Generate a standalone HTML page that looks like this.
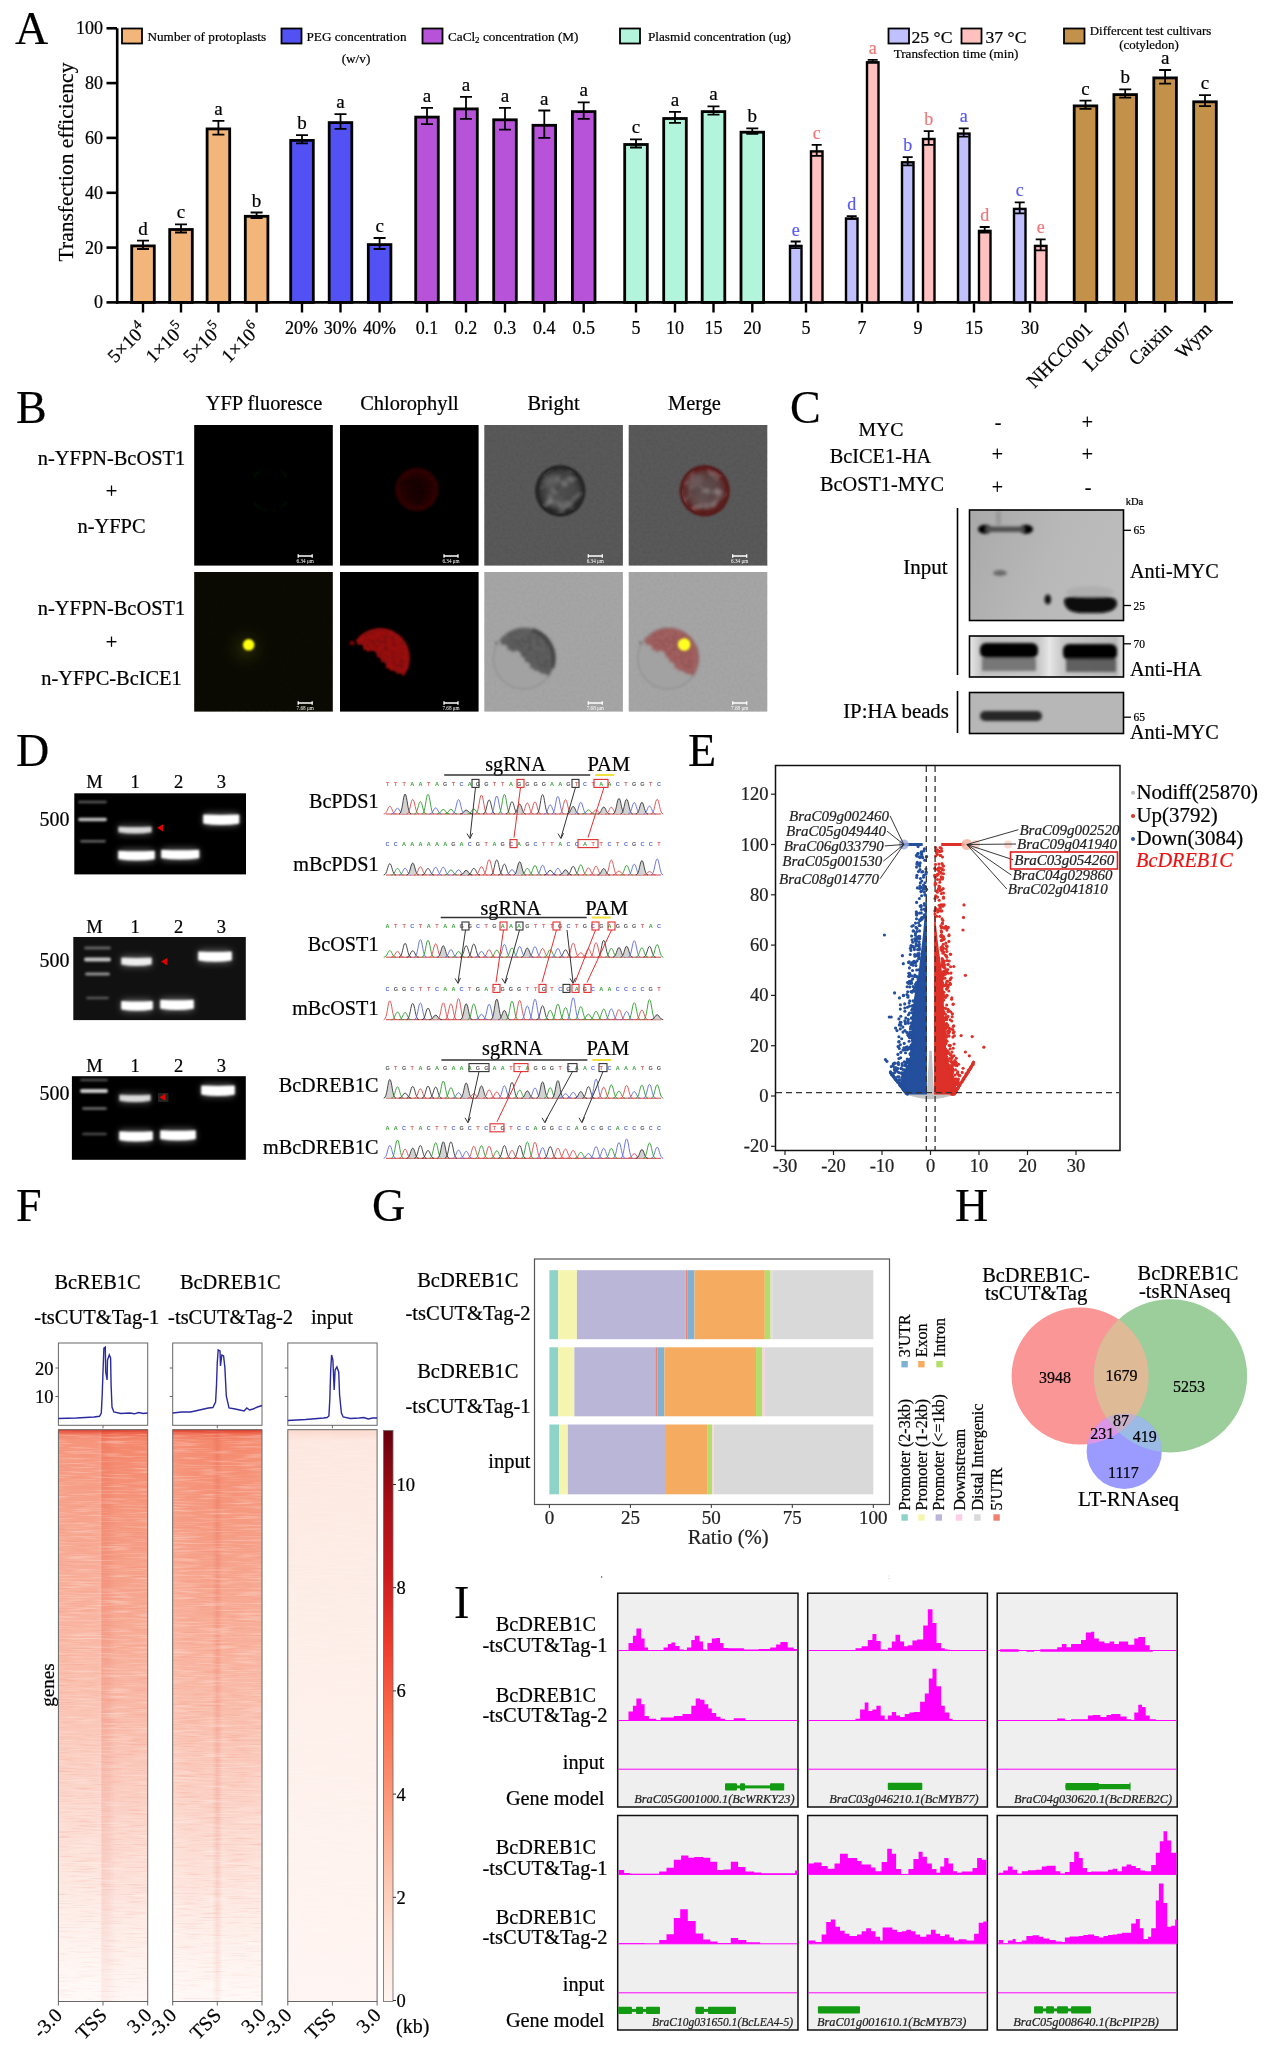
<!DOCTYPE html>
<html><head><meta charset="utf-8"><style>
html,body{margin:0;padding:0;background:#fff;}
body{width:1266px;height:2055px;overflow:hidden;}
svg{display:block;font-family:"Liberation Serif",serif;will-change:transform;}
</style></head><body>
<svg width="1266" height="2055" viewBox="0 0 1266 2055">
<defs>

<filter id="blur1" x="-50%" y="-50%" width="200%" height="200%"><feGaussianBlur stdDeviation="1"/></filter>
<filter id="blur2" x="-50%" y="-50%" width="200%" height="200%"><feGaussianBlur stdDeviation="2"/></filter>
<filter id="blur3" x="-50%" y="-50%" width="200%" height="200%"><feGaussianBlur stdDeviation="3"/></filter>
<filter id="blur5" x="-50%" y="-50%" width="200%" height="200%"><feGaussianBlur stdDeviation="5"/></filter>
<filter id="blur08" x="-50%" y="-50%" width="200%" height="200%"><feGaussianBlur stdDeviation="0.8"/></filter>
<filter id="blur15" x="-50%" y="-50%" width="200%" height="200%"><feGaussianBlur stdDeviation="1.5"/></filter>
<filter id="noiseB" x="0" y="0" width="100%" height="100%">
  <feTurbulence type="fractalNoise" baseFrequency="0.35" numOctaves="2" seed="3" result="n"/>
  <feColorMatrix in="n" type="matrix" values="0 0 0 0 0  0 0 0 0 0  0 0 0 0 0  0 0 0 0.5 -0.2" />
</filter>
<radialGradient id="cellDark" cx="0.5" cy="0.5" r="0.5">
  <stop offset="0" stop-color="#4e4e4e"/><stop offset="0.6" stop-color="#474747"/><stop offset="0.85" stop-color="#333"/><stop offset="1" stop-color="#262626"/>
</radialGradient>
<radialGradient id="cellRed" cx="0.5" cy="0.5" r="0.5">
  <stop offset="0" stop-color="#5e5050"/><stop offset="0.6" stop-color="#5a4242"/><stop offset="0.88" stop-color="#5e2424"/><stop offset="1" stop-color="#502020"/>
</radialGradient>
<radialGradient id="chlRing" cx="0.5" cy="0.5" r="0.5">
  <stop offset="0" stop-color="#140000"/><stop offset="0.6" stop-color="#220404"/><stop offset="0.9" stop-color="#320606"/><stop offset="1" stop-color="#000" stop-opacity="0"/>
</radialGradient>
<radialGradient id="yglow" cx="0.5" cy="0.5" r="0.5">
  <stop offset="0" stop-color="#2a2a06"/><stop offset="1" stop-color="#0b0b03" stop-opacity="0"/>
</radialGradient>
<clipPath id="cellClip2"><circle cx="560.3" cy="490.8" r="23"/></clipPath><clipPath id="cellClip3"><circle cx="704.7" cy="490.8" r="23"/></clipPath><mask id="cresM" maskUnits="userSpaceOnUse" x="0" y="0" width="1266" height="2055">
<rect x="0" y="0" width="1266" height="2055" fill="#000"/>
<circle cx="40" cy="86" r="30" fill="#fff"/>
<path d="M0,58 L14,72 L58,108 L72,120 L72,140 L0,140 z" fill="#000"/><circle cx="13.6" cy="72.4" r="3.7" fill="#000"/><circle cx="19.6" cy="76.4" r="3.8" fill="#000"/><circle cx="24.2" cy="82.0" r="4.3" fill="#000"/><circle cx="31.9" cy="83.8" r="5.1" fill="#000"/><circle cx="37.0" cy="88.8" r="3.9" fill="#000"/><circle cx="41.9" cy="94.0" r="4.1" fill="#000"/><circle cx="46.5" cy="99.6" r="3.7" fill="#000"/><circle cx="52.1" cy="104.0" r="5.4" fill="#000"/><circle cx="59.1" cy="106.6" r="5.1" fill="#000"/>
</mask>
<filter id="mottle" x="0" y="0" width="100%" height="100%">
  <feTurbulence type="fractalNoise" baseFrequency="0.25" numOctaves="2" seed="11" result="n"/>
  <feColorMatrix in="n" type="matrix" values="0 0 0 0 0  0 0 0 0 0  0 0 0 0 0  2.2 0 0 0 -1.0"/>
</filter>
<filter id="mottleL" x="0" y="0" width="100%" height="100%">
  <feTurbulence type="fractalNoise" baseFrequency="0.09" numOctaves="2" seed="5" result="n"/>
  <feColorMatrix in="n" type="matrix" values="0 0 0 0 0.75  0 0 0 0 0.75  0 0 0 0 0.75  2.6 0 0 0 -1.25"/>
  <feGaussianBlur stdDeviation="0.8"/>
</filter>
<linearGradient id="blot1" x1="0" y1="0" x2="1" y2="0.3"><stop offset="0" stop-color="#a9a9a9"/><stop offset="0.6" stop-color="#b8b8b8"/><stop offset="1" stop-color="#bcbcbc"/></linearGradient>
<linearGradient id="blot2" x1="0" y1="0" x2="1" y2="0"><stop offset="0" stop-color="#e8e8e8"/><stop offset="0.08" stop-color="#c2c2c2"/><stop offset="0.45" stop-color="#c8c8c8"/><stop offset="0.52" stop-color="#e6e6e6"/><stop offset="0.6" stop-color="#c8c8c8"/><stop offset="0.95" stop-color="#b8b8b8"/><stop offset="1" stop-color="#e0e0e0"/></linearGradient>

<linearGradient id="hmV" x1="0" y1="0" x2="0" y2="1">
 <stop offset="0" stop-color="#f06a50"/><stop offset="0.02" stop-color="#f58a6e"/><stop offset="0.15" stop-color="#f6987e"/>
 <stop offset="0.4" stop-color="#f9b09a"/><stop offset="0.65" stop-color="#fbcbbd"/><stop offset="0.85" stop-color="#fde3da"/><stop offset="1" stop-color="#fff3ee"/>
</linearGradient>
<linearGradient id="hmV3" x1="0" y1="0" x2="0" y2="1">
 <stop offset="0" stop-color="#fbd8cc"/><stop offset="0.02" stop-color="#fde8e0"/><stop offset="0.3" stop-color="#fdede7"/><stop offset="0.6" stop-color="#fef1ec"/><stop offset="1" stop-color="#fff5f2"/>
</linearGradient>
<linearGradient id="hmTSS" x1="0" y1="0" x2="1" y2="0">
 <stop offset="0" stop-color="#fff" stop-opacity="0.10"/><stop offset="0.44" stop-color="#fff" stop-opacity="0.10"/><stop offset="0.47" stop-color="#fff" stop-opacity="0.16"/>
 <stop offset="0.49" stop-color="#d83020" stop-opacity="0.14"/><stop offset="0.56" stop-color="#d83020" stop-opacity="0.12"/><stop offset="0.64" stop-color="#e04030" stop-opacity="0.04"/><stop offset="1" stop-color="#e04030" stop-opacity="0.02"/>
</linearGradient>
<linearGradient id="hmTSS2" x1="0" y1="0" x2="1" y2="0">
 <stop offset="0" stop-color="#fff" stop-opacity="0.08"/><stop offset="0.44" stop-color="#e04030" stop-opacity="0.0"/><stop offset="0.5" stop-color="#d83020" stop-opacity="0.16"/>
 <stop offset="0.56" stop-color="#e04030" stop-opacity="0.0"/><stop offset="1" stop-color="#fff" stop-opacity="0.05"/>
</linearGradient>
<linearGradient id="cbar" x1="0" y1="1" x2="0" y2="0">
 <stop offset="0" stop-color="#fff5f0"/><stop offset="0.125" stop-color="#fee0d2"/><stop offset="0.25" stop-color="#fcbba1"/><stop offset="0.375" stop-color="#fc9272"/>
 <stop offset="0.5" stop-color="#fb6a4a"/><stop offset="0.625" stop-color="#ef3b2c"/><stop offset="0.75" stop-color="#cb181d"/><stop offset="0.875" stop-color="#a50f15"/><stop offset="1" stop-color="#67000d"/>
</linearGradient>
<filter id="streakR" x="0" y="0" width="100%" height="100%">
  <feTurbulence type="fractalNoise" baseFrequency="0.04 0.7" numOctaves="2" seed="21" result="n"/>
  <feColorMatrix in="n" type="matrix" values="0 0 0 0 0.9  0 0 0 0 0.22  0 0 0 0 0.15  2.6 0 0 0 -1.35"/>
</filter>
<linearGradient id="hmTop" x1="0" y1="0" x2="0" y2="1"><stop offset="0" stop-color="#e0301e" stop-opacity="0.8"/><stop offset="1" stop-color="#e0301e" stop-opacity="0"/></linearGradient>
<linearGradient id="hmFade" x1="0" y1="0" x2="0" y2="1"><stop offset="0" stop-color="#fff" stop-opacity="0"/><stop offset="0.5" stop-color="#fff" stop-opacity="0.06"/><stop offset="0.8" stop-color="#fff" stop-opacity="0.25"/><stop offset="1" stop-color="#fff" stop-opacity="0.55"/></linearGradient>
<filter id="streak" x="0" y="0" width="100%" height="100%">
  <feTurbulence type="fractalNoise" baseFrequency="0.03 0.6" numOctaves="2" seed="9" result="n"/>
  <feColorMatrix in="n" type="matrix" values="0 0 0 0 1  0 0 0 0 1  0 0 0 0 1  0 0 0 1.6 -0.75"/>
</filter>
<clipPath id="cR"><circle cx="1080.1" cy="1376" r="68.5"/></clipPath><clipPath id="cG"><circle cx="1170.5" cy="1375.8" r="76.6"/></clipPath>
</defs>
<text x="15.0" y="44.0" font-size="46" text-anchor="start" fill="#000" stroke="#000" stroke-width="0.22" >A</text>
<g stroke="#000" stroke-width="2.6" fill="none">
<path d="M117.2,28.3 V303.7"/>
<path d="M106.5,302.4 H117"/>
<path d="M106.5,247.6 H117"/>
<path d="M106.5,192.8 H117"/>
<path d="M106.5,137.9 H117"/>
<path d="M106.5,83.1 H117"/>
<path d="M106.5,28.3 H117"/>
</g>
<text x="103.0" y="308.4" font-size="18" text-anchor="end" fill="#000" stroke="#000" stroke-width="0.22" >0</text>
<text x="103.0" y="253.6" font-size="18" text-anchor="end" fill="#000" stroke="#000" stroke-width="0.22" >20</text>
<text x="103.0" y="198.8" font-size="18" text-anchor="end" fill="#000" stroke="#000" stroke-width="0.22" >40</text>
<text x="103.0" y="143.9" font-size="18" text-anchor="end" fill="#000" stroke="#000" stroke-width="0.22" >60</text>
<text x="103.0" y="89.1" font-size="18" text-anchor="end" fill="#000" stroke="#000" stroke-width="0.22" >80</text>
<text x="103.0" y="34.3" font-size="18" text-anchor="end" fill="#000" stroke="#000" stroke-width="0.22" >100</text>
<text transform="translate(73,162) rotate(-90)" font-size="21.5" text-anchor="middle" stroke="#000" stroke-width="0.22">Transfection efficiency</text>
<path d="M116,302.4 H1233" stroke="#000" stroke-width="2.8"/>
<rect x="131.7" y="245.9" width="22.6" height="56.5" fill="#f2b57a" stroke="#000" stroke-width="2.8"/>
<path d="M143.0,240.7 V249.0 M137.0,240.7 H149.0 M137.0,249.0 H149.0" stroke="#000" stroke-width="1.8" fill="none"/>
<text x="143.0" y="234.7" font-size="19" text-anchor="middle" fill="#000" stroke="#000" stroke-width="0.22" >d</text>
<path d="M143.0,303.4 V312.5" stroke="#000" stroke-width="2.4"/>
<rect x="169.7" y="229.5" width="22.6" height="72.9" fill="#f2b57a" stroke="#000" stroke-width="2.8"/>
<path d="M181.0,224.3 V232.5 M175.0,224.3 H187.0 M175.0,232.5 H187.0" stroke="#000" stroke-width="1.8" fill="none"/>
<text x="181.0" y="218.3" font-size="19" text-anchor="middle" fill="#000" stroke="#000" stroke-width="0.22" >c</text>
<path d="M181.0,303.4 V312.5" stroke="#000" stroke-width="2.4"/>
<rect x="207.1" y="128.9" width="22.6" height="173.5" fill="#f2b57a" stroke="#000" stroke-width="2.8"/>
<path d="M218.4,120.9 V134.7 M212.4,120.9 H224.4 M212.4,134.7 H224.4" stroke="#000" stroke-width="1.8" fill="none"/>
<text x="218.4" y="114.9" font-size="19" text-anchor="middle" fill="#000" stroke="#000" stroke-width="0.22" >a</text>
<path d="M218.4,303.4 V312.5" stroke="#000" stroke-width="2.4"/>
<rect x="245.3" y="216.3" width="22.6" height="86.1" fill="#f2b57a" stroke="#000" stroke-width="2.8"/>
<path d="M256.6,212.5 V218.0 M250.6,212.5 H262.6 M250.6,218.0 H262.6" stroke="#000" stroke-width="1.8" fill="none"/>
<text x="256.6" y="206.5" font-size="19" text-anchor="middle" fill="#000" stroke="#000" stroke-width="0.22" >b</text>
<path d="M256.6,303.4 V312.5" stroke="#000" stroke-width="2.4"/>
<rect x="290.7" y="140.4" width="22.6" height="162.0" fill="#5252f4" stroke="#000" stroke-width="2.8"/>
<path d="M302.0,135.2 V143.4 M296.0,135.2 H308.0 M296.0,143.4 H308.0" stroke="#000" stroke-width="1.8" fill="none"/>
<text x="302.0" y="129.2" font-size="19" text-anchor="middle" fill="#000" stroke="#000" stroke-width="0.22" >b</text>
<path d="M302.0,303.4 V312.5" stroke="#000" stroke-width="2.4"/>
<rect x="329.2" y="122.6" width="22.6" height="179.8" fill="#5252f4" stroke="#000" stroke-width="2.8"/>
<path d="M340.5,114.1 V128.9 M334.5,114.1 H346.5 M334.5,128.9 H346.5" stroke="#000" stroke-width="1.8" fill="none"/>
<text x="340.5" y="108.1" font-size="19" text-anchor="middle" fill="#000" stroke="#000" stroke-width="0.22" >a</text>
<path d="M340.5,303.4 V312.5" stroke="#000" stroke-width="2.4"/>
<rect x="368.3" y="244.6" width="22.6" height="57.8" fill="#5252f4" stroke="#000" stroke-width="2.8"/>
<path d="M379.6,238.0 V249.0 M373.6,238.0 H385.6 M373.6,249.0 H385.6" stroke="#000" stroke-width="1.8" fill="none"/>
<text x="379.6" y="232.0" font-size="19" text-anchor="middle" fill="#000" stroke="#000" stroke-width="0.22" >c</text>
<path d="M379.6,303.4 V312.5" stroke="#000" stroke-width="2.4"/>
<rect x="415.7" y="117.1" width="22.6" height="185.3" fill="#b653d8" stroke="#000" stroke-width="2.8"/>
<path d="M427.0,107.8 V124.2 M421.0,107.8 H433.0 M421.0,124.2 H433.0" stroke="#000" stroke-width="1.8" fill="none"/>
<text x="427.0" y="101.8" font-size="19" text-anchor="middle" fill="#000" stroke="#000" stroke-width="0.22" >a</text>
<path d="M427.0,303.4 V312.5" stroke="#000" stroke-width="2.4"/>
<rect x="454.7" y="108.9" width="22.6" height="193.5" fill="#b653d8" stroke="#000" stroke-width="2.8"/>
<path d="M466.0,96.8 V118.8 M460.0,96.8 H472.0 M460.0,118.8 H472.0" stroke="#000" stroke-width="1.8" fill="none"/>
<text x="466.0" y="90.8" font-size="19" text-anchor="middle" fill="#000" stroke="#000" stroke-width="0.22" >a</text>
<path d="M466.0,303.4 V312.5" stroke="#000" stroke-width="2.4"/>
<rect x="493.7" y="119.8" width="22.6" height="182.6" fill="#b653d8" stroke="#000" stroke-width="2.8"/>
<path d="M505.0,107.8 V129.7 M499.0,107.8 H511.0 M499.0,129.7 H511.0" stroke="#000" stroke-width="1.8" fill="none"/>
<text x="505.0" y="101.8" font-size="19" text-anchor="middle" fill="#000" stroke="#000" stroke-width="0.22" >a</text>
<path d="M505.0,303.4 V312.5" stroke="#000" stroke-width="2.4"/>
<rect x="533.0" y="125.3" width="22.6" height="177.1" fill="#b653d8" stroke="#000" stroke-width="2.8"/>
<path d="M544.3,110.5 V137.9 M538.3,110.5 H550.3 M538.3,137.9 H550.3" stroke="#000" stroke-width="1.8" fill="none"/>
<text x="544.3" y="104.5" font-size="19" text-anchor="middle" fill="#000" stroke="#000" stroke-width="0.22" >a</text>
<path d="M544.3,303.4 V312.5" stroke="#000" stroke-width="2.4"/>
<rect x="572.4" y="111.6" width="22.6" height="190.8" fill="#b653d8" stroke="#000" stroke-width="2.8"/>
<path d="M583.7,102.3 V118.8 M577.7,102.3 H589.7 M577.7,118.8 H589.7" stroke="#000" stroke-width="1.8" fill="none"/>
<text x="583.7" y="96.3" font-size="19" text-anchor="middle" fill="#000" stroke="#000" stroke-width="0.22" >a</text>
<path d="M583.7,303.4 V312.5" stroke="#000" stroke-width="2.4"/>
<rect x="624.7" y="144.5" width="22.6" height="157.9" fill="#b2f5dc" stroke="#000" stroke-width="2.8"/>
<path d="M636.0,139.3 V147.5 M630.0,139.3 H642.0 M630.0,147.5 H642.0" stroke="#000" stroke-width="1.8" fill="none"/>
<text x="636.0" y="133.3" font-size="19" text-anchor="middle" fill="#000" stroke="#000" stroke-width="0.22" >c</text>
<path d="M636.0,303.4 V312.5" stroke="#000" stroke-width="2.4"/>
<rect x="663.7" y="118.5" width="22.6" height="183.9" fill="#b2f5dc" stroke="#000" stroke-width="2.8"/>
<path d="M675.0,111.9 V122.9 M669.0,111.9 H681.0 M669.0,122.9 H681.0" stroke="#000" stroke-width="1.8" fill="none"/>
<text x="675.0" y="105.9" font-size="19" text-anchor="middle" fill="#000" stroke="#000" stroke-width="0.22" >a</text>
<path d="M675.0,303.4 V312.5" stroke="#000" stroke-width="2.4"/>
<rect x="702.2" y="111.6" width="22.6" height="190.8" fill="#b2f5dc" stroke="#000" stroke-width="2.8"/>
<path d="M713.5,106.4 V114.6 M707.5,106.4 H719.5 M707.5,114.6 H719.5" stroke="#000" stroke-width="1.8" fill="none"/>
<text x="713.5" y="100.4" font-size="19" text-anchor="middle" fill="#000" stroke="#000" stroke-width="0.22" >a</text>
<path d="M713.5,303.4 V312.5" stroke="#000" stroke-width="2.4"/>
<rect x="741.0" y="132.2" width="22.6" height="170.2" fill="#b2f5dc" stroke="#000" stroke-width="2.8"/>
<path d="M752.3,128.3 V133.8 M746.3,128.3 H758.3 M746.3,133.8 H758.3" stroke="#000" stroke-width="1.8" fill="none"/>
<text x="752.3" y="122.3" font-size="19" text-anchor="middle" fill="#000" stroke="#000" stroke-width="0.22" >b</text>
<path d="M752.3,303.4 V312.5" stroke="#000" stroke-width="2.4"/>
<rect x="1074.2" y="105.9" width="22.6" height="196.5" fill="#c4914b" stroke="#000" stroke-width="2.8"/>
<path d="M1085.5,100.7 V108.9 M1079.5,100.7 H1091.5 M1079.5,108.9 H1091.5" stroke="#000" stroke-width="1.8" fill="none"/>
<text x="1085.5" y="94.7" font-size="19" text-anchor="middle" fill="#000" stroke="#000" stroke-width="0.22" >c</text>
<path d="M1085.5,303.4 V312.5" stroke="#000" stroke-width="2.4"/>
<rect x="1113.9" y="94.6" width="22.6" height="207.8" fill="#c4914b" stroke="#000" stroke-width="2.8"/>
<path d="M1125.2,89.4 V97.6 M1119.2,89.4 H1131.2 M1119.2,97.6 H1131.2" stroke="#000" stroke-width="1.8" fill="none"/>
<text x="1125.2" y="83.4" font-size="19" text-anchor="middle" fill="#000" stroke="#000" stroke-width="0.22" >b</text>
<path d="M1125.2,303.4 V312.5" stroke="#000" stroke-width="2.4"/>
<rect x="1153.8" y="77.9" width="22.6" height="224.5" fill="#c4914b" stroke="#000" stroke-width="2.8"/>
<path d="M1165.1,70.0 V83.7 M1159.1,70.0 H1171.1 M1159.1,83.7 H1171.1" stroke="#000" stroke-width="1.8" fill="none"/>
<text x="1165.1" y="64.0" font-size="19" text-anchor="middle" fill="#000" stroke="#000" stroke-width="0.22" >a</text>
<path d="M1165.1,303.4 V312.5" stroke="#000" stroke-width="2.4"/>
<rect x="1193.7" y="101.8" width="22.6" height="200.6" fill="#c4914b" stroke="#000" stroke-width="2.8"/>
<path d="M1205.0,95.2 V106.1 M1199.0,95.2 H1211.0 M1199.0,106.1 H1211.0" stroke="#000" stroke-width="1.8" fill="none"/>
<text x="1205.0" y="89.2" font-size="19" text-anchor="middle" fill="#000" stroke="#000" stroke-width="0.22" >c</text>
<path d="M1205.0,303.4 V312.5" stroke="#000" stroke-width="2.4"/>
<rect x="790.0" y="245.9" width="11.5" height="56.5" fill="#c0c0ff" stroke="#000" stroke-width="2.4"/>
<path d="M795.7,241.5 V248.1 M790.7,241.5 H800.7 M790.7,248.1 H800.7" stroke="#000" stroke-width="1.8" fill="none"/>
<text x="795.7" y="235.5" font-size="18" text-anchor="middle" fill="#5a5af0" stroke="#5a5af0" stroke-width="0.22" >e</text>
<rect x="811.0" y="151.4" width="11.5" height="151.0" fill="#ffc0c0" stroke="#000" stroke-width="2.4"/>
<path d="M816.7,144.8 V155.8 M811.7,144.8 H821.7 M811.7,155.8 H821.7" stroke="#000" stroke-width="1.8" fill="none"/>
<text x="816.7" y="138.8" font-size="18" text-anchor="middle" fill="#f07878" stroke="#f07878" stroke-width="0.22" >c</text>
<path d="M806.0,303.4 V312.5" stroke="#000" stroke-width="2.4"/>
<rect x="846.0" y="218.5" width="11.5" height="83.9" fill="#c0c0ff" stroke="#000" stroke-width="2.4"/>
<path d="M851.7,216.1 V218.8 M846.7,216.1 H856.7 M846.7,218.8 H856.7" stroke="#000" stroke-width="1.8" fill="none"/>
<text x="851.7" y="210.1" font-size="18" text-anchor="middle" fill="#5a5af0" stroke="#5a5af0" stroke-width="0.22" >d</text>
<rect x="867.0" y="62.3" width="11.5" height="240.1" fill="#ffc0c0" stroke="#000" stroke-width="2.4"/>
<path d="M872.7,59.8 V62.6 M867.7,59.8 H877.7 M867.7,62.6 H877.7" stroke="#000" stroke-width="1.8" fill="none"/>
<text x="872.7" y="53.8" font-size="18" text-anchor="middle" fill="#f07878" stroke="#f07878" stroke-width="0.22" >a</text>
<path d="M862.0,303.4 V312.5" stroke="#000" stroke-width="2.4"/>
<rect x="902.0" y="162.3" width="11.5" height="140.1" fill="#c0c0ff" stroke="#000" stroke-width="2.4"/>
<path d="M907.7,157.1 V165.3 M902.7,157.1 H912.7 M902.7,165.3 H912.7" stroke="#000" stroke-width="1.8" fill="none"/>
<text x="907.7" y="151.1" font-size="18" text-anchor="middle" fill="#5a5af0" stroke="#5a5af0" stroke-width="0.22" >b</text>
<rect x="923.0" y="139.0" width="11.5" height="163.4" fill="#ffc0c0" stroke="#000" stroke-width="2.4"/>
<path d="M928.7,131.1 V144.8 M923.7,131.1 H933.7 M923.7,144.8 H933.7" stroke="#000" stroke-width="1.8" fill="none"/>
<text x="928.7" y="125.1" font-size="18" text-anchor="middle" fill="#f07878" stroke="#f07878" stroke-width="0.22" >b</text>
<path d="M918.0,303.4 V312.5" stroke="#000" stroke-width="2.4"/>
<rect x="958.0" y="133.6" width="11.5" height="168.8" fill="#c0c0ff" stroke="#000" stroke-width="2.4"/>
<path d="M963.7,128.3 V136.6 M958.7,128.3 H968.7 M958.7,136.6 H968.7" stroke="#000" stroke-width="1.8" fill="none"/>
<text x="963.7" y="122.3" font-size="18" text-anchor="middle" fill="#5a5af0" stroke="#5a5af0" stroke-width="0.22" >a</text>
<rect x="979.0" y="230.9" width="11.5" height="71.5" fill="#ffc0c0" stroke="#000" stroke-width="2.4"/>
<path d="M984.7,227.0 V232.5 M979.7,227.0 H989.7 M979.7,232.5 H989.7" stroke="#000" stroke-width="1.8" fill="none"/>
<text x="984.7" y="221.0" font-size="18" text-anchor="middle" fill="#f07878" stroke="#f07878" stroke-width="0.22" >d</text>
<path d="M974.0,303.4 V312.5" stroke="#000" stroke-width="2.4"/>
<rect x="1014.0" y="208.9" width="11.5" height="93.5" fill="#c0c0ff" stroke="#000" stroke-width="2.4"/>
<path d="M1019.7,202.4 V213.3 M1014.7,202.4 H1024.7 M1014.7,213.3 H1024.7" stroke="#000" stroke-width="1.8" fill="none"/>
<text x="1019.7" y="196.4" font-size="18" text-anchor="middle" fill="#5a5af0" stroke="#5a5af0" stroke-width="0.22" >c</text>
<rect x="1035.0" y="245.9" width="11.5" height="56.5" fill="#ffc0c0" stroke="#000" stroke-width="2.4"/>
<path d="M1040.7,239.4 V250.3 M1035.7,239.4 H1045.7 M1035.7,250.3 H1045.7" stroke="#000" stroke-width="1.8" fill="none"/>
<text x="1040.7" y="233.4" font-size="18" text-anchor="middle" fill="#f07878" stroke="#f07878" stroke-width="0.22" >e</text>
<path d="M1030.0,303.4 V312.5" stroke="#000" stroke-width="2.4"/>
<text x="301.6" y="334.0" font-size="18" text-anchor="middle" fill="#000" stroke="#000" stroke-width="0.22" >20%</text>
<text x="340.3" y="334.0" font-size="18" text-anchor="middle" fill="#000" stroke="#000" stroke-width="0.22" >30%</text>
<text x="379.5" y="334.0" font-size="18" text-anchor="middle" fill="#000" stroke="#000" stroke-width="0.22" >40%</text>
<text x="427.0" y="334.0" font-size="18" text-anchor="middle" fill="#000" stroke="#000" stroke-width="0.22" >0.1</text>
<text x="466.0" y="334.0" font-size="18" text-anchor="middle" fill="#000" stroke="#000" stroke-width="0.22" >0.2</text>
<text x="505.0" y="334.0" font-size="18" text-anchor="middle" fill="#000" stroke="#000" stroke-width="0.22" >0.3</text>
<text x="544.3" y="334.0" font-size="18" text-anchor="middle" fill="#000" stroke="#000" stroke-width="0.22" >0.4</text>
<text x="583.7" y="334.0" font-size="18" text-anchor="middle" fill="#000" stroke="#000" stroke-width="0.22" >0.5</text>
<text x="636.0" y="334.0" font-size="18" text-anchor="middle" fill="#000" stroke="#000" stroke-width="0.22" >5</text>
<text x="675.0" y="334.0" font-size="18" text-anchor="middle" fill="#000" stroke="#000" stroke-width="0.22" >10</text>
<text x="713.5" y="334.0" font-size="18" text-anchor="middle" fill="#000" stroke="#000" stroke-width="0.22" >15</text>
<text x="752.3" y="334.0" font-size="18" text-anchor="middle" fill="#000" stroke="#000" stroke-width="0.22" >20</text>
<text x="806.0" y="334.0" font-size="18" text-anchor="middle" fill="#000" stroke="#000" stroke-width="0.22" >5</text>
<text x="862.0" y="334.0" font-size="18" text-anchor="middle" fill="#000" stroke="#000" stroke-width="0.22" >7</text>
<text x="918.0" y="334.0" font-size="18" text-anchor="middle" fill="#000" stroke="#000" stroke-width="0.22" >9</text>
<text x="974.0" y="334.0" font-size="18" text-anchor="middle" fill="#000" stroke="#000" stroke-width="0.22" >15</text>
<text x="1030.0" y="334.0" font-size="18" text-anchor="middle" fill="#000" stroke="#000" stroke-width="0.22" >30</text>
<text transform="translate(148.0,331) rotate(-45)" font-size="19" text-anchor="end" stroke="#000" stroke-width="0.22">5×10<tspan dy="-8" font-size="14">4</tspan></text>
<text transform="translate(186.0,331) rotate(-45)" font-size="19" text-anchor="end" stroke="#000" stroke-width="0.22">1×10<tspan dy="-8" font-size="14">5</tspan></text>
<text transform="translate(223.4,331) rotate(-45)" font-size="19" text-anchor="end" stroke="#000" stroke-width="0.22">5×10<tspan dy="-8" font-size="14">5</tspan></text>
<text transform="translate(261.6,331) rotate(-45)" font-size="19" text-anchor="end" stroke="#000" stroke-width="0.22">1×10<tspan dy="-8" font-size="14">6</tspan></text>
<text transform="translate(1093.5,330) rotate(-45)" font-size="19.5" text-anchor="end" stroke="#000" stroke-width="0.22">NHCC001</text>
<text transform="translate(1133.2,330) rotate(-45)" font-size="19.5" text-anchor="end" stroke="#000" stroke-width="0.22">Lcx007</text>
<text transform="translate(1173.1,330) rotate(-45)" font-size="19.5" text-anchor="end" stroke="#000" stroke-width="0.22">Caixin</text>
<text transform="translate(1213.0,330) rotate(-45)" font-size="19.5" text-anchor="end" stroke="#000" stroke-width="0.22">Wym</text>
<rect x="122" y="28.5" width="20" height="15" fill="#f2b57a" stroke="#000" stroke-width="1.8"/>
<text x="147.5" y="41.0" font-size="13.2" text-anchor="start" fill="#000" stroke="#000" stroke-width="0.22" >Number of protoplasts</text>
<rect x="281.5" y="28.5" width="20" height="15" fill="#5252f4" stroke="#000" stroke-width="1.8"/>
<text x="306.5" y="41.0" font-size="13.2" text-anchor="start" fill="#000" stroke="#000" stroke-width="0.22" >PEG concentration</text>
<text x="356.0" y="63.0" font-size="13.2" text-anchor="middle" fill="#000" stroke="#000" stroke-width="0.22" >(w/v)</text>
<rect x="422.5" y="28.5" width="20" height="15" fill="#b653d8" stroke="#000" stroke-width="1.8"/>
<text x="448.0" y="41.0" font-size="13.2" text-anchor="start" fill="#000" stroke="#000" stroke-width="0.22" >CaCl<tspan font-size="9" dy="1.5">2</tspan><tspan dy="-1.5"> concentration (M)</tspan></text>
<rect x="620" y="28.5" width="20" height="15" fill="#b2f5dc" stroke="#000" stroke-width="1.8"/>
<text x="648.0" y="41.0" font-size="13.2" text-anchor="start" fill="#000" stroke="#000" stroke-width="0.22" >Plasmid concentration (ug)</text>
<rect x="888.5" y="28.5" width="20.5" height="15" fill="#c0c0ff" stroke="#000" stroke-width="1.8"/>
<text x="911.5" y="42.5" font-size="17.7" text-anchor="start" fill="#000" stroke="#000" stroke-width="0.22" >25 °C</text>
<rect x="961.5" y="28.5" width="20" height="15" fill="#ffc0c0" stroke="#000" stroke-width="1.8"/>
<text x="985.5" y="42.5" font-size="17.7" text-anchor="start" fill="#000" stroke="#000" stroke-width="0.22" >37 °C</text>
<text x="956.0" y="57.5" font-size="13.1" text-anchor="middle" fill="#000" stroke="#000" stroke-width="0.22" >Transfection time (min)</text>
<rect x="1064" y="28.5" width="20.5" height="15" fill="#c4914b" stroke="#000" stroke-width="1.8"/>
<text x="1150.5" y="35.0" font-size="12.9" text-anchor="middle" fill="#000" stroke="#000" stroke-width="0.22" >Differcent test cultivars</text>
<text x="1149.0" y="48.5" font-size="12.9" text-anchor="middle" fill="#000" stroke="#000" stroke-width="0.22" >(cotyledon)</text>
<text x="16.0" y="423.0" font-size="46" text-anchor="start" fill="#000" stroke="#000" stroke-width="0.22" >B</text>
<text x="264.0" y="409.5" font-size="20.4" text-anchor="middle" fill="#000" stroke="#000" stroke-width="0.22" >YFP fluoresce</text>
<text x="409.5" y="409.5" font-size="20.4" text-anchor="middle" fill="#000" stroke="#000" stroke-width="0.22" >Chlorophyll</text>
<text x="553.5" y="409.5" font-size="20.4" text-anchor="middle" fill="#000" stroke="#000" stroke-width="0.22" >Bright</text>
<text x="694.5" y="409.5" font-size="20.4" text-anchor="middle" fill="#000" stroke="#000" stroke-width="0.22" >Merge</text>
<text x="111.5" y="465.0" font-size="20.4" text-anchor="middle" fill="#000" stroke="#000" stroke-width="0.22" >n-YFPN-BcOST1</text>
<text x="111.5" y="498.0" font-size="20.4" text-anchor="middle" fill="#000" stroke="#000" stroke-width="0.22" >+</text>
<text x="111.5" y="533.0" font-size="20.4" text-anchor="middle" fill="#000" stroke="#000" stroke-width="0.22" >n-YFPC</text>
<text x="111.5" y="615.0" font-size="20.4" text-anchor="middle" fill="#000" stroke="#000" stroke-width="0.22" >n-YFPN-BcOST1</text>
<text x="111.5" y="648.5" font-size="20.4" text-anchor="middle" fill="#000" stroke="#000" stroke-width="0.22" >+</text>
<text x="111.5" y="685.0" font-size="20.4" text-anchor="middle" fill="#000" stroke="#000" stroke-width="0.22" >n-YFPC-BcICE1</text>
<rect x="194.2" y="425" width="138.6" height="140.6" fill="#000"/>
<circle cx="270.2" cy="489.5" r="21" fill="none" stroke="#050c05" stroke-width="3" filter="url(#blur2)"/>
<rect x="340" y="425" width="138.6" height="140.6" fill="#000"/>
<circle cx="417" cy="489.5" r="23" fill="url(#chlRing)" filter="url(#blur1)"/>
<path d="M400,485 q10,-8 20,0 q8,10 -4,18" stroke="#150000" stroke-width="3" fill="none" filter="url(#blur1)"/>
<rect x="484.3" y="425" width="138.6" height="140.6" fill="#595959"/>
<rect x="484.3" y="425" width="138.6" height="140.6" fill="#000" filter="url(#noiseB)" opacity="0.25"/>
<ellipse cx="560.3" cy="490.8" rx="24.5" ry="25.5" fill="url(#cellDark)" filter="url(#blur08)"/>
<path d="M541.3,481 q6,-8 16,-6 q4,6 -4,12 q-8,4 -12,-6 z" fill="#6e6e6e" opacity="0.5" filter="url(#blur2)"/>
<path d="M546.3,497 q10,-6 18,2 q4,8 -6,10 q-10,0 -12,-12 z" fill="#626262" opacity="0.45" filter="url(#blur2)"/>
<path d="M542.3,505 q18,14 36,-2" stroke="#262626" stroke-width="4" fill="none" opacity="0.6" filter="url(#blur1)"/>
<circle cx="560.3" cy="490.8" r="23.5" fill="none" stroke="#1e1e1e" stroke-width="2.2" opacity="0.8" filter="url(#blur08)"/>
<g clip-path="url(#cellClip2)"><rect x="534.3" y="465" width="52" height="52" filter="url(#mottleL)" opacity="0.35"/></g>
<rect x="628.7" y="425" width="138.6" height="140.6" fill="#595959"/>
<rect x="628.7" y="425" width="138.6" height="140.6" fill="#000" filter="url(#noiseB)" opacity="0.25"/>
<ellipse cx="704.7" cy="490.8" rx="24.5" ry="25.5" fill="url(#cellRed)" filter="url(#blur08)"/>
<path d="M685.7,481 q6,-8 16,-6 q4,6 -4,12 q-8,4 -12,-6 z" fill="#7a6a6a" opacity="0.5" filter="url(#blur2)"/>
<path d="M690.7,497 q10,-6 18,2 q4,8 -6,10 q-10,0 -12,-12 z" fill="#6a5252" opacity="0.45" filter="url(#blur2)"/>
<path d="M686.7,505 q18,14 36,-2" stroke="#5a1a1a" stroke-width="4" fill="none" opacity="0.6" filter="url(#blur1)"/>
<circle cx="704.7" cy="490.8" r="23.5" fill="none" stroke="#5a1414" stroke-width="2.2" opacity="0.8" filter="url(#blur08)"/>
<g clip-path="url(#cellClip3)"><rect x="678.7" y="465" width="52" height="52" filter="url(#mottleL)" opacity="0.35"/></g>
<path d="M298.2,556 H312.2 M298.2,554.2 V557.8 M312.2,554.2 V557.8" stroke="#fff" stroke-width="1.3"/>
<text x="305.2" y="563" font-size="5.2" fill="#fff" text-anchor="middle">6.34 μm</text>
<path d="M444,556 H458 M444,554.2 V557.8 M458,554.2 V557.8" stroke="#fff" stroke-width="1.3"/>
<text x="451" y="563" font-size="5.2" fill="#fff" text-anchor="middle">6.34 μm</text>
<path d="M588.3,556 H602.3 M588.3,554.2 V557.8 M602.3,554.2 V557.8" stroke="#fff" stroke-width="1.3"/>
<text x="595.3" y="563" font-size="5.2" fill="#fff" text-anchor="middle">6.34 μm</text>
<path d="M732.7,556 H746.7 M732.7,554.2 V557.8 M746.7,554.2 V557.8" stroke="#fff" stroke-width="1.3"/>
<text x="739.7" y="563" font-size="5.2" fill="#fff" text-anchor="middle">6.34 μm</text>
<rect x="194.2" y="572" width="138.6" height="139.6" fill="#0b0b03"/>
<rect x="194.2" y="572" width="138.6" height="139.6" fill="#2a2a00" filter="url(#noiseB)" opacity="0.35"/>
<circle cx="246.2" cy="648" r="26" fill="url(#yglow)"/>
<circle cx="248.7" cy="644.8" r="5.8" fill="#ffff10" filter="url(#blur08)"/>
<rect x="340" y="572" width="138.6" height="139.6" fill="#000"/>
<g transform="translate(340,572)"><g filter="url(#blur1)"><g mask="url(#cresM)"><rect x="0" y="50" width="80" height="80" fill="#9c0e0e" opacity="1.0"/><rect x="0" y="50" width="80" height="80" filter="url(#mottle)" opacity="0.45"/></g></g></g>
<circle cx="352" cy="643" r="2.3" fill="#800" filter="url(#blur08)"/>
<rect x="484.3" y="572" width="138.6" height="139.6" fill="#a5a5a5"/>
<rect x="484.3" y="572" width="138.6" height="139.6" fill="#000" filter="url(#noiseB)" opacity="0.12"/>
<circle cx="523.8" cy="658.5" r="30.5" fill="#a2a2a2" stroke="#939393" stroke-width="1.5" filter="url(#blur1)"/>
<circle cx="496.3" cy="643" r="2" fill="#858585" filter="url(#blur08)"/>
<rect x="628.7" y="572" width="138.6" height="139.6" fill="#a5a5a5"/>
<rect x="628.7" y="572" width="138.6" height="139.6" fill="#000" filter="url(#noiseB)" opacity="0.12"/>
<circle cx="668.2" cy="658.5" r="30.5" fill="#a2a2a2" stroke="#939393" stroke-width="1.5" filter="url(#blur1)"/>
<circle cx="640.7" cy="643" r="2" fill="#858585" filter="url(#blur08)"/>
<g transform="translate(484.3,572)"><g filter="url(#blur15)"><g mask="url(#cresM)"><rect x="0" y="50" width="80" height="80" fill="#454545" opacity="0.7"/><rect x="0" y="50" width="80" height="80" filter="url(#mottle)" opacity="0.35"/></g></g></g>
<path d="M532.3,630 A30,30 0 0 1 552.3,668" stroke="#2a2a2a" stroke-width="4" fill="none" opacity="0.6" filter="url(#blur15)"/>
<g transform="translate(628.7,572)"><g filter="url(#blur15)"><g mask="url(#cresM)"><rect x="0" y="50" width="80" height="80" fill="#a03030" opacity="0.6"/><rect x="0" y="50" width="80" height="80" filter="url(#mottle)" opacity="0.2"/></g></g></g>
<circle cx="684.2" cy="644.5" r="6.3" fill="#ffff20" filter="url(#blur08)"/>
<path d="M298.2,703 H312.2 M298.2,701.2 V704.8 M312.2,701.2 V704.8" stroke="#fff" stroke-width="1.3"/>
<text x="305.2" y="710" font-size="5.2" fill="#fff" text-anchor="middle">7.68 μm</text>
<path d="M444,703 H458 M444,701.2 V704.8 M458,701.2 V704.8" stroke="#fff" stroke-width="1.3"/>
<text x="451" y="710" font-size="5.2" fill="#fff" text-anchor="middle">7.68 μm</text>
<path d="M588.3,703 H602.3 M588.3,701.2 V704.8 M602.3,701.2 V704.8" stroke="#fff" stroke-width="1.3"/>
<text x="595.3" y="710" font-size="5.2" fill="#fff" text-anchor="middle">7.68 μm</text>
<path d="M732.7,703 H746.7 M732.7,701.2 V704.8 M746.7,701.2 V704.8" stroke="#fff" stroke-width="1.3"/>
<text x="739.7" y="710" font-size="5.2" fill="#fff" text-anchor="middle">7.68 μm</text>
<text x="790.0" y="423.0" font-size="46" text-anchor="start" fill="#000" stroke="#000" stroke-width="0.22" >C</text>
<text x="881.0" y="435.5" font-size="19.8" text-anchor="middle" fill="#000" stroke="#000" stroke-width="0.22" >MYC</text>
<text x="880.5" y="462.5" font-size="20.3" text-anchor="middle" fill="#000" stroke="#000" stroke-width="0.22" >BcICE1-HA</text>
<text x="882.0" y="491.0" font-size="20.3" text-anchor="middle" fill="#000" stroke="#000" stroke-width="0.22" >BcOST1-MYC</text>
<text x="998.0" y="429.0" font-size="20" text-anchor="middle" fill="#000" stroke="#000" stroke-width="0.22" >-</text>
<text x="1087.5" y="429.0" font-size="20" text-anchor="middle" fill="#000" stroke="#000" stroke-width="0.22" >+</text>
<text x="997.5" y="461.0" font-size="20" text-anchor="middle" fill="#000" stroke="#000" stroke-width="0.22" >+</text>
<text x="1087.5" y="461.0" font-size="20" text-anchor="middle" fill="#000" stroke="#000" stroke-width="0.22" >+</text>
<text x="997.5" y="493.5" font-size="20" text-anchor="middle" fill="#000" stroke="#000" stroke-width="0.22" >+</text>
<text x="1088.0" y="493.5" font-size="20" text-anchor="middle" fill="#000" stroke="#000" stroke-width="0.22" >-</text>
<text x="1134.5" y="505.0" font-size="10.5" text-anchor="middle" fill="#000" stroke="#000" stroke-width="0.22" >kDa</text>
<text x="925.5" y="573.5" font-size="21" text-anchor="middle" fill="#000" stroke="#000" stroke-width="0.22" >Input</text>
<text x="896.0" y="717.5" font-size="20.8" text-anchor="middle" fill="#000" stroke="#000" stroke-width="0.22" >IP:HA beads</text>
<path d="M957.5,508 V675 M957.5,691 V733" stroke="#000" stroke-width="1.6"/>
<rect x="969.5" y="510" width="154" height="110.5" fill="url(#blot1)"/>
<g filter="url(#blur15)">
<ellipse cx="985" cy="529.3" rx="7" ry="4.5" fill="#050505"/><ellipse cx="1026" cy="529.3" rx="7" ry="4.5" fill="#050505"/>
<rect x="986" y="526.5" width="38" height="5.5" fill="#505050"/>
<rect x="996" y="511" width="5" height="14" fill="#8a8a8a" opacity="0.6"/>
<ellipse cx="1000" cy="573" rx="7" ry="3" fill="#6a6a6a"/>
<ellipse cx="1047.8" cy="599.5" rx="3.2" ry="5" fill="#0a0a0a"/>
<path d="M1064,600 Q1066,596 1078,597 L1108,597 Q1118,598 1117,604 Q1116,612 1100,613 L1080,613 Q1064,612 1064,600 z" fill="#070707"/>
<ellipse cx="1090" cy="592" rx="24" ry="6" fill="#999" opacity="0.35"/>
</g>
<rect x="969.5" y="510" width="154" height="110.5" fill="none" stroke="#000" stroke-width="1.6"/>
<rect x="969.5" y="636" width="154" height="41" fill="url(#blot2)"/>
<g filter="url(#blur15)">
<rect x="980" y="643" width="58" height="15" rx="6" fill="#030303"/>
<rect x="1063" y="644" width="54" height="16" rx="6" fill="#030303"/>
<rect x="982" y="658" width="54" height="13" fill="#6e6e6e" opacity="0.9"/>
<rect x="1066" y="659" width="50" height="13" fill="#555" opacity="0.9"/>
</g>
<rect x="969.5" y="636" width="154" height="41" fill="none" stroke="#000" stroke-width="1.6"/>
<rect x="969.5" y="692.5" width="154" height="41" fill="#b7b7b7"/>
<rect x="980" y="711" width="62" height="10" rx="5" fill="#252525" filter="url(#blur15)"/>
<rect x="969.5" y="692.5" width="154" height="41" fill="none" stroke="#000" stroke-width="1.6"/>
<path d="M1124,530.3 H1131" stroke="#000" stroke-width="1.3"/>
<text x="1133.5" y="534.3" font-size="11.5" text-anchor="start" fill="#000" stroke="#000" stroke-width="0.22" >65</text>
<path d="M1124,605.5 H1131" stroke="#000" stroke-width="1.3"/>
<text x="1133.5" y="609.5" font-size="11.5" text-anchor="start" fill="#000" stroke="#000" stroke-width="0.22" >25</text>
<path d="M1124,643.8 H1131" stroke="#000" stroke-width="1.3"/>
<text x="1133.5" y="647.8" font-size="11.5" text-anchor="start" fill="#000" stroke="#000" stroke-width="0.22" >70</text>
<path d="M1124,717.2 H1131" stroke="#000" stroke-width="1.3"/>
<text x="1133.5" y="721.2" font-size="11.5" text-anchor="start" fill="#000" stroke="#000" stroke-width="0.22" >65</text>
<text x="1130.0" y="578.0" font-size="20.2" text-anchor="start" fill="#000" stroke="#000" stroke-width="0.22" >Anti-MYC</text>
<text x="1130.0" y="675.5" font-size="20.2" text-anchor="start" fill="#000" stroke="#000" stroke-width="0.22" >Anti-HA</text>
<text x="1130.0" y="739.0" font-size="20.2" text-anchor="start" fill="#000" stroke="#000" stroke-width="0.22" >Anti-MYC</text>
<text x="16.0" y="765.5" font-size="46" text-anchor="start" fill="#000" stroke="#000" stroke-width="0.22" >D</text>
<text x="94.5" y="787.5" font-size="18.5" text-anchor="middle" fill="#000" stroke="#000" stroke-width="0.22" >M</text>
<text x="135.0" y="787.5" font-size="18.5" text-anchor="middle" fill="#000" stroke="#000" stroke-width="0.22" >1</text>
<text x="178.7" y="787.5" font-size="18.5" text-anchor="middle" fill="#000" stroke="#000" stroke-width="0.22" >2</text>
<text x="221.3" y="787.5" font-size="18.5" text-anchor="middle" fill="#000" stroke="#000" stroke-width="0.22" >3</text>
<text x="69.5" y="826.0" font-size="20" text-anchor="end" fill="#000" stroke="#000" stroke-width="0.22" >500</text>
<rect x="74.3" y="793.3" width="171.7" height="81.10000000000002" fill="#000"/>
<g filter="url(#blur3)">
<rect x="118" y="825.0" width="34" height="10" rx="3.0" fill="#fff" opacity="0.27999999999999997"/>
<rect x="118" y="849.25" width="37" height="12.5" rx="4.25" fill="#fff" opacity="0.35"/>
<rect x="161" y="848.25" width="38.5" height="12.5" rx="4.25" fill="#fff" opacity="0.35"/>
<rect x="203" y="813.1" width="36.5" height="13" rx="4.5" fill="#fff" opacity="0.35"/>
</g>
<g filter="url(#blur1)">
<rect x="78" y="800.75" width="29" height="2.5" rx="2" fill="#fff" opacity="0.35"/>
<rect x="78" y="817.85" width="29" height="3.5" rx="2" fill="#fff" opacity="0.75"/>
<rect x="80" y="839.95" width="26" height="2.5" rx="2" fill="#fff" opacity="0.4"/>
<path d="M119,827.25 Q135.0,828.25 151,827.25 L151,831.75 Q135.0,834.25 119,831.75 z" fill="#fff" opacity="0.8" stroke="#fff" stroke-width="1.6" stroke-linejoin="round" stroke-opacity="0.8"/>
<path d="M119,851.5 Q136.5,852.5 154,851.5 L154,858.5 Q136.5,861.0 119,858.5 z" fill="#fff" opacity="1" stroke="#fff" stroke-width="1.6" stroke-linejoin="round" stroke-opacity="1"/>
<path d="M162,850.5 Q180.25,851.5 198.5,850.5 L198.5,857.5 Q180.25,860.0 162,857.5 z" fill="#fff" opacity="1" stroke="#fff" stroke-width="1.6" stroke-linejoin="round" stroke-opacity="1"/>
<path d="M204,815.35 Q221.25,816.35 238.5,815.35 L238.5,822.85 Q221.25,825.35 204,822.85 z" fill="#fff" opacity="1" stroke="#fff" stroke-width="1.6" stroke-linejoin="round" stroke-opacity="1"/>
</g>
<path d="M157,827.8 L163,824.1999999999999 L163,831.4 z" fill="#e00000"/>
<text x="94.5" y="932.5" font-size="18.5" text-anchor="middle" fill="#000" stroke="#000" stroke-width="0.22" >M</text>
<text x="135.0" y="932.5" font-size="18.5" text-anchor="middle" fill="#000" stroke="#000" stroke-width="0.22" >1</text>
<text x="178.7" y="932.5" font-size="18.5" text-anchor="middle" fill="#000" stroke="#000" stroke-width="0.22" >2</text>
<text x="221.3" y="932.5" font-size="18.5" text-anchor="middle" fill="#000" stroke="#000" stroke-width="0.22" >3</text>
<text x="69.5" y="966.6" font-size="20" text-anchor="end" fill="#000" stroke="#000" stroke-width="0.22" >500</text>
<rect x="73.3" y="937" width="172.5" height="83.10000000000002" fill="#111"/>
<g filter="url(#blur3)">
<rect x="121" y="956.1" width="31" height="11" rx="3.5" fill="#fff" opacity="0.315"/>
<rect x="121" y="999.55" width="32" height="12.5" rx="4.25" fill="#fff" opacity="0.35"/>
<rect x="160" y="998.2" width="34" height="13" rx="4.5" fill="#fff" opacity="0.35"/>
<rect x="198" y="950.0" width="34" height="13" rx="4.5" fill="#fff" opacity="0.35"/>
</g>
<g filter="url(#blur1)">
<rect x="84" y="946.5" width="27" height="3" rx="2" fill="#fff" opacity="0.35"/>
<rect x="84" y="957.6" width="27" height="4" rx="2" fill="#fff" opacity="0.75"/>
<rect x="85" y="972.5" width="25" height="3" rx="2" fill="#fff" opacity="0.55"/>
<rect x="86" y="996.75" width="23" height="2.5" rx="2" fill="#fff" opacity="0.3"/>
<path d="M122,958.35 Q136.5,959.35 151,958.35 L151,963.85 Q136.5,966.35 122,963.85 z" fill="#fff" opacity="0.9" stroke="#fff" stroke-width="1.6" stroke-linejoin="round" stroke-opacity="0.9"/>
<path d="M122,1001.8 Q137.0,1002.8 152,1001.8 L152,1008.8 Q137.0,1011.3 122,1008.8 z" fill="#fff" opacity="1" stroke="#fff" stroke-width="1.6" stroke-linejoin="round" stroke-opacity="1"/>
<path d="M161,1000.45 Q177.0,1001.45 193,1000.45 L193,1007.95 Q177.0,1010.45 161,1007.95 z" fill="#fff" opacity="1" stroke="#fff" stroke-width="1.6" stroke-linejoin="round" stroke-opacity="1"/>
<path d="M199,952.25 Q215.0,953.25 231,952.25 L231,959.75 Q215.0,962.25 199,959.75 z" fill="#fff" opacity="1" stroke="#fff" stroke-width="1.6" stroke-linejoin="round" stroke-opacity="1"/>
</g>
<path d="M161,961.6 L167,958.0 L167,965.2 z" fill="#e00000"/>
<text x="94.5" y="1071.5" font-size="18.5" text-anchor="middle" fill="#000" stroke="#000" stroke-width="0.22" >M</text>
<text x="135.0" y="1071.5" font-size="18.5" text-anchor="middle" fill="#000" stroke="#000" stroke-width="0.22" >1</text>
<text x="178.7" y="1071.5" font-size="18.5" text-anchor="middle" fill="#000" stroke="#000" stroke-width="0.22" >2</text>
<text x="221.3" y="1071.5" font-size="18.5" text-anchor="middle" fill="#000" stroke="#000" stroke-width="0.22" >3</text>
<text x="69.5" y="1100.0" font-size="20" text-anchor="end" fill="#000" stroke="#000" stroke-width="0.22" >500</text>
<rect x="71.9" y="1076.2" width="173.9" height="83.59999999999991" fill="#000"/>
<g filter="url(#blur3)">
<rect x="119" y="1092.95" width="32" height="10.5" rx="3.25" fill="#fff" opacity="0.27999999999999997"/>
<rect x="119" y="1129.7" width="34" height="13" rx="4.5" fill="#fff" opacity="0.35"/>
<rect x="160" y="1128.7" width="36" height="13" rx="4.5" fill="#fff" opacity="0.35"/>
<rect x="201" y="1084.1" width="34" height="13" rx="4.5" fill="#fff" opacity="0.35"/>
</g>
<g filter="url(#blur1)">
<rect x="80" y="1078.75" width="28" height="2.5" rx="2" fill="#fff" opacity="0.3"/>
<rect x="80" y="1089.0" width="28" height="4" rx="2" fill="#fff" opacity="0.8"/>
<rect x="82" y="1107.25" width="25" height="2.5" rx="2" fill="#fff" opacity="0.45"/>
<rect x="82" y="1132.75" width="25" height="2.5" rx="2" fill="#fff" opacity="0.3"/>
<path d="M120,1095.2 Q135.0,1096.2 150,1095.2 L150,1100.2 Q135.0,1102.7 120,1100.2 z" fill="#fff" opacity="0.8" stroke="#fff" stroke-width="1.6" stroke-linejoin="round" stroke-opacity="0.8"/>
<path d="M120,1131.95 Q136.0,1132.95 152,1131.95 L152,1139.45 Q136.0,1141.95 120,1139.45 z" fill="#fff" opacity="1" stroke="#fff" stroke-width="1.6" stroke-linejoin="round" stroke-opacity="1"/>
<path d="M161,1130.95 Q178.0,1131.95 195,1130.95 L195,1138.45 Q178.0,1140.95 161,1138.45 z" fill="#fff" opacity="1" stroke="#fff" stroke-width="1.6" stroke-linejoin="round" stroke-opacity="1"/>
<path d="M202,1086.35 Q218.0,1087.35 234,1086.35 L234,1093.85 Q218.0,1096.35 202,1093.85 z" fill="#fff" opacity="1" stroke="#fff" stroke-width="1.6" stroke-linejoin="round" stroke-opacity="1"/>
</g>
<path d="M159,1097.2 L165,1093.6000000000001 L165,1100.8 z" fill="#e00000"/>
<rect x="158" y="1093" width="10.5" height="9" fill="#222"/>
<path d="M159.5,1097.2 L165.5,1093.6 L165.5,1100.8 z" fill="#e00000"/>
<text x="515.5" y="771.0" font-size="20.2" text-anchor="middle" fill="#000" stroke="#000" stroke-width="0.22" >sgRNA</text>
<text x="608.8" y="771.0" font-size="20.6" text-anchor="middle" fill="#000" stroke="#000" stroke-width="0.22" >PAM</text>
<path d="M444.2,775 H590.2" stroke="#333" stroke-width="1.5"/>
<path d="M595.2,775 H614.2" stroke="#f0e040" stroke-width="2"/>
<text x="378.5" y="808.0" font-size="20.2" text-anchor="end" fill="#000" stroke="#000" stroke-width="0.22" >BcPDS1</text>
<text x="378.5" y="870.5" font-size="20.2" text-anchor="end" fill="#000" stroke="#000" stroke-width="0.22" >mBcPDS1</text>
<text x="387.6" y="785.6" font-size="5.5" font-family="Liberation Sans" font-weight="bold" fill="#d86a6a" text-anchor="middle">T</text>
<text x="395.8" y="785.6" font-size="5.5" font-family="Liberation Sans" font-weight="bold" fill="#d86a6a" text-anchor="middle">T</text>
<text x="404.1" y="785.6" font-size="5.5" font-family="Liberation Sans" font-weight="bold" fill="#d86a6a" text-anchor="middle">T</text>
<text x="412.3" y="785.6" font-size="5.5" font-family="Liberation Sans" font-weight="bold" fill="#3aa03a" text-anchor="middle">A</text>
<text x="420.5" y="785.6" font-size="5.5" font-family="Liberation Sans" font-weight="bold" fill="#3aa03a" text-anchor="middle">A</text>
<text x="428.7" y="785.6" font-size="5.5" font-family="Liberation Sans" font-weight="bold" fill="#d86a6a" text-anchor="middle">T</text>
<text x="436.9" y="785.6" font-size="5.5" font-family="Liberation Sans" font-weight="bold" fill="#3aa03a" text-anchor="middle">A</text>
<text x="445.2" y="785.6" font-size="5.5" font-family="Liberation Sans" font-weight="bold" fill="#555" text-anchor="middle">G</text>
<text x="453.4" y="785.6" font-size="5.5" font-family="Liberation Sans" font-weight="bold" fill="#d86a6a" text-anchor="middle">T</text>
<text x="461.6" y="785.6" font-size="5.5" font-family="Liberation Sans" font-weight="bold" fill="#5a6ad8" text-anchor="middle">C</text>
<text x="469.8" y="785.6" font-size="5.5" font-family="Liberation Sans" font-weight="bold" fill="#3aa03a" text-anchor="middle">A</text>
<text x="478.0" y="785.6" font-size="5.5" font-family="Liberation Sans" font-weight="bold" fill="#555" text-anchor="middle">G</text>
<text x="486.3" y="785.6" font-size="5.5" font-family="Liberation Sans" font-weight="bold" fill="#555" text-anchor="middle">G</text>
<text x="494.5" y="785.6" font-size="5.5" font-family="Liberation Sans" font-weight="bold" fill="#d86a6a" text-anchor="middle">T</text>
<text x="502.7" y="785.6" font-size="5.5" font-family="Liberation Sans" font-weight="bold" fill="#d86a6a" text-anchor="middle">T</text>
<text x="510.9" y="785.6" font-size="5.5" font-family="Liberation Sans" font-weight="bold" fill="#3aa03a" text-anchor="middle">A</text>
<text x="519.1" y="785.6" font-size="5.5" font-family="Liberation Sans" font-weight="bold" fill="#555" text-anchor="middle">G</text>
<text x="527.4" y="785.6" font-size="5.5" font-family="Liberation Sans" font-weight="bold" fill="#555" text-anchor="middle">G</text>
<text x="535.6" y="785.6" font-size="5.5" font-family="Liberation Sans" font-weight="bold" fill="#555" text-anchor="middle">G</text>
<text x="543.8" y="785.6" font-size="5.5" font-family="Liberation Sans" font-weight="bold" fill="#555" text-anchor="middle">G</text>
<text x="552.0" y="785.6" font-size="5.5" font-family="Liberation Sans" font-weight="bold" fill="#3aa03a" text-anchor="middle">A</text>
<text x="560.2" y="785.6" font-size="5.5" font-family="Liberation Sans" font-weight="bold" fill="#3aa03a" text-anchor="middle">A</text>
<text x="568.5" y="785.6" font-size="5.5" font-family="Liberation Sans" font-weight="bold" fill="#555" text-anchor="middle">G</text>
<text x="576.7" y="785.6" font-size="5.5" font-family="Liberation Sans" font-weight="bold" fill="#d86a6a" text-anchor="middle">T</text>
<text x="584.9" y="785.6" font-size="5.5" font-family="Liberation Sans" font-weight="bold" fill="#5a6ad8" text-anchor="middle">C</text>
<text x="593.1" y="785.6" font-size="5.5" font-family="Liberation Sans" font-weight="bold" fill="#d86a6a" text-anchor="middle">T</text>
<text x="601.3" y="785.6" font-size="5.5" font-family="Liberation Sans" font-weight="bold" fill="#3aa03a" text-anchor="middle">A</text>
<text x="609.6" y="785.6" font-size="5.5" font-family="Liberation Sans" font-weight="bold" fill="#3aa03a" text-anchor="middle">A</text>
<text x="617.8" y="785.6" font-size="5.5" font-family="Liberation Sans" font-weight="bold" fill="#5a6ad8" text-anchor="middle">C</text>
<text x="626.0" y="785.6" font-size="5.5" font-family="Liberation Sans" font-weight="bold" fill="#d86a6a" text-anchor="middle">T</text>
<text x="634.2" y="785.6" font-size="5.5" font-family="Liberation Sans" font-weight="bold" fill="#555" text-anchor="middle">G</text>
<text x="642.4" y="785.6" font-size="5.5" font-family="Liberation Sans" font-weight="bold" fill="#555" text-anchor="middle">G</text>
<text x="650.7" y="785.6" font-size="5.5" font-family="Liberation Sans" font-weight="bold" fill="#d86a6a" text-anchor="middle">T</text>
<text x="658.9" y="785.6" font-size="5.5" font-family="Liberation Sans" font-weight="bold" fill="#5a6ad8" text-anchor="middle">C</text>
<path d="M386,814 H661" stroke="#d04040" stroke-width="1"/>
<path d="M383.7,814 C387.4,814 387.7,806.3 389.8,806.3 C392.0,806.3 392.3,814 395.9,814" stroke="#d84a4a" stroke-width="0.9" fill="none" fill-opacity="0.8"/>
<path d="M391.3,814 C395.0,814 395.3,808.2 397.5,808.2 C399.6,808.2 399.9,814 403.6,814" stroke="#5a6ad8" stroke-width="0.9" fill="none" fill-opacity="0.8"/>
<path d="M399.0,814 C402.7,814 403.0,794.1 405.1,794.1 C407.2,794.1 407.5,814 411.2,814" stroke="#333" stroke-width="0.9" fill="#c8c8c8" fill-opacity="0.8"/>
<path d="M406.6,814 C410.3,814 410.6,799.4 412.7,799.4 C414.9,799.4 415.2,814 418.8,814" stroke="#d84a4a" stroke-width="0.9" fill="none" fill-opacity="0.8"/>
<path d="M414.3,814 C417.9,814 418.2,801.7 420.4,801.7 C422.5,801.7 422.8,814 426.5,814" stroke="#2a9a2a" stroke-width="0.9" fill="none" fill-opacity="0.8"/>
<path d="M421.9,814 C425.6,814 425.9,794.4 428.0,794.4 C430.2,794.4 430.5,814 434.1,814" stroke="#2a9a2a" stroke-width="0.9" fill="none" fill-opacity="0.8"/>
<path d="M429.5,814 C433.2,814 433.5,807.9 435.7,807.9 C437.8,807.9 438.1,814 441.8,814" stroke="#5a6ad8" stroke-width="0.9" fill="none" fill-opacity="0.8"/>
<path d="M437.2,814 C440.8,814 441.2,809.4 443.3,809.4 C445.4,809.4 445.7,814 449.4,814" stroke="#2a9a2a" stroke-width="0.9" fill="none" fill-opacity="0.8"/>
<path d="M444.8,814 C448.5,814 448.8,809.2 450.9,809.2 C453.1,809.2 453.4,814 457.0,814" stroke="#2a9a2a" stroke-width="0.9" fill="none" fill-opacity="0.8"/>
<path d="M452.5,814 C456.1,814 456.4,799.6 458.6,799.6 C460.7,799.6 461.0,814 464.7,814" stroke="#5a6ad8" stroke-width="0.9" fill="none" fill-opacity="0.8"/>
<path d="M460.1,814 C463.8,814 464.1,810.0 466.2,810.0 C468.3,810.0 468.7,814 472.3,814" stroke="#333" stroke-width="0.9" fill="#c8c8c8" fill-opacity="0.8"/>
<path d="M467.7,814 C471.4,814 471.7,808.9 473.8,808.9 C476.0,808.9 476.3,814 480.0,814" stroke="#2a9a2a" stroke-width="0.9" fill="none" fill-opacity="0.8"/>
<path d="M475.4,814 C479.0,814 479.3,795.0 481.5,795.0 C483.6,795.0 483.9,814 487.6,814" stroke="#d84a4a" stroke-width="0.9" fill="none" fill-opacity="0.8"/>
<path d="M483.0,814 C486.7,814 487.0,799.9 489.1,799.9 C491.3,799.9 491.6,814 495.2,814" stroke="#333" stroke-width="0.9" fill="none" fill-opacity="0.8"/>
<path d="M490.7,814 C494.3,814 494.6,796.1 496.8,796.1 C498.9,796.1 499.2,814 502.9,814" stroke="#5a6ad8" stroke-width="0.9" fill="none" fill-opacity="0.8"/>
<path d="M498.3,814 C502.0,814 502.3,794.4 504.4,794.4 C506.5,794.4 506.8,814 510.5,814" stroke="#2a9a2a" stroke-width="0.9" fill="none" fill-opacity="0.8"/>
<path d="M505.9,814 C509.6,814 509.9,801.7 512.0,801.7 C514.2,801.7 514.5,814 518.2,814" stroke="#333" stroke-width="0.9" fill="none" fill-opacity="0.8"/>
<path d="M513.6,814 C517.2,814 517.5,804.2 519.7,804.2 C521.8,804.2 522.1,814 525.8,814" stroke="#333" stroke-width="0.9" fill="#c8c8c8" fill-opacity="0.8"/>
<path d="M521.2,814 C524.9,814 525.2,803.0 527.3,803.0 C529.5,803.0 529.8,814 533.4,814" stroke="#d84a4a" stroke-width="0.9" fill="none" fill-opacity="0.8"/>
<path d="M528.8,814 C532.5,814 532.8,801.9 535.0,801.9 C537.1,801.9 537.4,814 541.1,814" stroke="#d84a4a" stroke-width="0.9" fill="none" fill-opacity="0.8"/>
<path d="M536.5,814 C540.2,814 540.5,794.6 542.6,794.6 C544.7,794.6 545.0,814 548.7,814" stroke="#333" stroke-width="0.9" fill="none" fill-opacity="0.8"/>
<path d="M544.1,814 C547.8,814 548.1,804.9 550.2,804.9 C552.4,804.9 552.7,814 556.3,814" stroke="#5a6ad8" stroke-width="0.9" fill="none" fill-opacity="0.8"/>
<path d="M551.8,814 C555.4,814 555.7,796.4 557.9,796.4 C560.0,796.4 560.3,814 564.0,814" stroke="#5a6ad8" stroke-width="0.9" fill="none" fill-opacity="0.8"/>
<path d="M559.4,814 C563.1,814 563.4,799.7 565.5,799.7 C567.7,799.7 568.0,814 571.6,814" stroke="#d84a4a" stroke-width="0.9" fill="none" fill-opacity="0.8"/>
<path d="M567.0,814 C570.7,814 571.0,806.5 573.2,806.5 C575.3,806.5 575.6,814 579.3,814" stroke="#333" stroke-width="0.9" fill="#c8c8c8" fill-opacity="0.8"/>
<path d="M574.7,814 C578.3,814 578.7,802.4 580.8,802.4 C582.9,802.4 583.2,814 586.9,814" stroke="#5a6ad8" stroke-width="0.9" fill="none" fill-opacity="0.8"/>
<path d="M582.3,814 C586.0,814 586.3,809.8 588.4,809.8 C590.6,809.8 590.9,814 594.5,814" stroke="#2a9a2a" stroke-width="0.9" fill="none" fill-opacity="0.8"/>
<path d="M590.0,814 C593.6,814 593.9,809.8 596.1,809.8 C598.2,809.8 598.5,814 602.2,814" stroke="#d84a4a" stroke-width="0.9" fill="none" fill-opacity="0.8"/>
<path d="M597.6,814 C601.3,814 601.6,807.0 603.7,807.0 C605.8,807.0 606.2,814 609.8,814" stroke="#333" stroke-width="0.9" fill="#c8c8c8" fill-opacity="0.8"/>
<path d="M605.2,814 C608.9,814 609.2,807.3 611.3,807.3 C613.5,807.3 613.8,814 617.5,814" stroke="#d84a4a" stroke-width="0.9" fill="none" fill-opacity="0.8"/>
<path d="M612.9,814 C616.5,814 616.8,798.4 619.0,798.4 C621.1,798.4 621.4,814 625.1,814" stroke="#333" stroke-width="0.9" fill="#c8c8c8" fill-opacity="0.8"/>
<path d="M620.5,814 C624.2,814 624.5,799.3 626.6,799.3 C628.8,799.3 629.1,814 632.7,814" stroke="#333" stroke-width="0.9" fill="#c8c8c8" fill-opacity="0.8"/>
<path d="M628.2,814 C631.8,814 632.1,802.6 634.3,802.6 C636.4,802.6 636.7,814 640.4,814" stroke="#5a6ad8" stroke-width="0.9" fill="none" fill-opacity="0.8"/>
<path d="M635.8,814 C639.5,814 639.8,802.4 641.9,802.4 C644.0,802.4 644.3,814 648.0,814" stroke="#333" stroke-width="0.9" fill="#c8c8c8" fill-opacity="0.8"/>
<path d="M643.4,814 C647.1,814 647.4,806.1 649.5,806.1 C651.7,806.1 652.0,814 655.7,814" stroke="#5a6ad8" stroke-width="0.9" fill="none" fill-opacity="0.8"/>
<path d="M651.1,814 C654.7,814 655.0,799.3 657.2,799.3 C659.3,799.3 659.6,814 663.3,814" stroke="#d84a4a" stroke-width="0.9" fill="none" fill-opacity="0.8"/>
<text x="387.6" y="845.8" font-size="5.5" font-family="Liberation Sans" font-weight="bold" fill="#5a6ad8" text-anchor="middle">C</text>
<text x="395.8" y="845.8" font-size="5.5" font-family="Liberation Sans" font-weight="bold" fill="#5a6ad8" text-anchor="middle">C</text>
<text x="404.1" y="845.8" font-size="5.5" font-family="Liberation Sans" font-weight="bold" fill="#3aa03a" text-anchor="middle">A</text>
<text x="412.3" y="845.8" font-size="5.5" font-family="Liberation Sans" font-weight="bold" fill="#3aa03a" text-anchor="middle">A</text>
<text x="420.5" y="845.8" font-size="5.5" font-family="Liberation Sans" font-weight="bold" fill="#3aa03a" text-anchor="middle">A</text>
<text x="428.7" y="845.8" font-size="5.5" font-family="Liberation Sans" font-weight="bold" fill="#3aa03a" text-anchor="middle">A</text>
<text x="436.9" y="845.8" font-size="5.5" font-family="Liberation Sans" font-weight="bold" fill="#3aa03a" text-anchor="middle">A</text>
<text x="445.2" y="845.8" font-size="5.5" font-family="Liberation Sans" font-weight="bold" fill="#3aa03a" text-anchor="middle">A</text>
<text x="453.4" y="845.8" font-size="5.5" font-family="Liberation Sans" font-weight="bold" fill="#555" text-anchor="middle">G</text>
<text x="461.6" y="845.8" font-size="5.5" font-family="Liberation Sans" font-weight="bold" fill="#3aa03a" text-anchor="middle">A</text>
<text x="469.8" y="845.8" font-size="5.5" font-family="Liberation Sans" font-weight="bold" fill="#5a6ad8" text-anchor="middle">C</text>
<text x="478.0" y="845.8" font-size="5.5" font-family="Liberation Sans" font-weight="bold" fill="#555" text-anchor="middle">G</text>
<text x="486.3" y="845.8" font-size="5.5" font-family="Liberation Sans" font-weight="bold" fill="#d86a6a" text-anchor="middle">T</text>
<text x="494.5" y="845.8" font-size="5.5" font-family="Liberation Sans" font-weight="bold" fill="#3aa03a" text-anchor="middle">A</text>
<text x="502.7" y="845.8" font-size="5.5" font-family="Liberation Sans" font-weight="bold" fill="#555" text-anchor="middle">G</text>
<text x="510.9" y="845.8" font-size="5.5" font-family="Liberation Sans" font-weight="bold" fill="#5a6ad8" text-anchor="middle">C</text>
<text x="519.1" y="845.8" font-size="5.5" font-family="Liberation Sans" font-weight="bold" fill="#3aa03a" text-anchor="middle">A</text>
<text x="527.4" y="845.8" font-size="5.5" font-family="Liberation Sans" font-weight="bold" fill="#555" text-anchor="middle">G</text>
<text x="535.6" y="845.8" font-size="5.5" font-family="Liberation Sans" font-weight="bold" fill="#5a6ad8" text-anchor="middle">C</text>
<text x="543.8" y="845.8" font-size="5.5" font-family="Liberation Sans" font-weight="bold" fill="#d86a6a" text-anchor="middle">T</text>
<text x="552.0" y="845.8" font-size="5.5" font-family="Liberation Sans" font-weight="bold" fill="#d86a6a" text-anchor="middle">T</text>
<text x="560.2" y="845.8" font-size="5.5" font-family="Liberation Sans" font-weight="bold" fill="#3aa03a" text-anchor="middle">A</text>
<text x="568.5" y="845.8" font-size="5.5" font-family="Liberation Sans" font-weight="bold" fill="#5a6ad8" text-anchor="middle">C</text>
<text x="576.7" y="845.8" font-size="5.5" font-family="Liberation Sans" font-weight="bold" fill="#5a6ad8" text-anchor="middle">C</text>
<text x="584.9" y="845.8" font-size="5.5" font-family="Liberation Sans" font-weight="bold" fill="#3aa03a" text-anchor="middle">A</text>
<text x="593.1" y="845.8" font-size="5.5" font-family="Liberation Sans" font-weight="bold" fill="#d86a6a" text-anchor="middle">T</text>
<text x="601.3" y="845.8" font-size="5.5" font-family="Liberation Sans" font-weight="bold" fill="#d86a6a" text-anchor="middle">T</text>
<text x="609.6" y="845.8" font-size="5.5" font-family="Liberation Sans" font-weight="bold" fill="#5a6ad8" text-anchor="middle">C</text>
<text x="617.8" y="845.8" font-size="5.5" font-family="Liberation Sans" font-weight="bold" fill="#d86a6a" text-anchor="middle">T</text>
<text x="626.0" y="845.8" font-size="5.5" font-family="Liberation Sans" font-weight="bold" fill="#5a6ad8" text-anchor="middle">C</text>
<text x="634.2" y="845.8" font-size="5.5" font-family="Liberation Sans" font-weight="bold" fill="#555" text-anchor="middle">G</text>
<text x="642.4" y="845.8" font-size="5.5" font-family="Liberation Sans" font-weight="bold" fill="#5a6ad8" text-anchor="middle">C</text>
<text x="650.7" y="845.8" font-size="5.5" font-family="Liberation Sans" font-weight="bold" fill="#5a6ad8" text-anchor="middle">C</text>
<text x="658.9" y="845.8" font-size="5.5" font-family="Liberation Sans" font-weight="bold" fill="#d86a6a" text-anchor="middle">T</text>
<path d="M386,875 H661" stroke="#d04040" stroke-width="1"/>
<path d="M383.7,875 C387.4,875 387.7,863.7 389.8,863.7 C392.0,863.7 392.3,875 395.9,875" stroke="#333" stroke-width="0.9" fill="none" fill-opacity="0.8"/>
<path d="M391.3,875 C395.0,875 395.3,868.4 397.5,868.4 C399.6,868.4 399.9,875 403.6,875" stroke="#2a9a2a" stroke-width="0.9" fill="none" fill-opacity="0.8"/>
<path d="M399.0,875 C402.7,875 403.0,868.2 405.1,868.2 C407.2,868.2 407.5,875 411.2,875" stroke="#5a6ad8" stroke-width="0.9" fill="none" fill-opacity="0.8"/>
<path d="M406.6,875 C410.3,875 410.6,863.1 412.7,863.1 C414.9,863.1 415.2,875 418.8,875" stroke="#333" stroke-width="0.9" fill="#c8c8c8" fill-opacity="0.8"/>
<path d="M414.3,875 C417.9,875 418.2,866.8 420.4,866.8 C422.5,866.8 422.8,875 426.5,875" stroke="#d84a4a" stroke-width="0.9" fill="none" fill-opacity="0.8"/>
<path d="M421.9,875 C425.6,875 425.9,868.5 428.0,868.5 C430.2,868.5 430.5,875 434.1,875" stroke="#333" stroke-width="0.9" fill="none" fill-opacity="0.8"/>
<path d="M429.5,875 C433.2,875 433.5,867.3 435.7,867.3 C437.8,867.3 438.1,875 441.8,875" stroke="#5a6ad8" stroke-width="0.9" fill="none" fill-opacity="0.8"/>
<path d="M437.2,875 C440.8,875 441.2,867.2 443.3,867.2 C445.4,867.2 445.7,875 449.4,875" stroke="#5a6ad8" stroke-width="0.9" fill="none" fill-opacity="0.8"/>
<path d="M444.8,875 C448.5,875 448.8,869.8 450.9,869.8 C453.1,869.8 453.4,875 457.0,875" stroke="#2a9a2a" stroke-width="0.9" fill="none" fill-opacity="0.8"/>
<path d="M452.5,875 C456.1,875 456.4,869.8 458.6,869.8 C460.7,869.8 461.0,875 464.7,875" stroke="#5a6ad8" stroke-width="0.9" fill="none" fill-opacity="0.8"/>
<path d="M460.1,875 C463.8,875 464.1,870.3 466.2,870.3 C468.3,870.3 468.7,875 472.3,875" stroke="#333" stroke-width="0.9" fill="#c8c8c8" fill-opacity="0.8"/>
<path d="M467.7,875 C471.4,875 471.7,868.4 473.8,868.4 C476.0,868.4 476.3,875 480.0,875" stroke="#333" stroke-width="0.9" fill="none" fill-opacity="0.8"/>
<path d="M475.4,875 C479.0,875 479.3,866.7 481.5,866.7 C483.6,866.7 483.9,875 487.6,875" stroke="#d84a4a" stroke-width="0.9" fill="none" fill-opacity="0.8"/>
<path d="M483.0,875 C486.7,875 487.0,859.6 489.1,859.6 C491.3,859.6 491.6,875 495.2,875" stroke="#d84a4a" stroke-width="0.9" fill="none" fill-opacity="0.8"/>
<path d="M490.7,875 C494.3,875 494.6,859.9 496.8,859.9 C498.9,859.9 499.2,875 502.9,875" stroke="#333" stroke-width="0.9" fill="none" fill-opacity="0.8"/>
<path d="M498.3,875 C502.0,875 502.3,864.2 504.4,864.2 C506.5,864.2 506.8,875 510.5,875" stroke="#333" stroke-width="0.9" fill="none" fill-opacity="0.8"/>
<path d="M505.9,875 C509.6,875 509.9,869.6 512.0,869.6 C514.2,869.6 514.5,875 518.2,875" stroke="#5a6ad8" stroke-width="0.9" fill="none" fill-opacity="0.8"/>
<path d="M513.6,875 C517.2,875 517.5,861.8 519.7,861.8 C521.8,861.8 522.1,875 525.8,875" stroke="#333" stroke-width="0.9" fill="#c8c8c8" fill-opacity="0.8"/>
<path d="M521.2,875 C524.9,875 525.2,868.4 527.3,868.4 C529.5,868.4 529.8,875 533.4,875" stroke="#2a9a2a" stroke-width="0.9" fill="none" fill-opacity="0.8"/>
<path d="M528.8,875 C532.5,875 532.8,865.5 535.0,865.5 C537.1,865.5 537.4,875 541.1,875" stroke="#2a9a2a" stroke-width="0.9" fill="none" fill-opacity="0.8"/>
<path d="M536.5,875 C540.2,875 540.5,865.3 542.6,865.3 C544.7,865.3 545.0,875 548.7,875" stroke="#5a6ad8" stroke-width="0.9" fill="none" fill-opacity="0.8"/>
<path d="M544.1,875 C547.8,875 548.1,870.3 550.2,870.3 C552.4,870.3 552.7,875 556.3,875" stroke="#333" stroke-width="0.9" fill="none" fill-opacity="0.8"/>
<path d="M551.8,875 C555.4,875 555.7,868.3 557.9,868.3 C560.0,868.3 560.3,875 564.0,875" stroke="#5a6ad8" stroke-width="0.9" fill="none" fill-opacity="0.8"/>
<path d="M559.4,875 C563.1,875 563.4,869.8 565.5,869.8 C567.7,869.8 568.0,875 571.6,875" stroke="#333" stroke-width="0.9" fill="#c8c8c8" fill-opacity="0.8"/>
<path d="M567.0,875 C570.7,875 571.0,866.4 573.2,866.4 C575.3,866.4 575.6,875 579.3,875" stroke="#333" stroke-width="0.9" fill="none" fill-opacity="0.8"/>
<path d="M574.7,875 C578.3,875 578.7,864.8 580.8,864.8 C582.9,864.8 583.2,875 586.9,875" stroke="#2a9a2a" stroke-width="0.9" fill="none" fill-opacity="0.8"/>
<path d="M582.3,875 C586.0,875 586.3,867.9 588.4,867.9 C590.6,867.9 590.9,875 594.5,875" stroke="#d84a4a" stroke-width="0.9" fill="none" fill-opacity="0.8"/>
<path d="M590.0,875 C593.6,875 593.9,866.2 596.1,866.2 C598.2,866.2 598.5,875 602.2,875" stroke="#d84a4a" stroke-width="0.9" fill="none" fill-opacity="0.8"/>
<path d="M597.6,875 C601.3,875 601.6,868.6 603.7,868.6 C605.8,868.6 606.2,875 609.8,875" stroke="#333" stroke-width="0.9" fill="#c8c8c8" fill-opacity="0.8"/>
<path d="M605.2,875 C608.9,875 609.2,860.0 611.3,860.0 C613.5,860.0 613.8,875 617.5,875" stroke="#d84a4a" stroke-width="0.9" fill="none" fill-opacity="0.8"/>
<path d="M612.9,875 C616.5,875 616.8,871.0 619.0,871.0 C621.1,871.0 621.4,875 625.1,875" stroke="#d84a4a" stroke-width="0.9" fill="none" fill-opacity="0.8"/>
<path d="M620.5,875 C624.2,875 624.5,865.5 626.6,865.5 C628.8,865.5 629.1,875 632.7,875" stroke="#2a9a2a" stroke-width="0.9" fill="none" fill-opacity="0.8"/>
<path d="M628.2,875 C631.8,875 632.1,864.3 634.3,864.3 C636.4,864.3 636.7,875 640.4,875" stroke="#5a6ad8" stroke-width="0.9" fill="none" fill-opacity="0.8"/>
<path d="M635.8,875 C639.5,875 639.8,860.6 641.9,860.6 C644.0,860.6 644.3,875 648.0,875" stroke="#333" stroke-width="0.9" fill="#c8c8c8" fill-opacity="0.8"/>
<path d="M643.4,875 C647.1,875 647.4,871.5 649.5,871.5 C651.7,871.5 652.0,875 655.7,875" stroke="#d84a4a" stroke-width="0.9" fill="none" fill-opacity="0.8"/>
<path d="M651.1,875 C654.7,875 655.0,858.9 657.2,858.9 C659.3,858.9 659.6,875 663.3,875" stroke="#5a6ad8" stroke-width="0.9" fill="none" fill-opacity="0.8"/>
<rect x="472" y="779.4" width="7" height="8" fill="none" stroke="#333" stroke-width="1.1"/>
<rect x="517" y="779.4" width="7" height="8" fill="none" stroke="#e03030" stroke-width="1.1"/>
<rect x="572" y="779.4" width="7" height="8" fill="none" stroke="#333" stroke-width="1.1"/>
<rect x="594" y="779.4" width="14" height="8" fill="none" stroke="#e03030" stroke-width="1.1"/>
<rect x="510" y="839.6" width="7" height="8" fill="none" stroke="#e03030" stroke-width="1.1"/>
<rect x="578" y="839.6" width="20" height="8" fill="none" stroke="#e03030" stroke-width="1.1"/>
<path d="M475.5,787.4 L470,837.6" stroke="#333" stroke-width="1"/>
<path d="M467,833.6 L470,838.6 L472.5,833.1" stroke="#333" stroke-width="1" fill="none"/>
<path d="M520.5,787.4 L514,837.6" stroke="#e03030" stroke-width="1"/>
<path d="M575.5,787.4 L561,837.6" stroke="#333" stroke-width="1"/>
<path d="M558,833.6 L561,838.6 L563.5,833.1" stroke="#333" stroke-width="1" fill="none"/>
<path d="M604,787.4 L588,837.6" stroke="#e03030" stroke-width="1"/>
<text x="510.8" y="914.5" font-size="20.2" text-anchor="middle" fill="#000" stroke="#000" stroke-width="0.22" >sgRNA</text>
<text x="606.7" y="914.5" font-size="20.6" text-anchor="middle" fill="#000" stroke="#000" stroke-width="0.22" >PAM</text>
<path d="M440.7,917.5 H586.7" stroke="#333" stroke-width="1.5"/>
<path d="M591.7,917.5 H610.7" stroke="#f0e040" stroke-width="2"/>
<text x="378.5" y="951.2" font-size="20.2" text-anchor="end" fill="#000" stroke="#000" stroke-width="0.22" >BcOST1</text>
<text x="378.5" y="1015.2" font-size="20.2" text-anchor="end" fill="#000" stroke="#000" stroke-width="0.22" >mBcOST1</text>
<text x="387.6" y="928.2" font-size="5.5" font-family="Liberation Sans" font-weight="bold" fill="#3aa03a" text-anchor="middle">A</text>
<text x="395.8" y="928.2" font-size="5.5" font-family="Liberation Sans" font-weight="bold" fill="#d86a6a" text-anchor="middle">T</text>
<text x="404.1" y="928.2" font-size="5.5" font-family="Liberation Sans" font-weight="bold" fill="#d86a6a" text-anchor="middle">T</text>
<text x="412.3" y="928.2" font-size="5.5" font-family="Liberation Sans" font-weight="bold" fill="#5a6ad8" text-anchor="middle">C</text>
<text x="420.5" y="928.2" font-size="5.5" font-family="Liberation Sans" font-weight="bold" fill="#d86a6a" text-anchor="middle">T</text>
<text x="428.7" y="928.2" font-size="5.5" font-family="Liberation Sans" font-weight="bold" fill="#3aa03a" text-anchor="middle">A</text>
<text x="436.9" y="928.2" font-size="5.5" font-family="Liberation Sans" font-weight="bold" fill="#d86a6a" text-anchor="middle">T</text>
<text x="445.2" y="928.2" font-size="5.5" font-family="Liberation Sans" font-weight="bold" fill="#3aa03a" text-anchor="middle">A</text>
<text x="453.4" y="928.2" font-size="5.5" font-family="Liberation Sans" font-weight="bold" fill="#3aa03a" text-anchor="middle">A</text>
<text x="461.6" y="928.2" font-size="5.5" font-family="Liberation Sans" font-weight="bold" fill="#555" text-anchor="middle">G</text>
<text x="469.8" y="928.2" font-size="5.5" font-family="Liberation Sans" font-weight="bold" fill="#555" text-anchor="middle">G</text>
<text x="478.0" y="928.2" font-size="5.5" font-family="Liberation Sans" font-weight="bold" fill="#5a6ad8" text-anchor="middle">C</text>
<text x="486.3" y="928.2" font-size="5.5" font-family="Liberation Sans" font-weight="bold" fill="#d86a6a" text-anchor="middle">T</text>
<text x="494.5" y="928.2" font-size="5.5" font-family="Liberation Sans" font-weight="bold" fill="#555" text-anchor="middle">G</text>
<text x="502.7" y="928.2" font-size="5.5" font-family="Liberation Sans" font-weight="bold" fill="#3aa03a" text-anchor="middle">A</text>
<text x="510.9" y="928.2" font-size="5.5" font-family="Liberation Sans" font-weight="bold" fill="#3aa03a" text-anchor="middle">A</text>
<text x="519.1" y="928.2" font-size="5.5" font-family="Liberation Sans" font-weight="bold" fill="#3aa03a" text-anchor="middle">A</text>
<text x="527.4" y="928.2" font-size="5.5" font-family="Liberation Sans" font-weight="bold" fill="#555" text-anchor="middle">G</text>
<text x="535.6" y="928.2" font-size="5.5" font-family="Liberation Sans" font-weight="bold" fill="#d86a6a" text-anchor="middle">T</text>
<text x="543.8" y="928.2" font-size="5.5" font-family="Liberation Sans" font-weight="bold" fill="#d86a6a" text-anchor="middle">T</text>
<text x="552.0" y="928.2" font-size="5.5" font-family="Liberation Sans" font-weight="bold" fill="#d86a6a" text-anchor="middle">T</text>
<text x="560.2" y="928.2" font-size="5.5" font-family="Liberation Sans" font-weight="bold" fill="#555" text-anchor="middle">G</text>
<text x="568.5" y="928.2" font-size="5.5" font-family="Liberation Sans" font-weight="bold" fill="#5a6ad8" text-anchor="middle">C</text>
<text x="576.7" y="928.2" font-size="5.5" font-family="Liberation Sans" font-weight="bold" fill="#d86a6a" text-anchor="middle">T</text>
<text x="584.9" y="928.2" font-size="5.5" font-family="Liberation Sans" font-weight="bold" fill="#555" text-anchor="middle">G</text>
<text x="593.1" y="928.2" font-size="5.5" font-family="Liberation Sans" font-weight="bold" fill="#5a6ad8" text-anchor="middle">C</text>
<text x="601.3" y="928.2" font-size="5.5" font-family="Liberation Sans" font-weight="bold" fill="#555" text-anchor="middle">G</text>
<text x="609.6" y="928.2" font-size="5.5" font-family="Liberation Sans" font-weight="bold" fill="#3aa03a" text-anchor="middle">A</text>
<text x="617.8" y="928.2" font-size="5.5" font-family="Liberation Sans" font-weight="bold" fill="#555" text-anchor="middle">G</text>
<text x="626.0" y="928.2" font-size="5.5" font-family="Liberation Sans" font-weight="bold" fill="#555" text-anchor="middle">G</text>
<text x="634.2" y="928.2" font-size="5.5" font-family="Liberation Sans" font-weight="bold" fill="#555" text-anchor="middle">G</text>
<text x="642.4" y="928.2" font-size="5.5" font-family="Liberation Sans" font-weight="bold" fill="#d86a6a" text-anchor="middle">T</text>
<text x="650.7" y="928.2" font-size="5.5" font-family="Liberation Sans" font-weight="bold" fill="#3aa03a" text-anchor="middle">A</text>
<text x="658.9" y="928.2" font-size="5.5" font-family="Liberation Sans" font-weight="bold" fill="#5a6ad8" text-anchor="middle">C</text>
<path d="M386,957.2 H661" stroke="#d04040" stroke-width="1"/>
<path d="M383.7,957.2 C387.4,957.2 387.7,950.6 389.8,950.6 C392.0,950.6 392.3,957.2 395.9,957.2" stroke="#2a9a2a" stroke-width="0.9" fill="none" fill-opacity="0.8"/>
<path d="M391.3,957.2 C395.0,957.2 395.3,951.4 397.5,951.4 C399.6,951.4 399.9,957.2 403.6,957.2" stroke="#d84a4a" stroke-width="0.9" fill="none" fill-opacity="0.8"/>
<path d="M399.0,957.2 C402.7,957.2 403.0,943.3 405.1,943.3 C407.2,943.3 407.5,957.2 411.2,957.2" stroke="#333" stroke-width="0.9" fill="none" fill-opacity="0.8"/>
<path d="M406.6,957.2 C410.3,957.2 410.6,950.8 412.7,950.8 C414.9,950.8 415.2,957.2 418.8,957.2" stroke="#333" stroke-width="0.9" fill="none" fill-opacity="0.8"/>
<path d="M414.3,957.2 C417.9,957.2 418.2,939.6 420.4,939.6 C422.5,939.6 422.8,957.2 426.5,957.2" stroke="#5a6ad8" stroke-width="0.9" fill="none" fill-opacity="0.8"/>
<path d="M421.9,957.2 C425.6,957.2 425.9,940.3 428.0,940.3 C430.2,940.3 430.5,957.2 434.1,957.2" stroke="#2a9a2a" stroke-width="0.9" fill="none" fill-opacity="0.8"/>
<path d="M429.5,957.2 C433.2,957.2 433.5,943.8 435.7,943.8 C437.8,943.8 438.1,957.2 441.8,957.2" stroke="#d84a4a" stroke-width="0.9" fill="none" fill-opacity="0.8"/>
<path d="M437.2,957.2 C440.8,957.2 441.2,945.8 443.3,945.8 C445.4,945.8 445.7,957.2 449.4,957.2" stroke="#333" stroke-width="0.9" fill="#c8c8c8" fill-opacity="0.8"/>
<path d="M444.8,957.2 C448.5,957.2 448.8,949.7 450.9,949.7 C453.1,949.7 453.4,957.2 457.0,957.2" stroke="#5a6ad8" stroke-width="0.9" fill="none" fill-opacity="0.8"/>
<path d="M452.5,957.2 C456.1,957.2 456.4,951.5 458.6,951.5 C460.7,951.5 461.0,957.2 464.7,957.2" stroke="#2a9a2a" stroke-width="0.9" fill="none" fill-opacity="0.8"/>
<path d="M460.1,957.2 C463.8,957.2 464.1,945.7 466.2,945.7 C468.3,945.7 468.7,957.2 472.3,957.2" stroke="#333" stroke-width="0.9" fill="none" fill-opacity="0.8"/>
<path d="M467.7,957.2 C471.4,957.2 471.7,944.0 473.8,944.0 C476.0,944.0 476.3,957.2 480.0,957.2" stroke="#333" stroke-width="0.9" fill="none" fill-opacity="0.8"/>
<path d="M475.4,957.2 C479.0,957.2 479.3,951.4 481.5,951.4 C483.6,951.4 483.9,957.2 487.6,957.2" stroke="#5a6ad8" stroke-width="0.9" fill="none" fill-opacity="0.8"/>
<path d="M483.0,957.2 C486.7,957.2 487.0,949.7 489.1,949.7 C491.3,949.7 491.6,957.2 495.2,957.2" stroke="#d84a4a" stroke-width="0.9" fill="none" fill-opacity="0.8"/>
<path d="M490.7,957.2 C494.3,957.2 494.6,950.1 496.8,950.1 C498.9,950.1 499.2,957.2 502.9,957.2" stroke="#2a9a2a" stroke-width="0.9" fill="none" fill-opacity="0.8"/>
<path d="M498.3,957.2 C502.0,957.2 502.3,944.4 504.4,944.4 C506.5,944.4 506.8,957.2 510.5,957.2" stroke="#5a6ad8" stroke-width="0.9" fill="none" fill-opacity="0.8"/>
<path d="M505.9,957.2 C509.6,957.2 509.9,948.0 512.0,948.0 C514.2,948.0 514.5,957.2 518.2,957.2" stroke="#2a9a2a" stroke-width="0.9" fill="none" fill-opacity="0.8"/>
<path d="M513.6,957.2 C517.2,957.2 517.5,946.5 519.7,946.5 C521.8,946.5 522.1,957.2 525.8,957.2" stroke="#5a6ad8" stroke-width="0.9" fill="none" fill-opacity="0.8"/>
<path d="M521.2,957.2 C524.9,957.2 525.2,948.1 527.3,948.1 C529.5,948.1 529.8,957.2 533.4,957.2" stroke="#333" stroke-width="0.9" fill="#c8c8c8" fill-opacity="0.8"/>
<path d="M528.8,957.2 C532.5,957.2 532.8,946.7 535.0,946.7 C537.1,946.7 537.4,957.2 541.1,957.2" stroke="#5a6ad8" stroke-width="0.9" fill="none" fill-opacity="0.8"/>
<path d="M536.5,957.2 C540.2,957.2 540.5,948.5 542.6,948.5 C544.7,948.5 545.0,957.2 548.7,957.2" stroke="#d84a4a" stroke-width="0.9" fill="none" fill-opacity="0.8"/>
<path d="M544.1,957.2 C547.8,957.2 548.1,949.7 550.2,949.7 C552.4,949.7 552.7,957.2 556.3,957.2" stroke="#2a9a2a" stroke-width="0.9" fill="none" fill-opacity="0.8"/>
<path d="M551.8,957.2 C555.4,957.2 555.7,948.5 557.9,948.5 C560.0,948.5 560.3,957.2 564.0,957.2" stroke="#5a6ad8" stroke-width="0.9" fill="none" fill-opacity="0.8"/>
<path d="M559.4,957.2 C563.1,957.2 563.4,949.9 565.5,949.9 C567.7,949.9 568.0,957.2 571.6,957.2" stroke="#333" stroke-width="0.9" fill="none" fill-opacity="0.8"/>
<path d="M567.0,957.2 C570.7,957.2 571.0,943.1 573.2,943.1 C575.3,943.1 575.6,957.2 579.3,957.2" stroke="#d84a4a" stroke-width="0.9" fill="none" fill-opacity="0.8"/>
<path d="M574.7,957.2 C578.3,957.2 578.7,952.7 580.8,952.7 C582.9,952.7 583.2,957.2 586.9,957.2" stroke="#d84a4a" stroke-width="0.9" fill="none" fill-opacity="0.8"/>
<path d="M582.3,957.2 C586.0,957.2 586.3,949.0 588.4,949.0 C590.6,949.0 590.9,957.2 594.5,957.2" stroke="#d84a4a" stroke-width="0.9" fill="none" fill-opacity="0.8"/>
<path d="M590.0,957.2 C593.6,957.2 593.9,942.7 596.1,942.7 C598.2,942.7 598.5,957.2 602.2,957.2" stroke="#d84a4a" stroke-width="0.9" fill="none" fill-opacity="0.8"/>
<path d="M597.6,957.2 C601.3,957.2 601.6,940.3 603.7,940.3 C605.8,940.3 606.2,957.2 609.8,957.2" stroke="#333" stroke-width="0.9" fill="none" fill-opacity="0.8"/>
<path d="M605.2,957.2 C608.9,957.2 609.2,948.4 611.3,948.4 C613.5,948.4 613.8,957.2 617.5,957.2" stroke="#2a9a2a" stroke-width="0.9" fill="none" fill-opacity="0.8"/>
<path d="M612.9,957.2 C616.5,957.2 616.8,947.6 619.0,947.6 C621.1,947.6 621.4,957.2 625.1,957.2" stroke="#333" stroke-width="0.9" fill="#c8c8c8" fill-opacity="0.8"/>
<path d="M620.5,957.2 C624.2,957.2 624.5,946.3 626.6,946.3 C628.8,946.3 629.1,957.2 632.7,957.2" stroke="#333" stroke-width="0.9" fill="#c8c8c8" fill-opacity="0.8"/>
<path d="M628.2,957.2 C631.8,957.2 632.1,940.7 634.3,940.7 C636.4,940.7 636.7,957.2 640.4,957.2" stroke="#5a6ad8" stroke-width="0.9" fill="none" fill-opacity="0.8"/>
<path d="M635.8,957.2 C639.5,957.2 639.8,947.8 641.9,947.8 C644.0,947.8 644.3,957.2 648.0,957.2" stroke="#2a9a2a" stroke-width="0.9" fill="none" fill-opacity="0.8"/>
<path d="M643.4,957.2 C647.1,957.2 647.4,946.4 649.5,946.4 C651.7,946.4 652.0,957.2 655.7,957.2" stroke="#333" stroke-width="0.9" fill="none" fill-opacity="0.8"/>
<path d="M651.1,957.2 C654.7,957.2 655.0,944.6 657.2,944.6 C659.3,944.6 659.6,957.2 663.3,957.2" stroke="#2a9a2a" stroke-width="0.9" fill="none" fill-opacity="0.8"/>
<text x="387.6" y="990.6" font-size="5.5" font-family="Liberation Sans" font-weight="bold" fill="#5a6ad8" text-anchor="middle">C</text>
<text x="395.8" y="990.6" font-size="5.5" font-family="Liberation Sans" font-weight="bold" fill="#555" text-anchor="middle">G</text>
<text x="404.1" y="990.6" font-size="5.5" font-family="Liberation Sans" font-weight="bold" fill="#555" text-anchor="middle">G</text>
<text x="412.3" y="990.6" font-size="5.5" font-family="Liberation Sans" font-weight="bold" fill="#5a6ad8" text-anchor="middle">C</text>
<text x="420.5" y="990.6" font-size="5.5" font-family="Liberation Sans" font-weight="bold" fill="#d86a6a" text-anchor="middle">T</text>
<text x="428.7" y="990.6" font-size="5.5" font-family="Liberation Sans" font-weight="bold" fill="#d86a6a" text-anchor="middle">T</text>
<text x="436.9" y="990.6" font-size="5.5" font-family="Liberation Sans" font-weight="bold" fill="#5a6ad8" text-anchor="middle">C</text>
<text x="445.2" y="990.6" font-size="5.5" font-family="Liberation Sans" font-weight="bold" fill="#3aa03a" text-anchor="middle">A</text>
<text x="453.4" y="990.6" font-size="5.5" font-family="Liberation Sans" font-weight="bold" fill="#3aa03a" text-anchor="middle">A</text>
<text x="461.6" y="990.6" font-size="5.5" font-family="Liberation Sans" font-weight="bold" fill="#5a6ad8" text-anchor="middle">C</text>
<text x="469.8" y="990.6" font-size="5.5" font-family="Liberation Sans" font-weight="bold" fill="#d86a6a" text-anchor="middle">T</text>
<text x="478.0" y="990.6" font-size="5.5" font-family="Liberation Sans" font-weight="bold" fill="#555" text-anchor="middle">G</text>
<text x="486.3" y="990.6" font-size="5.5" font-family="Liberation Sans" font-weight="bold" fill="#3aa03a" text-anchor="middle">A</text>
<text x="494.5" y="990.6" font-size="5.5" font-family="Liberation Sans" font-weight="bold" fill="#d86a6a" text-anchor="middle">T</text>
<text x="502.7" y="990.6" font-size="5.5" font-family="Liberation Sans" font-weight="bold" fill="#555" text-anchor="middle">G</text>
<text x="510.9" y="990.6" font-size="5.5" font-family="Liberation Sans" font-weight="bold" fill="#555" text-anchor="middle">G</text>
<text x="519.1" y="990.6" font-size="5.5" font-family="Liberation Sans" font-weight="bold" fill="#555" text-anchor="middle">G</text>
<text x="527.4" y="990.6" font-size="5.5" font-family="Liberation Sans" font-weight="bold" fill="#d86a6a" text-anchor="middle">T</text>
<text x="535.6" y="990.6" font-size="5.5" font-family="Liberation Sans" font-weight="bold" fill="#d86a6a" text-anchor="middle">T</text>
<text x="543.8" y="990.6" font-size="5.5" font-family="Liberation Sans" font-weight="bold" fill="#555" text-anchor="middle">G</text>
<text x="552.0" y="990.6" font-size="5.5" font-family="Liberation Sans" font-weight="bold" fill="#d86a6a" text-anchor="middle">T</text>
<text x="560.2" y="990.6" font-size="5.5" font-family="Liberation Sans" font-weight="bold" fill="#5a6ad8" text-anchor="middle">C</text>
<text x="568.5" y="990.6" font-size="5.5" font-family="Liberation Sans" font-weight="bold" fill="#555" text-anchor="middle">G</text>
<text x="576.7" y="990.6" font-size="5.5" font-family="Liberation Sans" font-weight="bold" fill="#3aa03a" text-anchor="middle">A</text>
<text x="584.9" y="990.6" font-size="5.5" font-family="Liberation Sans" font-weight="bold" fill="#555" text-anchor="middle">G</text>
<text x="593.1" y="990.6" font-size="5.5" font-family="Liberation Sans" font-weight="bold" fill="#5a6ad8" text-anchor="middle">C</text>
<text x="601.3" y="990.6" font-size="5.5" font-family="Liberation Sans" font-weight="bold" fill="#3aa03a" text-anchor="middle">A</text>
<text x="609.6" y="990.6" font-size="5.5" font-family="Liberation Sans" font-weight="bold" fill="#3aa03a" text-anchor="middle">A</text>
<text x="617.8" y="990.6" font-size="5.5" font-family="Liberation Sans" font-weight="bold" fill="#5a6ad8" text-anchor="middle">C</text>
<text x="626.0" y="990.6" font-size="5.5" font-family="Liberation Sans" font-weight="bold" fill="#5a6ad8" text-anchor="middle">C</text>
<text x="634.2" y="990.6" font-size="5.5" font-family="Liberation Sans" font-weight="bold" fill="#5a6ad8" text-anchor="middle">C</text>
<text x="642.4" y="990.6" font-size="5.5" font-family="Liberation Sans" font-weight="bold" fill="#5a6ad8" text-anchor="middle">C</text>
<text x="650.7" y="990.6" font-size="5.5" font-family="Liberation Sans" font-weight="bold" fill="#555" text-anchor="middle">G</text>
<text x="658.9" y="990.6" font-size="5.5" font-family="Liberation Sans" font-weight="bold" fill="#d86a6a" text-anchor="middle">T</text>
<path d="M386,1019.7 H661" stroke="#d04040" stroke-width="1"/>
<path d="M383.7,1019.7 C387.4,1019.7 387.7,1000.8 389.8,1000.8 C392.0,1000.8 392.3,1019.7 395.9,1019.7" stroke="#d84a4a" stroke-width="0.9" fill="none" fill-opacity="0.8"/>
<path d="M391.3,1019.7 C395.0,1019.7 395.3,1012.1 397.5,1012.1 C399.6,1012.1 399.9,1019.7 403.6,1019.7" stroke="#2a9a2a" stroke-width="0.9" fill="none" fill-opacity="0.8"/>
<path d="M399.0,1019.7 C402.7,1019.7 403.0,1012.5 405.1,1012.5 C407.2,1012.5 407.5,1019.7 411.2,1019.7" stroke="#2a9a2a" stroke-width="0.9" fill="none" fill-opacity="0.8"/>
<path d="M406.6,1019.7 C410.3,1019.7 410.6,1003.4 412.7,1003.4 C414.9,1003.4 415.2,1019.7 418.8,1019.7" stroke="#333" stroke-width="0.9" fill="none" fill-opacity="0.8"/>
<path d="M414.3,1019.7 C417.9,1019.7 418.2,1003.0 420.4,1003.0 C422.5,1003.0 422.8,1019.7 426.5,1019.7" stroke="#5a6ad8" stroke-width="0.9" fill="none" fill-opacity="0.8"/>
<path d="M421.9,1019.7 C425.6,1019.7 425.9,1008.2 428.0,1008.2 C430.2,1008.2 430.5,1019.7 434.1,1019.7" stroke="#333" stroke-width="0.9" fill="none" fill-opacity="0.8"/>
<path d="M429.5,1019.7 C433.2,1019.7 433.5,1015.1 435.7,1015.1 C437.8,1015.1 438.1,1019.7 441.8,1019.7" stroke="#333" stroke-width="0.9" fill="#c8c8c8" fill-opacity="0.8"/>
<path d="M437.2,1019.7 C440.8,1019.7 441.2,1002.8 443.3,1002.8 C445.4,1002.8 445.7,1019.7 449.4,1019.7" stroke="#d84a4a" stroke-width="0.9" fill="none" fill-opacity="0.8"/>
<path d="M444.8,1019.7 C448.5,1019.7 448.8,1003.8 450.9,1003.8 C453.1,1003.8 453.4,1019.7 457.0,1019.7" stroke="#d84a4a" stroke-width="0.9" fill="none" fill-opacity="0.8"/>
<path d="M452.5,1019.7 C456.1,1019.7 456.4,998.6 458.6,998.6 C460.7,998.6 461.0,1019.7 464.7,1019.7" stroke="#d84a4a" stroke-width="0.9" fill="none" fill-opacity="0.8"/>
<path d="M460.1,1019.7 C463.8,1019.7 464.1,1003.7 466.2,1003.7 C468.3,1003.7 468.7,1019.7 472.3,1019.7" stroke="#333" stroke-width="0.9" fill="#c8c8c8" fill-opacity="0.8"/>
<path d="M467.7,1019.7 C471.4,1019.7 471.7,1003.9 473.8,1003.9 C476.0,1003.9 476.3,1019.7 480.0,1019.7" stroke="#2a9a2a" stroke-width="0.9" fill="none" fill-opacity="0.8"/>
<path d="M475.4,1019.7 C479.0,1019.7 479.3,1014.4 481.5,1014.4 C483.6,1014.4 483.9,1019.7 487.6,1019.7" stroke="#5a6ad8" stroke-width="0.9" fill="none" fill-opacity="0.8"/>
<path d="M483.0,1019.7 C486.7,1019.7 487.0,1004.2 489.1,1004.2 C491.3,1004.2 491.6,1019.7 495.2,1019.7" stroke="#5a6ad8" stroke-width="0.9" fill="none" fill-opacity="0.8"/>
<path d="M490.7,1019.7 C494.3,1019.7 494.6,999.2 496.8,999.2 C498.9,999.2 499.2,1019.7 502.9,1019.7" stroke="#333" stroke-width="0.9" fill="#c8c8c8" fill-opacity="0.8"/>
<path d="M498.3,1019.7 C502.0,1019.7 502.3,1010.5 504.4,1010.5 C506.5,1010.5 506.8,1019.7 510.5,1019.7" stroke="#333" stroke-width="0.9" fill="#c8c8c8" fill-opacity="0.8"/>
<path d="M505.9,1019.7 C509.6,1019.7 509.9,1001.2 512.0,1001.2 C514.2,1001.2 514.5,1019.7 518.2,1019.7" stroke="#2a9a2a" stroke-width="0.9" fill="none" fill-opacity="0.8"/>
<path d="M513.6,1019.7 C517.2,1019.7 517.5,1000.4 519.7,1000.4 C521.8,1000.4 522.1,1019.7 525.8,1019.7" stroke="#d84a4a" stroke-width="0.9" fill="none" fill-opacity="0.8"/>
<path d="M521.2,1019.7 C524.9,1019.7 525.2,1006.1 527.3,1006.1 C529.5,1006.1 529.8,1019.7 533.4,1019.7" stroke="#5a6ad8" stroke-width="0.9" fill="none" fill-opacity="0.8"/>
<path d="M528.8,1019.7 C532.5,1019.7 532.8,999.2 535.0,999.2 C537.1,999.2 537.4,1019.7 541.1,1019.7" stroke="#5a6ad8" stroke-width="0.9" fill="none" fill-opacity="0.8"/>
<path d="M536.5,1019.7 C540.2,1019.7 540.5,1005.8 542.6,1005.8 C544.7,1005.8 545.0,1019.7 548.7,1019.7" stroke="#333" stroke-width="0.9" fill="none" fill-opacity="0.8"/>
<path d="M544.1,1019.7 C547.8,1019.7 548.1,1010.3 550.2,1010.3 C552.4,1010.3 552.7,1019.7 556.3,1019.7" stroke="#2a9a2a" stroke-width="0.9" fill="none" fill-opacity="0.8"/>
<path d="M551.8,1019.7 C555.4,1019.7 555.7,1004.1 557.9,1004.1 C560.0,1004.1 560.3,1019.7 564.0,1019.7" stroke="#2a9a2a" stroke-width="0.9" fill="none" fill-opacity="0.8"/>
<path d="M559.4,1019.7 C563.1,1019.7 563.4,1007.6 565.5,1007.6 C567.7,1007.6 568.0,1019.7 571.6,1019.7" stroke="#2a9a2a" stroke-width="0.9" fill="none" fill-opacity="0.8"/>
<path d="M567.0,1019.7 C570.7,1019.7 571.0,997.8 573.2,997.8 C575.3,997.8 575.6,1019.7 579.3,1019.7" stroke="#5a6ad8" stroke-width="0.9" fill="none" fill-opacity="0.8"/>
<path d="M574.7,1019.7 C578.3,1019.7 578.7,1006.6 580.8,1006.6 C582.9,1006.6 583.2,1019.7 586.9,1019.7" stroke="#2a9a2a" stroke-width="0.9" fill="none" fill-opacity="0.8"/>
<path d="M582.3,1019.7 C586.0,1019.7 586.3,1014.2 588.4,1014.2 C590.6,1014.2 590.9,1019.7 594.5,1019.7" stroke="#2a9a2a" stroke-width="0.9" fill="none" fill-opacity="0.8"/>
<path d="M590.0,1019.7 C593.6,1019.7 593.9,1011.4 596.1,1011.4 C598.2,1011.4 598.5,1019.7 602.2,1019.7" stroke="#2a9a2a" stroke-width="0.9" fill="none" fill-opacity="0.8"/>
<path d="M597.6,1019.7 C601.3,1019.7 601.6,1009.1 603.7,1009.1 C605.8,1009.1 606.2,1019.7 609.8,1019.7" stroke="#2a9a2a" stroke-width="0.9" fill="none" fill-opacity="0.8"/>
<path d="M605.2,1019.7 C608.9,1019.7 609.2,1008.9 611.3,1008.9 C613.5,1008.9 613.8,1019.7 617.5,1019.7" stroke="#5a6ad8" stroke-width="0.9" fill="none" fill-opacity="0.8"/>
<path d="M612.9,1019.7 C616.5,1019.7 616.8,1009.6 619.0,1009.6 C621.1,1009.6 621.4,1019.7 625.1,1019.7" stroke="#d84a4a" stroke-width="0.9" fill="none" fill-opacity="0.8"/>
<path d="M620.5,1019.7 C624.2,1019.7 624.5,1011.5 626.6,1011.5 C628.8,1011.5 629.1,1019.7 632.7,1019.7" stroke="#5a6ad8" stroke-width="0.9" fill="none" fill-opacity="0.8"/>
<path d="M628.2,1019.7 C631.8,1019.7 632.1,1002.7 634.3,1002.7 C636.4,1002.7 636.7,1019.7 640.4,1019.7" stroke="#2a9a2a" stroke-width="0.9" fill="none" fill-opacity="0.8"/>
<path d="M635.8,1019.7 C639.5,1019.7 639.8,1010.0 641.9,1010.0 C644.0,1010.0 644.3,1019.7 648.0,1019.7" stroke="#d84a4a" stroke-width="0.9" fill="none" fill-opacity="0.8"/>
<path d="M643.4,1019.7 C647.1,1019.7 647.4,999.6 649.5,999.6 C651.7,999.6 652.0,1019.7 655.7,1019.7" stroke="#2a9a2a" stroke-width="0.9" fill="none" fill-opacity="0.8"/>
<path d="M651.1,1019.7 C654.7,1019.7 655.0,1014.7 657.2,1014.7 C659.3,1014.7 659.6,1019.7 663.3,1019.7" stroke="#333" stroke-width="0.9" fill="#c8c8c8" fill-opacity="0.8"/>
<rect x="462" y="922" width="7" height="8" fill="none" stroke="#333" stroke-width="1.1"/>
<rect x="500" y="922" width="7" height="8" fill="none" stroke="#e03030" stroke-width="1.1"/>
<rect x="516" y="922" width="7" height="8" fill="none" stroke="#333" stroke-width="1.1"/>
<rect x="553" y="922" width="7" height="8" fill="none" stroke="#e03030" stroke-width="1.1"/>
<rect x="592" y="922" width="7" height="8" fill="none" stroke="#e03030" stroke-width="1.1"/>
<rect x="608" y="922" width="7" height="8" fill="none" stroke="#e03030" stroke-width="1.1"/>
<rect x="493" y="984.4" width="7" height="8" fill="none" stroke="#e03030" stroke-width="1.1"/>
<rect x="539" y="984.4" width="7" height="8" fill="none" stroke="#e03030" stroke-width="1.1"/>
<rect x="563" y="984.4" width="7" height="8" fill="none" stroke="#333" stroke-width="1.1"/>
<rect x="572" y="984.4" width="7" height="8" fill="none" stroke="#e03030" stroke-width="1.1"/>
<rect x="584" y="984.4" width="7" height="8" fill="none" stroke="#e03030" stroke-width="1.1"/>
<path d="M465.5,930 L458,982.4" stroke="#333" stroke-width="1"/>
<path d="M455,978.4 L458,983.4 L460.5,977.9" stroke="#333" stroke-width="1" fill="none"/>
<path d="M503.5,930 L496,982.4" stroke="#e03030" stroke-width="1"/>
<path d="M519.5,930 L505,982.4" stroke="#333" stroke-width="1"/>
<path d="M502,978.4 L505,983.4 L507.5,977.9" stroke="#333" stroke-width="1" fill="none"/>
<path d="M556.5,930 L542,982.4" stroke="#e03030" stroke-width="1"/>
<path d="M595.5,930 L575,982.4" stroke="#e03030" stroke-width="1"/>
<path d="M611.5,930 L587,982.4" stroke="#e03030" stroke-width="1"/>
<path d="M567,930 L573,982.4" stroke="#333" stroke-width="1"/>
<path d="M570,978.4 L573,983.4 L575.5,977.9" stroke="#333" stroke-width="1" fill="none"/>
<text x="512.4" y="1054.5" font-size="20.2" text-anchor="middle" fill="#000" stroke="#000" stroke-width="0.22" >sgRNA</text>
<text x="607.9" y="1054.5" font-size="20.6" text-anchor="middle" fill="#000" stroke="#000" stroke-width="0.22" >PAM</text>
<path d="M441.4,1060 H587.4" stroke="#333" stroke-width="1.5"/>
<path d="M592.4,1060 H611.4" stroke="#f0e040" stroke-width="2"/>
<text x="378.5" y="1092.2" font-size="20.2" text-anchor="end" fill="#000" stroke="#000" stroke-width="0.22" >BcDREB1C</text>
<text x="378.5" y="1153.8" font-size="20.2" text-anchor="end" fill="#000" stroke="#000" stroke-width="0.22" >mBcDREB1C</text>
<text x="387.6" y="1069.8" font-size="5.5" font-family="Liberation Sans" font-weight="bold" fill="#555" text-anchor="middle">G</text>
<text x="395.8" y="1069.8" font-size="5.5" font-family="Liberation Sans" font-weight="bold" fill="#d86a6a" text-anchor="middle">T</text>
<text x="404.1" y="1069.8" font-size="5.5" font-family="Liberation Sans" font-weight="bold" fill="#555" text-anchor="middle">G</text>
<text x="412.3" y="1069.8" font-size="5.5" font-family="Liberation Sans" font-weight="bold" fill="#d86a6a" text-anchor="middle">T</text>
<text x="420.5" y="1069.8" font-size="5.5" font-family="Liberation Sans" font-weight="bold" fill="#3aa03a" text-anchor="middle">A</text>
<text x="428.7" y="1069.8" font-size="5.5" font-family="Liberation Sans" font-weight="bold" fill="#555" text-anchor="middle">G</text>
<text x="436.9" y="1069.8" font-size="5.5" font-family="Liberation Sans" font-weight="bold" fill="#3aa03a" text-anchor="middle">A</text>
<text x="445.2" y="1069.8" font-size="5.5" font-family="Liberation Sans" font-weight="bold" fill="#555" text-anchor="middle">G</text>
<text x="453.4" y="1069.8" font-size="5.5" font-family="Liberation Sans" font-weight="bold" fill="#3aa03a" text-anchor="middle">A</text>
<text x="461.6" y="1069.8" font-size="5.5" font-family="Liberation Sans" font-weight="bold" fill="#3aa03a" text-anchor="middle">A</text>
<text x="469.8" y="1069.8" font-size="5.5" font-family="Liberation Sans" font-weight="bold" fill="#3aa03a" text-anchor="middle">A</text>
<text x="478.0" y="1069.8" font-size="5.5" font-family="Liberation Sans" font-weight="bold" fill="#555" text-anchor="middle">G</text>
<text x="486.3" y="1069.8" font-size="5.5" font-family="Liberation Sans" font-weight="bold" fill="#555" text-anchor="middle">G</text>
<text x="494.5" y="1069.8" font-size="5.5" font-family="Liberation Sans" font-weight="bold" fill="#3aa03a" text-anchor="middle">A</text>
<text x="502.7" y="1069.8" font-size="5.5" font-family="Liberation Sans" font-weight="bold" fill="#3aa03a" text-anchor="middle">A</text>
<text x="510.9" y="1069.8" font-size="5.5" font-family="Liberation Sans" font-weight="bold" fill="#d86a6a" text-anchor="middle">T</text>
<text x="519.1" y="1069.8" font-size="5.5" font-family="Liberation Sans" font-weight="bold" fill="#d86a6a" text-anchor="middle">T</text>
<text x="527.4" y="1069.8" font-size="5.5" font-family="Liberation Sans" font-weight="bold" fill="#3aa03a" text-anchor="middle">A</text>
<text x="535.6" y="1069.8" font-size="5.5" font-family="Liberation Sans" font-weight="bold" fill="#555" text-anchor="middle">G</text>
<text x="543.8" y="1069.8" font-size="5.5" font-family="Liberation Sans" font-weight="bold" fill="#555" text-anchor="middle">G</text>
<text x="552.0" y="1069.8" font-size="5.5" font-family="Liberation Sans" font-weight="bold" fill="#555" text-anchor="middle">G</text>
<text x="560.2" y="1069.8" font-size="5.5" font-family="Liberation Sans" font-weight="bold" fill="#d86a6a" text-anchor="middle">T</text>
<text x="568.5" y="1069.8" font-size="5.5" font-family="Liberation Sans" font-weight="bold" fill="#5a6ad8" text-anchor="middle">C</text>
<text x="576.7" y="1069.8" font-size="5.5" font-family="Liberation Sans" font-weight="bold" fill="#3aa03a" text-anchor="middle">A</text>
<text x="584.9" y="1069.8" font-size="5.5" font-family="Liberation Sans" font-weight="bold" fill="#3aa03a" text-anchor="middle">A</text>
<text x="593.1" y="1069.8" font-size="5.5" font-family="Liberation Sans" font-weight="bold" fill="#5a6ad8" text-anchor="middle">C</text>
<text x="601.3" y="1069.8" font-size="5.5" font-family="Liberation Sans" font-weight="bold" fill="#d86a6a" text-anchor="middle">T</text>
<text x="609.6" y="1069.8" font-size="5.5" font-family="Liberation Sans" font-weight="bold" fill="#5a6ad8" text-anchor="middle">C</text>
<text x="617.8" y="1069.8" font-size="5.5" font-family="Liberation Sans" font-weight="bold" fill="#3aa03a" text-anchor="middle">A</text>
<text x="626.0" y="1069.8" font-size="5.5" font-family="Liberation Sans" font-weight="bold" fill="#3aa03a" text-anchor="middle">A</text>
<text x="634.2" y="1069.8" font-size="5.5" font-family="Liberation Sans" font-weight="bold" fill="#3aa03a" text-anchor="middle">A</text>
<text x="642.4" y="1069.8" font-size="5.5" font-family="Liberation Sans" font-weight="bold" fill="#d86a6a" text-anchor="middle">T</text>
<text x="650.7" y="1069.8" font-size="5.5" font-family="Liberation Sans" font-weight="bold" fill="#555" text-anchor="middle">G</text>
<text x="658.9" y="1069.8" font-size="5.5" font-family="Liberation Sans" font-weight="bold" fill="#555" text-anchor="middle">G</text>
<path d="M386,1098.2 H661" stroke="#d04040" stroke-width="1"/>
<path d="M383.7,1098.2 C387.4,1098.2 387.7,1079.5 389.8,1079.5 C392.0,1079.5 392.3,1098.2 395.9,1098.2" stroke="#333" stroke-width="0.9" fill="#c8c8c8" fill-opacity="0.8"/>
<path d="M391.3,1098.2 C395.0,1098.2 395.3,1086.9 397.5,1086.9 C399.6,1086.9 399.9,1098.2 403.6,1098.2" stroke="#2a9a2a" stroke-width="0.9" fill="none" fill-opacity="0.8"/>
<path d="M399.0,1098.2 C402.7,1098.2 403.0,1093.0 405.1,1093.0 C407.2,1093.0 407.5,1098.2 411.2,1098.2" stroke="#333" stroke-width="0.9" fill="none" fill-opacity="0.8"/>
<path d="M406.6,1098.2 C410.3,1098.2 410.6,1086.4 412.7,1086.4 C414.9,1086.4 415.2,1098.2 418.8,1098.2" stroke="#333" stroke-width="0.9" fill="none" fill-opacity="0.8"/>
<path d="M414.3,1098.2 C417.9,1098.2 418.2,1088.9 420.4,1088.9 C422.5,1088.9 422.8,1098.2 426.5,1098.2" stroke="#d84a4a" stroke-width="0.9" fill="none" fill-opacity="0.8"/>
<path d="M421.9,1098.2 C425.6,1098.2 425.9,1086.1 428.0,1086.1 C430.2,1086.1 430.5,1098.2 434.1,1098.2" stroke="#333" stroke-width="0.9" fill="none" fill-opacity="0.8"/>
<path d="M429.5,1098.2 C433.2,1098.2 433.5,1087.1 435.7,1087.1 C437.8,1087.1 438.1,1098.2 441.8,1098.2" stroke="#333" stroke-width="0.9" fill="none" fill-opacity="0.8"/>
<path d="M437.2,1098.2 C440.8,1098.2 441.2,1081.1 443.3,1081.1 C445.4,1081.1 445.7,1098.2 449.4,1098.2" stroke="#2a9a2a" stroke-width="0.9" fill="none" fill-opacity="0.8"/>
<path d="M444.8,1098.2 C448.5,1098.2 448.8,1087.7 450.9,1087.7 C453.1,1087.7 453.4,1098.2 457.0,1098.2" stroke="#2a9a2a" stroke-width="0.9" fill="none" fill-opacity="0.8"/>
<path d="M452.5,1098.2 C456.1,1098.2 456.4,1092.7 458.6,1092.7 C460.7,1092.7 461.0,1098.2 464.7,1098.2" stroke="#5a6ad8" stroke-width="0.9" fill="none" fill-opacity="0.8"/>
<path d="M460.1,1098.2 C463.8,1098.2 464.1,1083.0 466.2,1083.0 C468.3,1083.0 468.7,1098.2 472.3,1098.2" stroke="#333" stroke-width="0.9" fill="#c8c8c8" fill-opacity="0.8"/>
<path d="M467.7,1098.2 C471.4,1098.2 471.7,1093.7 473.8,1093.7 C476.0,1093.7 476.3,1098.2 480.0,1098.2" stroke="#d84a4a" stroke-width="0.9" fill="none" fill-opacity="0.8"/>
<path d="M475.4,1098.2 C479.0,1098.2 479.3,1085.9 481.5,1085.9 C483.6,1085.9 483.9,1098.2 487.6,1098.2" stroke="#333" stroke-width="0.9" fill="#c8c8c8" fill-opacity="0.8"/>
<path d="M483.0,1098.2 C486.7,1098.2 487.0,1089.9 489.1,1089.9 C491.3,1089.9 491.6,1098.2 495.2,1098.2" stroke="#d84a4a" stroke-width="0.9" fill="none" fill-opacity="0.8"/>
<path d="M490.7,1098.2 C494.3,1098.2 494.6,1092.0 496.8,1092.0 C498.9,1092.0 499.2,1098.2 502.9,1098.2" stroke="#d84a4a" stroke-width="0.9" fill="none" fill-opacity="0.8"/>
<path d="M498.3,1098.2 C502.0,1098.2 502.3,1085.7 504.4,1085.7 C506.5,1085.7 506.8,1098.2 510.5,1098.2" stroke="#5a6ad8" stroke-width="0.9" fill="none" fill-opacity="0.8"/>
<path d="M505.9,1098.2 C509.6,1098.2 509.9,1082.3 512.0,1082.3 C514.2,1082.3 514.5,1098.2 518.2,1098.2" stroke="#333" stroke-width="0.9" fill="none" fill-opacity="0.8"/>
<path d="M513.6,1098.2 C517.2,1098.2 517.5,1090.2 519.7,1090.2 C521.8,1090.2 522.1,1098.2 525.8,1098.2" stroke="#2a9a2a" stroke-width="0.9" fill="none" fill-opacity="0.8"/>
<path d="M521.2,1098.2 C524.9,1098.2 525.2,1090.9 527.3,1090.9 C529.5,1090.9 529.8,1098.2 533.4,1098.2" stroke="#333" stroke-width="0.9" fill="#c8c8c8" fill-opacity="0.8"/>
<path d="M528.8,1098.2 C532.5,1098.2 532.8,1088.0 535.0,1088.0 C537.1,1088.0 537.4,1098.2 541.1,1098.2" stroke="#5a6ad8" stroke-width="0.9" fill="none" fill-opacity="0.8"/>
<path d="M536.5,1098.2 C540.2,1098.2 540.5,1081.9 542.6,1081.9 C544.7,1081.9 545.0,1098.2 548.7,1098.2" stroke="#333" stroke-width="0.9" fill="#c8c8c8" fill-opacity="0.8"/>
<path d="M544.1,1098.2 C547.8,1098.2 548.1,1087.7 550.2,1087.7 C552.4,1087.7 552.7,1098.2 556.3,1098.2" stroke="#2a9a2a" stroke-width="0.9" fill="none" fill-opacity="0.8"/>
<path d="M551.8,1098.2 C555.4,1098.2 555.7,1080.6 557.9,1080.6 C560.0,1080.6 560.3,1098.2 564.0,1098.2" stroke="#333" stroke-width="0.9" fill="#c8c8c8" fill-opacity="0.8"/>
<path d="M559.4,1098.2 C563.1,1098.2 563.4,1093.7 565.5,1093.7 C567.7,1093.7 568.0,1098.2 571.6,1098.2" stroke="#5a6ad8" stroke-width="0.9" fill="none" fill-opacity="0.8"/>
<path d="M567.0,1098.2 C570.7,1098.2 571.0,1092.3 573.2,1092.3 C575.3,1092.3 575.6,1098.2 579.3,1098.2" stroke="#5a6ad8" stroke-width="0.9" fill="none" fill-opacity="0.8"/>
<path d="M574.7,1098.2 C578.3,1098.2 578.7,1091.6 580.8,1091.6 C582.9,1091.6 583.2,1098.2 586.9,1098.2" stroke="#333" stroke-width="0.9" fill="#c8c8c8" fill-opacity="0.8"/>
<path d="M582.3,1098.2 C586.0,1098.2 586.3,1086.7 588.4,1086.7 C590.6,1086.7 590.9,1098.2 594.5,1098.2" stroke="#333" stroke-width="0.9" fill="none" fill-opacity="0.8"/>
<path d="M590.0,1098.2 C593.6,1098.2 593.9,1079.1 596.1,1079.1 C598.2,1079.1 598.5,1098.2 602.2,1098.2" stroke="#5a6ad8" stroke-width="0.9" fill="none" fill-opacity="0.8"/>
<path d="M597.6,1098.2 C601.3,1098.2 601.6,1087.2 603.7,1087.2 C605.8,1087.2 606.2,1098.2 609.8,1098.2" stroke="#d84a4a" stroke-width="0.9" fill="none" fill-opacity="0.8"/>
<path d="M605.2,1098.2 C608.9,1098.2 609.2,1084.9 611.3,1084.9 C613.5,1084.9 613.8,1098.2 617.5,1098.2" stroke="#2a9a2a" stroke-width="0.9" fill="none" fill-opacity="0.8"/>
<path d="M612.9,1098.2 C616.5,1098.2 616.8,1091.2 619.0,1091.2 C621.1,1091.2 621.4,1098.2 625.1,1098.2" stroke="#2a9a2a" stroke-width="0.9" fill="none" fill-opacity="0.8"/>
<path d="M620.5,1098.2 C624.2,1098.2 624.5,1085.5 626.6,1085.5 C628.8,1085.5 629.1,1098.2 632.7,1098.2" stroke="#d84a4a" stroke-width="0.9" fill="none" fill-opacity="0.8"/>
<path d="M628.2,1098.2 C631.8,1098.2 632.1,1091.6 634.3,1091.6 C636.4,1091.6 636.7,1098.2 640.4,1098.2" stroke="#5a6ad8" stroke-width="0.9" fill="none" fill-opacity="0.8"/>
<path d="M635.8,1098.2 C639.5,1098.2 639.8,1085.1 641.9,1085.1 C644.0,1085.1 644.3,1098.2 648.0,1098.2" stroke="#2a9a2a" stroke-width="0.9" fill="none" fill-opacity="0.8"/>
<path d="M643.4,1098.2 C647.1,1098.2 647.4,1084.4 649.5,1084.4 C651.7,1084.4 652.0,1098.2 655.7,1098.2" stroke="#5a6ad8" stroke-width="0.9" fill="none" fill-opacity="0.8"/>
<path d="M651.1,1098.2 C654.7,1098.2 655.0,1084.8 657.2,1084.8 C659.3,1084.8 659.6,1098.2 663.3,1098.2" stroke="#2a9a2a" stroke-width="0.9" fill="none" fill-opacity="0.8"/>
<text x="387.6" y="1130.0" font-size="5.5" font-family="Liberation Sans" font-weight="bold" fill="#3aa03a" text-anchor="middle">A</text>
<text x="395.8" y="1130.0" font-size="5.5" font-family="Liberation Sans" font-weight="bold" fill="#3aa03a" text-anchor="middle">A</text>
<text x="404.1" y="1130.0" font-size="5.5" font-family="Liberation Sans" font-weight="bold" fill="#5a6ad8" text-anchor="middle">C</text>
<text x="412.3" y="1130.0" font-size="5.5" font-family="Liberation Sans" font-weight="bold" fill="#d86a6a" text-anchor="middle">T</text>
<text x="420.5" y="1130.0" font-size="5.5" font-family="Liberation Sans" font-weight="bold" fill="#3aa03a" text-anchor="middle">A</text>
<text x="428.7" y="1130.0" font-size="5.5" font-family="Liberation Sans" font-weight="bold" fill="#5a6ad8" text-anchor="middle">C</text>
<text x="436.9" y="1130.0" font-size="5.5" font-family="Liberation Sans" font-weight="bold" fill="#d86a6a" text-anchor="middle">T</text>
<text x="445.2" y="1130.0" font-size="5.5" font-family="Liberation Sans" font-weight="bold" fill="#d86a6a" text-anchor="middle">T</text>
<text x="453.4" y="1130.0" font-size="5.5" font-family="Liberation Sans" font-weight="bold" fill="#5a6ad8" text-anchor="middle">C</text>
<text x="461.6" y="1130.0" font-size="5.5" font-family="Liberation Sans" font-weight="bold" fill="#555" text-anchor="middle">G</text>
<text x="469.8" y="1130.0" font-size="5.5" font-family="Liberation Sans" font-weight="bold" fill="#5a6ad8" text-anchor="middle">C</text>
<text x="478.0" y="1130.0" font-size="5.5" font-family="Liberation Sans" font-weight="bold" fill="#d86a6a" text-anchor="middle">T</text>
<text x="486.3" y="1130.0" font-size="5.5" font-family="Liberation Sans" font-weight="bold" fill="#5a6ad8" text-anchor="middle">C</text>
<text x="494.5" y="1130.0" font-size="5.5" font-family="Liberation Sans" font-weight="bold" fill="#d86a6a" text-anchor="middle">T</text>
<text x="502.7" y="1130.0" font-size="5.5" font-family="Liberation Sans" font-weight="bold" fill="#555" text-anchor="middle">G</text>
<text x="510.9" y="1130.0" font-size="5.5" font-family="Liberation Sans" font-weight="bold" fill="#d86a6a" text-anchor="middle">T</text>
<text x="519.1" y="1130.0" font-size="5.5" font-family="Liberation Sans" font-weight="bold" fill="#5a6ad8" text-anchor="middle">C</text>
<text x="527.4" y="1130.0" font-size="5.5" font-family="Liberation Sans" font-weight="bold" fill="#5a6ad8" text-anchor="middle">C</text>
<text x="535.6" y="1130.0" font-size="5.5" font-family="Liberation Sans" font-weight="bold" fill="#3aa03a" text-anchor="middle">A</text>
<text x="543.8" y="1130.0" font-size="5.5" font-family="Liberation Sans" font-weight="bold" fill="#555" text-anchor="middle">G</text>
<text x="552.0" y="1130.0" font-size="5.5" font-family="Liberation Sans" font-weight="bold" fill="#555" text-anchor="middle">G</text>
<text x="560.2" y="1130.0" font-size="5.5" font-family="Liberation Sans" font-weight="bold" fill="#5a6ad8" text-anchor="middle">C</text>
<text x="568.5" y="1130.0" font-size="5.5" font-family="Liberation Sans" font-weight="bold" fill="#5a6ad8" text-anchor="middle">C</text>
<text x="576.7" y="1130.0" font-size="5.5" font-family="Liberation Sans" font-weight="bold" fill="#3aa03a" text-anchor="middle">A</text>
<text x="584.9" y="1130.0" font-size="5.5" font-family="Liberation Sans" font-weight="bold" fill="#555" text-anchor="middle">G</text>
<text x="593.1" y="1130.0" font-size="5.5" font-family="Liberation Sans" font-weight="bold" fill="#5a6ad8" text-anchor="middle">C</text>
<text x="601.3" y="1130.0" font-size="5.5" font-family="Liberation Sans" font-weight="bold" fill="#555" text-anchor="middle">G</text>
<text x="609.6" y="1130.0" font-size="5.5" font-family="Liberation Sans" font-weight="bold" fill="#5a6ad8" text-anchor="middle">C</text>
<text x="617.8" y="1130.0" font-size="5.5" font-family="Liberation Sans" font-weight="bold" fill="#3aa03a" text-anchor="middle">A</text>
<text x="626.0" y="1130.0" font-size="5.5" font-family="Liberation Sans" font-weight="bold" fill="#5a6ad8" text-anchor="middle">C</text>
<text x="634.2" y="1130.0" font-size="5.5" font-family="Liberation Sans" font-weight="bold" fill="#5a6ad8" text-anchor="middle">C</text>
<text x="642.4" y="1130.0" font-size="5.5" font-family="Liberation Sans" font-weight="bold" fill="#555" text-anchor="middle">G</text>
<text x="650.7" y="1130.0" font-size="5.5" font-family="Liberation Sans" font-weight="bold" fill="#5a6ad8" text-anchor="middle">C</text>
<text x="658.9" y="1130.0" font-size="5.5" font-family="Liberation Sans" font-weight="bold" fill="#5a6ad8" text-anchor="middle">C</text>
<path d="M386,1158.3 H661" stroke="#d04040" stroke-width="1"/>
<path d="M383.7,1158.3 C387.4,1158.3 387.7,1145.5 389.8,1145.5 C392.0,1145.5 392.3,1158.3 395.9,1158.3" stroke="#5a6ad8" stroke-width="0.9" fill="none" fill-opacity="0.8"/>
<path d="M391.3,1158.3 C395.0,1158.3 395.3,1140.1 397.5,1140.1 C399.6,1140.1 399.9,1158.3 403.6,1158.3" stroke="#2a9a2a" stroke-width="0.9" fill="none" fill-opacity="0.8"/>
<path d="M399.0,1158.3 C402.7,1158.3 403.0,1149.1 405.1,1149.1 C407.2,1149.1 407.5,1158.3 411.2,1158.3" stroke="#d84a4a" stroke-width="0.9" fill="none" fill-opacity="0.8"/>
<path d="M406.6,1158.3 C410.3,1158.3 410.6,1148.2 412.7,1148.2 C414.9,1148.2 415.2,1158.3 418.8,1158.3" stroke="#333" stroke-width="0.9" fill="#c8c8c8" fill-opacity="0.8"/>
<path d="M414.3,1158.3 C417.9,1158.3 418.2,1145.5 420.4,1145.5 C422.5,1145.5 422.8,1158.3 426.5,1158.3" stroke="#333" stroke-width="0.9" fill="none" fill-opacity="0.8"/>
<path d="M421.9,1158.3 C425.6,1158.3 425.9,1150.5 428.0,1150.5 C430.2,1150.5 430.5,1158.3 434.1,1158.3" stroke="#333" stroke-width="0.9" fill="none" fill-opacity="0.8"/>
<path d="M429.5,1158.3 C433.2,1158.3 433.5,1142.7 435.7,1142.7 C437.8,1142.7 438.1,1158.3 441.8,1158.3" stroke="#2a9a2a" stroke-width="0.9" fill="none" fill-opacity="0.8"/>
<path d="M437.2,1158.3 C440.8,1158.3 441.2,1141.8 443.3,1141.8 C445.4,1141.8 445.7,1158.3 449.4,1158.3" stroke="#333" stroke-width="0.9" fill="#c8c8c8" fill-opacity="0.8"/>
<path d="M444.8,1158.3 C448.5,1158.3 448.8,1141.8 450.9,1141.8 C453.1,1141.8 453.4,1158.3 457.0,1158.3" stroke="#333" stroke-width="0.9" fill="none" fill-opacity="0.8"/>
<path d="M452.5,1158.3 C456.1,1158.3 456.4,1150.2 458.6,1150.2 C460.7,1150.2 461.0,1158.3 464.7,1158.3" stroke="#5a6ad8" stroke-width="0.9" fill="none" fill-opacity="0.8"/>
<path d="M460.1,1158.3 C463.8,1158.3 464.1,1151.4 466.2,1151.4 C468.3,1151.4 468.7,1158.3 472.3,1158.3" stroke="#5a6ad8" stroke-width="0.9" fill="none" fill-opacity="0.8"/>
<path d="M467.7,1158.3 C471.4,1158.3 471.7,1146.3 473.8,1146.3 C476.0,1146.3 476.3,1158.3 480.0,1158.3" stroke="#d84a4a" stroke-width="0.9" fill="none" fill-opacity="0.8"/>
<path d="M475.4,1158.3 C479.0,1158.3 479.3,1145.7 481.5,1145.7 C483.6,1145.7 483.9,1158.3 487.6,1158.3" stroke="#2a9a2a" stroke-width="0.9" fill="none" fill-opacity="0.8"/>
<path d="M483.0,1158.3 C486.7,1158.3 487.0,1146.2 489.1,1146.2 C491.3,1146.2 491.6,1158.3 495.2,1158.3" stroke="#d84a4a" stroke-width="0.9" fill="none" fill-opacity="0.8"/>
<path d="M490.7,1158.3 C494.3,1158.3 494.6,1150.9 496.8,1150.9 C498.9,1150.9 499.2,1158.3 502.9,1158.3" stroke="#2a9a2a" stroke-width="0.9" fill="none" fill-opacity="0.8"/>
<path d="M498.3,1158.3 C502.0,1158.3 502.3,1145.6 504.4,1145.6 C506.5,1145.6 506.8,1158.3 510.5,1158.3" stroke="#333" stroke-width="0.9" fill="none" fill-opacity="0.8"/>
<path d="M505.9,1158.3 C509.6,1158.3 509.9,1150.4 512.0,1150.4 C514.2,1150.4 514.5,1158.3 518.2,1158.3" stroke="#d84a4a" stroke-width="0.9" fill="none" fill-opacity="0.8"/>
<path d="M513.6,1158.3 C517.2,1158.3 517.5,1145.6 519.7,1145.6 C521.8,1145.6 522.1,1158.3 525.8,1158.3" stroke="#333" stroke-width="0.9" fill="none" fill-opacity="0.8"/>
<path d="M521.2,1158.3 C524.9,1158.3 525.2,1142.0 527.3,1142.0 C529.5,1142.0 529.8,1158.3 533.4,1158.3" stroke="#2a9a2a" stroke-width="0.9" fill="none" fill-opacity="0.8"/>
<path d="M528.8,1158.3 C532.5,1158.3 532.8,1142.2 535.0,1142.2 C537.1,1142.2 537.4,1158.3 541.1,1158.3" stroke="#d84a4a" stroke-width="0.9" fill="none" fill-opacity="0.8"/>
<path d="M536.5,1158.3 C540.2,1158.3 540.5,1147.7 542.6,1147.7 C544.7,1147.7 545.0,1158.3 548.7,1158.3" stroke="#5a6ad8" stroke-width="0.9" fill="none" fill-opacity="0.8"/>
<path d="M544.1,1158.3 C547.8,1158.3 548.1,1146.6 550.2,1146.6 C552.4,1146.6 552.7,1158.3 556.3,1158.3" stroke="#333" stroke-width="0.9" fill="none" fill-opacity="0.8"/>
<path d="M551.8,1158.3 C555.4,1158.3 555.7,1148.2 557.9,1148.2 C560.0,1148.2 560.3,1158.3 564.0,1158.3" stroke="#d84a4a" stroke-width="0.9" fill="none" fill-opacity="0.8"/>
<path d="M559.4,1158.3 C563.1,1158.3 563.4,1149.1 565.5,1149.1 C567.7,1149.1 568.0,1158.3 571.6,1158.3" stroke="#d84a4a" stroke-width="0.9" fill="none" fill-opacity="0.8"/>
<path d="M567.0,1158.3 C570.7,1158.3 571.0,1150.5 573.2,1150.5 C575.3,1150.5 575.6,1158.3 579.3,1158.3" stroke="#d84a4a" stroke-width="0.9" fill="none" fill-opacity="0.8"/>
<path d="M574.7,1158.3 C578.3,1158.3 578.7,1152.3 580.8,1152.3 C582.9,1152.3 583.2,1158.3 586.9,1158.3" stroke="#2a9a2a" stroke-width="0.9" fill="none" fill-opacity="0.8"/>
<path d="M582.3,1158.3 C586.0,1158.3 586.3,1153.6 588.4,1153.6 C590.6,1153.6 590.9,1158.3 594.5,1158.3" stroke="#5a6ad8" stroke-width="0.9" fill="none" fill-opacity="0.8"/>
<path d="M590.0,1158.3 C593.6,1158.3 593.9,1146.6 596.1,1146.6 C598.2,1146.6 598.5,1158.3 602.2,1158.3" stroke="#5a6ad8" stroke-width="0.9" fill="none" fill-opacity="0.8"/>
<path d="M597.6,1158.3 C601.3,1158.3 601.6,1148.4 603.7,1148.4 C605.8,1148.4 606.2,1158.3 609.8,1158.3" stroke="#5a6ad8" stroke-width="0.9" fill="none" fill-opacity="0.8"/>
<path d="M605.2,1158.3 C608.9,1158.3 609.2,1148.4 611.3,1148.4 C613.5,1148.4 613.8,1158.3 617.5,1158.3" stroke="#2a9a2a" stroke-width="0.9" fill="none" fill-opacity="0.8"/>
<path d="M612.9,1158.3 C616.5,1158.3 616.8,1142.5 619.0,1142.5 C621.1,1142.5 621.4,1158.3 625.1,1158.3" stroke="#5a6ad8" stroke-width="0.9" fill="none" fill-opacity="0.8"/>
<path d="M620.5,1158.3 C624.2,1158.3 624.5,1138.9 626.6,1138.9 C628.8,1138.9 629.1,1158.3 632.7,1158.3" stroke="#5a6ad8" stroke-width="0.9" fill="none" fill-opacity="0.8"/>
<path d="M628.2,1158.3 C631.8,1158.3 632.1,1153.6 634.3,1153.6 C636.4,1153.6 636.7,1158.3 640.4,1158.3" stroke="#d84a4a" stroke-width="0.9" fill="none" fill-opacity="0.8"/>
<path d="M635.8,1158.3 C639.5,1158.3 639.8,1149.6 641.9,1149.6 C644.0,1149.6 644.3,1158.3 648.0,1158.3" stroke="#333" stroke-width="0.9" fill="#c8c8c8" fill-opacity="0.8"/>
<path d="M643.4,1158.3 C647.1,1158.3 647.4,1142.9 649.5,1142.9 C651.7,1142.9 652.0,1158.3 655.7,1158.3" stroke="#2a9a2a" stroke-width="0.9" fill="none" fill-opacity="0.8"/>
<path d="M651.1,1158.3 C654.7,1158.3 655.0,1147.2 657.2,1147.2 C659.3,1147.2 659.6,1158.3 663.3,1158.3" stroke="#5a6ad8" stroke-width="0.9" fill="none" fill-opacity="0.8"/>
<rect x="469" y="1063.6" width="20" height="8" fill="none" stroke="#333" stroke-width="1.1"/>
<rect x="514" y="1063.6" width="14" height="8" fill="none" stroke="#e03030" stroke-width="1.1"/>
<rect x="568" y="1063.6" width="9" height="8" fill="none" stroke="#333" stroke-width="1.1"/>
<rect x="599" y="1063.6" width="8" height="8" fill="none" stroke="#333" stroke-width="1.1"/>
<rect x="490" y="1123.8" width="14" height="8" fill="none" stroke="#e03030" stroke-width="1.1"/>
<path d="M479,1071.6 L468,1121.8" stroke="#333" stroke-width="1"/>
<path d="M465,1117.8 L468,1122.8 L470.5,1117.3" stroke="#333" stroke-width="1" fill="none"/>
<path d="M521,1071.6 L497,1121.8" stroke="#e03030" stroke-width="1"/>
<path d="M572.5,1071.6 L545,1121.8" stroke="#333" stroke-width="1"/>
<path d="M542,1117.8 L545,1122.8 L547.5,1117.3" stroke="#333" stroke-width="1" fill="none"/>
<path d="M603,1071.6 L582,1121.8" stroke="#333" stroke-width="1"/>
<path d="M579,1117.8 L582,1122.8 L584.5,1117.3" stroke="#333" stroke-width="1" fill="none"/>
<text x="688.0" y="765.5" font-size="46" text-anchor="start" fill="#000" stroke="#000" stroke-width="0.22" >E</text>
<rect x="775.5" y="765.5" width="344.5" height="385" fill="none" stroke="#111" stroke-width="1.5"/>
<path d="M771,794.2 H775.5" stroke="#222" stroke-width="1.2"/>
<text x="768.5" y="800.2" font-size="18.5" text-anchor="end" fill="#222" stroke="#222" stroke-width="0.22" >120</text>
<path d="M771,844.5 H775.5" stroke="#222" stroke-width="1.2"/>
<text x="768.5" y="850.5" font-size="18.5" text-anchor="end" fill="#222" stroke="#222" stroke-width="0.22" >100</text>
<path d="M771,894.8 H775.5" stroke="#222" stroke-width="1.2"/>
<text x="768.5" y="900.8" font-size="18.5" text-anchor="end" fill="#222" stroke="#222" stroke-width="0.22" >80</text>
<path d="M771,945.1 H775.5" stroke="#222" stroke-width="1.2"/>
<text x="768.5" y="951.1" font-size="18.5" text-anchor="end" fill="#222" stroke="#222" stroke-width="0.22" >60</text>
<path d="M771,995.4 H775.5" stroke="#222" stroke-width="1.2"/>
<text x="768.5" y="1001.4" font-size="18.5" text-anchor="end" fill="#222" stroke="#222" stroke-width="0.22" >40</text>
<path d="M771,1045.7 H775.5" stroke="#222" stroke-width="1.2"/>
<text x="768.5" y="1051.7" font-size="18.5" text-anchor="end" fill="#222" stroke="#222" stroke-width="0.22" >20</text>
<path d="M771,1096.0 H775.5" stroke="#222" stroke-width="1.2"/>
<text x="768.5" y="1102.0" font-size="18.5" text-anchor="end" fill="#222" stroke="#222" stroke-width="0.22" >0</text>
<path d="M771,1146.3 H775.5" stroke="#222" stroke-width="1.2"/>
<text x="768.5" y="1152.3" font-size="18.5" text-anchor="end" fill="#222" stroke="#222" stroke-width="0.22" >-20</text>
<path d="M785.0,1150.5 V1155" stroke="#222" stroke-width="1.2"/>
<text x="785.0" y="1171.5" font-size="18.5" text-anchor="middle" fill="#222" stroke="#222" stroke-width="0.22" >-30</text>
<path d="M833.5,1150.5 V1155" stroke="#222" stroke-width="1.2"/>
<text x="833.5" y="1171.5" font-size="18.5" text-anchor="middle" fill="#222" stroke="#222" stroke-width="0.22" >-20</text>
<path d="M882.0,1150.5 V1155" stroke="#222" stroke-width="1.2"/>
<text x="882.0" y="1171.5" font-size="18.5" text-anchor="middle" fill="#222" stroke="#222" stroke-width="0.22" >-10</text>
<path d="M930.5,1150.5 V1155" stroke="#222" stroke-width="1.2"/>
<text x="930.5" y="1171.5" font-size="18.5" text-anchor="middle" fill="#222" stroke="#222" stroke-width="0.22" >0</text>
<path d="M979.0,1150.5 V1155" stroke="#222" stroke-width="1.2"/>
<text x="979.0" y="1171.5" font-size="18.5" text-anchor="middle" fill="#222" stroke="#222" stroke-width="0.22" >10</text>
<path d="M1027.5,1150.5 V1155" stroke="#222" stroke-width="1.2"/>
<text x="1027.5" y="1171.5" font-size="18.5" text-anchor="middle" fill="#222" stroke="#222" stroke-width="0.22" >20</text>
<path d="M1076.0,1150.5 V1155" stroke="#222" stroke-width="1.2"/>
<text x="1076.0" y="1171.5" font-size="18.5" text-anchor="middle" fill="#222" stroke="#222" stroke-width="0.22" >30</text>
<path d="M904.8,1093.7 Q930.5,1104.6 956.2,1093.7 L934.1,1093.0 L931.7,1050.7 L929.3,1050.7 L926.9,1093.0 z" fill="#c4c4c4"/>
<path d="M906.1,1094.5 L905.6,1093.5 L904.2,1091.0 L903.1,1088.5 L900.9,1083.4 L901.6,1078.4 L902.3,1073.4 L905.6,1068.3 L908.9,1063.3 L910.3,1055.8 L912.2,1045.7 L911.9,1033.1 L911.7,1020.5 L912.9,1008.0 L913.6,1000.4 L915.4,990.4 L917.6,980.3 L919.4,965.2 L920.9,952.6 L922.4,940.1 L923.2,932.5 L924.3,920.0 L926.1,894.8 L926.9,894.8 L926.9,920.0 L926.9,932.5 L926.9,940.1 L926.9,952.6 L926.9,965.2 L926.9,980.3 L926.9,990.4 L926.9,1000.4 L926.9,1008.0 L926.9,1020.5 L926.9,1033.1 L926.9,1045.7 L926.9,1055.8 L926.9,1063.3 L926.9,1068.3 L926.9,1073.4 L926.9,1078.4 L926.9,1083.4 L926.9,1088.5 L926.9,1091.0 L926.9,1093.5 L926.9,1094.5 z" fill="#234f9c"/>
<path d="M952.4,1094.5 L952.8,1093.5 L954.0,1091.0 L954.8,1088.5 L956.4,1083.4 L954.3,1078.4 L952.1,1073.4 L950.0,1068.3 L947.9,1063.3 L947.1,1055.8 L946.0,1045.7 L945.1,1033.1 L944.1,1020.5 L943.9,1008.0 L943.8,1000.4 L943.6,990.4 L943.1,980.3 L941.1,965.2 L939.2,952.6 L937.6,940.1 L936.8,932.5 L935.5,920.0 L934.9,909.9 L934.1,909.9 L934.1,920.0 L934.1,932.5 L934.1,940.1 L934.1,952.6 L934.1,965.2 L934.1,980.3 L934.1,990.4 L934.1,1000.4 L934.1,1008.0 L934.1,1020.5 L934.1,1033.1 L934.1,1045.7 L934.1,1055.8 L934.1,1063.3 L934.1,1068.3 L934.1,1073.4 L934.1,1078.4 L934.1,1083.4 L934.1,1088.5 L934.1,1091.0 L934.1,1093.5 L934.1,1094.5 z" fill="#dc3028"/>
<g fill="#234f9c"><circle cx="911.6" cy="983.2" r="1.55"/><circle cx="911.9" cy="926.2" r="1.55"/><circle cx="911.1" cy="945.5" r="1.55"/><circle cx="920.0" cy="869.6" r="1.55"/><circle cx="925.4" cy="886.5" r="1.55"/><circle cx="912.2" cy="1025.6" r="1.55"/><circle cx="909.6" cy="1006.1" r="1.55"/><circle cx="893.0" cy="1065.6" r="1.55"/><circle cx="919.6" cy="936.6" r="1.55"/><circle cx="920.0" cy="925.5" r="1.55"/><circle cx="917.3" cy="984.8" r="1.55"/><circle cx="902.8" cy="1076.6" r="1.55"/><circle cx="917.8" cy="853.6" r="1.55"/><circle cx="893.3" cy="1063.9" r="1.55"/><circle cx="907.5" cy="1007.3" r="1.55"/><circle cx="909.2" cy="961.9" r="1.55"/><circle cx="923.5" cy="889.3" r="1.55"/><circle cx="912.3" cy="1050.1" r="1.55"/><circle cx="903.4" cy="1084.6" r="1.55"/><circle cx="904.3" cy="1061.7" r="1.55"/><circle cx="910.3" cy="1054.8" r="1.55"/><circle cx="921.4" cy="917.7" r="1.55"/><circle cx="907.2" cy="1059.1" r="1.55"/><circle cx="919.0" cy="957.4" r="1.55"/><circle cx="926.4" cy="856.7" r="1.55"/><circle cx="912.7" cy="942.2" r="1.55"/><circle cx="907.6" cy="1049.1" r="1.55"/><circle cx="907.5" cy="1093.9" r="1.55"/><circle cx="916.9" cy="875.2" r="1.55"/><circle cx="910.1" cy="1053.5" r="1.55"/><circle cx="904.9" cy="1011.2" r="1.55"/><circle cx="913.3" cy="925.5" r="1.55"/><circle cx="907.1" cy="986.8" r="1.55"/><circle cx="897.9" cy="1054.4" r="1.55"/><circle cx="912.9" cy="1005.7" r="1.55"/><circle cx="910.6" cy="1058.9" r="1.55"/><circle cx="905.5" cy="1090.7" r="1.55"/><circle cx="908.5" cy="962.4" r="1.55"/><circle cx="903.0" cy="1082.8" r="1.55"/><circle cx="921.3" cy="851.8" r="1.55"/><circle cx="912.5" cy="1040.5" r="1.55"/><circle cx="907.7" cy="991.8" r="1.55"/><circle cx="910.4" cy="1028.9" r="1.55"/><circle cx="925.2" cy="910.4" r="1.55"/><circle cx="910.4" cy="948.3" r="1.55"/><circle cx="911.4" cy="980.9" r="1.55"/><circle cx="906.8" cy="1062.9" r="1.55"/><circle cx="918.1" cy="846.6" r="1.55"/><circle cx="922.0" cy="856.3" r="1.55"/><circle cx="904.8" cy="1020.8" r="1.55"/><circle cx="911.8" cy="1023.1" r="1.55"/><circle cx="913.1" cy="1041.0" r="1.55"/><circle cx="898.3" cy="1046.8" r="1.55"/><circle cx="920.2" cy="862.9" r="1.55"/><circle cx="911.5" cy="1017.9" r="1.55"/><circle cx="904.0" cy="1089.9" r="1.55"/><circle cx="913.1" cy="930.9" r="1.55"/><circle cx="902.9" cy="1050.1" r="1.55"/><circle cx="915.5" cy="933.4" r="1.55"/><circle cx="912.5" cy="970.5" r="1.55"/><circle cx="905.0" cy="1049.7" r="1.55"/><circle cx="904.7" cy="1065.4" r="1.55"/><circle cx="915.4" cy="935.2" r="1.55"/><circle cx="894.5" cy="1063.1" r="1.55"/><circle cx="914.8" cy="975.0" r="1.55"/><circle cx="896.3" cy="1070.4" r="1.55"/><circle cx="902.9" cy="1027.1" r="1.55"/><circle cx="911.6" cy="975.7" r="1.55"/><circle cx="905.5" cy="1052.8" r="1.55"/><circle cx="912.7" cy="946.2" r="1.55"/><circle cx="900.8" cy="1052.4" r="1.55"/><circle cx="919.4" cy="898.5" r="1.55"/><circle cx="917.0" cy="856.2" r="1.55"/><circle cx="909.5" cy="1013.0" r="1.55"/><circle cx="921.7" cy="872.0" r="1.55"/><circle cx="913.5" cy="961.7" r="1.55"/><circle cx="919.0" cy="948.8" r="1.55"/><circle cx="916.9" cy="931.5" r="1.55"/><circle cx="916.7" cy="970.0" r="1.55"/><circle cx="911.1" cy="982.9" r="1.55"/><circle cx="912.7" cy="978.9" r="1.55"/><circle cx="906.8" cy="1093.4" r="1.55"/><circle cx="906.8" cy="1032.4" r="1.55"/><circle cx="893.0" cy="1075.2" r="1.55"/><circle cx="918.2" cy="980.8" r="1.55"/><circle cx="912.3" cy="1025.0" r="1.55"/><circle cx="906.3" cy="1092.2" r="1.55"/><circle cx="910.6" cy="1058.8" r="1.55"/><circle cx="903.6" cy="1078.8" r="1.55"/><circle cx="910.9" cy="1026.5" r="1.55"/><circle cx="913.1" cy="986.5" r="1.55"/><circle cx="905.7" cy="1065.8" r="1.55"/><circle cx="913.1" cy="1047.5" r="1.55"/><circle cx="917.2" cy="986.0" r="1.55"/><circle cx="912.7" cy="1005.7" r="1.55"/><circle cx="903.5" cy="995.6" r="1.55"/><circle cx="922.1" cy="917.7" r="1.55"/><circle cx="919.6" cy="919.8" r="1.55"/><circle cx="912.7" cy="1048.4" r="1.55"/><circle cx="912.4" cy="991.2" r="1.55"/><circle cx="916.8" cy="864.0" r="1.55"/><circle cx="915.6" cy="987.5" r="1.55"/><circle cx="926.6" cy="889.4" r="1.55"/><circle cx="917.1" cy="985.5" r="1.55"/><circle cx="909.4" cy="981.2" r="1.55"/><circle cx="910.4" cy="1047.1" r="1.55"/><circle cx="902.2" cy="1074.2" r="1.55"/><circle cx="922.8" cy="857.7" r="1.55"/><circle cx="917.3" cy="862.4" r="1.55"/><circle cx="915.5" cy="991.3" r="1.55"/><circle cx="921.6" cy="854.2" r="1.55"/><circle cx="911.8" cy="1038.3" r="1.55"/><circle cx="921.7" cy="852.8" r="1.55"/><circle cx="905.5" cy="1064.4" r="1.55"/><circle cx="911.9" cy="1031.8" r="1.55"/><circle cx="913.7" cy="931.0" r="1.55"/><circle cx="891.3" cy="1066.6" r="1.55"/><circle cx="919.5" cy="930.9" r="1.55"/><circle cx="907.3" cy="1067.6" r="1.55"/><circle cx="923.7" cy="850.9" r="1.55"/><circle cx="914.3" cy="987.7" r="1.55"/><circle cx="914.5" cy="976.5" r="1.55"/><circle cx="919.4" cy="944.3" r="1.55"/><circle cx="918.9" cy="938.5" r="1.55"/><circle cx="912.4" cy="1008.9" r="1.55"/><circle cx="905.6" cy="1062.6" r="1.55"/><circle cx="911.1" cy="1026.8" r="1.55"/><circle cx="916.1" cy="943.8" r="1.55"/><circle cx="900.3" cy="1028.9" r="1.55"/><circle cx="920.9" cy="891.6" r="1.55"/><circle cx="908.2" cy="1035.5" r="1.55"/><circle cx="915.0" cy="956.2" r="1.55"/><circle cx="900.2" cy="1022.4" r="1.55"/><circle cx="911.1" cy="1045.0" r="1.55"/><circle cx="924.5" cy="905.3" r="1.55"/><circle cx="898.3" cy="1062.6" r="1.55"/><circle cx="917.0" cy="960.7" r="1.55"/><circle cx="898.5" cy="1064.4" r="1.55"/><circle cx="925.1" cy="882.7" r="1.55"/><circle cx="908.4" cy="1023.3" r="1.55"/><circle cx="911.6" cy="1018.3" r="1.55"/><circle cx="920.2" cy="920.2" r="1.55"/><circle cx="916.0" cy="927.4" r="1.55"/><circle cx="916.5" cy="855.2" r="1.55"/><circle cx="918.9" cy="958.5" r="1.55"/><circle cx="924.3" cy="909.0" r="1.55"/><circle cx="908.7" cy="976.2" r="1.55"/><circle cx="918.9" cy="954.8" r="1.55"/><circle cx="895.3" cy="1063.3" r="1.55"/><circle cx="913.0" cy="1038.7" r="1.55"/><circle cx="917.7" cy="983.4" r="1.55"/><circle cx="906.1" cy="1091.2" r="1.55"/><circle cx="907.9" cy="997.2" r="1.55"/><circle cx="925.2" cy="895.2" r="1.55"/><circle cx="911.8" cy="1034.6" r="1.55"/><circle cx="913.6" cy="990.0" r="1.55"/><circle cx="922.8" cy="871.6" r="1.55"/><circle cx="900.8" cy="1016.2" r="1.55"/><circle cx="909.1" cy="1003.0" r="1.55"/><circle cx="901.1" cy="1068.4" r="1.55"/><circle cx="894.4" cy="1069.8" r="1.55"/><circle cx="913.4" cy="1013.3" r="1.55"/><circle cx="901.4" cy="1073.0" r="1.55"/><circle cx="919.1" cy="946.6" r="1.55"/><circle cx="914.7" cy="954.5" r="1.55"/><circle cx="905.2" cy="1089.8" r="1.55"/><circle cx="915.6" cy="991.8" r="1.55"/><circle cx="921.6" cy="895.8" r="1.55"/><circle cx="900.6" cy="1057.7" r="1.55"/><circle cx="906.3" cy="1092.3" r="1.55"/><circle cx="919.7" cy="866.1" r="1.55"/><circle cx="903.8" cy="1074.7" r="1.55"/><circle cx="919.9" cy="857.6" r="1.55"/><circle cx="925.1" cy="917.0" r="1.55"/><circle cx="916.5" cy="982.6" r="1.55"/><circle cx="902.1" cy="1072.9" r="1.55"/><circle cx="915.9" cy="986.0" r="1.55"/><circle cx="913.2" cy="1044.9" r="1.55"/><circle cx="919.6" cy="913.1" r="1.55"/><circle cx="918.5" cy="922.8" r="1.55"/><circle cx="921.1" cy="905.5" r="1.55"/><circle cx="912.0" cy="992.2" r="1.55"/><circle cx="917.9" cy="945.5" r="1.55"/><circle cx="905.4" cy="1089.3" r="1.55"/><circle cx="903.7" cy="1077.6" r="1.55"/><circle cx="921.6" cy="891.1" r="1.55"/><circle cx="919.8" cy="938.5" r="1.55"/><circle cx="900.9" cy="1025.3" r="1.55"/><circle cx="915.5" cy="984.2" r="1.55"/><circle cx="913.0" cy="1026.4" r="1.55"/><circle cx="902.5" cy="1083.6" r="1.55"/><circle cx="910.9" cy="1047.3" r="1.55"/><circle cx="925.0" cy="894.5" r="1.55"/><circle cx="904.8" cy="1069.9" r="1.55"/><circle cx="901.1" cy="1082.8" r="1.55"/><circle cx="899.3" cy="1072.8" r="1.55"/><circle cx="899.3" cy="1048.5" r="1.55"/><circle cx="914.1" cy="962.9" r="1.55"/><circle cx="899.3" cy="1024.9" r="1.55"/><circle cx="902.1" cy="1063.6" r="1.55"/><circle cx="919.0" cy="949.1" r="1.55"/><circle cx="903.7" cy="1077.8" r="1.55"/><circle cx="904.1" cy="1073.6" r="1.55"/><circle cx="899.0" cy="1041.6" r="1.55"/><circle cx="911.3" cy="1049.5" r="1.55"/><circle cx="911.9" cy="1025.8" r="1.55"/><circle cx="914.2" cy="948.1" r="1.55"/><circle cx="901.7" cy="1082.6" r="1.55"/><circle cx="909.4" cy="967.9" r="1.55"/><circle cx="916.4" cy="976.2" r="1.55"/><circle cx="926.6" cy="856.5" r="1.55"/><circle cx="913.3" cy="1039.5" r="1.55"/><circle cx="900.4" cy="1004.8" r="1.55"/><circle cx="911.9" cy="1012.8" r="1.55"/><circle cx="905.4" cy="1089.6" r="1.55"/><circle cx="921.5" cy="887.4" r="1.55"/><circle cx="926.1" cy="872.7" r="1.55"/><circle cx="905.4" cy="1071.6" r="1.55"/><circle cx="913.4" cy="1042.4" r="1.55"/><circle cx="903.0" cy="1069.6" r="1.55"/><circle cx="910.8" cy="1060.9" r="1.55"/><circle cx="897.1" cy="1080.6" r="1.55"/><circle cx="909.1" cy="1041.3" r="1.55"/><circle cx="920.4" cy="878.5" r="1.55"/><circle cx="924.4" cy="903.5" r="1.55"/><circle cx="908.0" cy="1021.2" r="1.55"/><circle cx="907.3" cy="1046.9" r="1.55"/><circle cx="910.9" cy="950.4" r="1.55"/><circle cx="907.4" cy="1060.6" r="1.55"/><circle cx="924.2" cy="914.8" r="1.55"/><circle cx="902.5" cy="1087.7" r="1.55"/><circle cx="923.2" cy="917.4" r="1.55"/><circle cx="904.0" cy="1086.3" r="1.55"/><circle cx="905.4" cy="1071.3" r="1.55"/><circle cx="908.2" cy="1035.3" r="1.55"/><circle cx="905.5" cy="1071.3" r="1.55"/><circle cx="918.9" cy="958.7" r="1.55"/><circle cx="901.8" cy="1077.9" r="1.55"/><circle cx="913.0" cy="1047.5" r="1.55"/><circle cx="911.8" cy="1037.2" r="1.55"/><circle cx="916.7" cy="941.3" r="1.55"/><circle cx="919.8" cy="888.4" r="1.55"/><circle cx="916.6" cy="938.7" r="1.55"/><circle cx="903.0" cy="1032.1" r="1.55"/><circle cx="908.8" cy="973.2" r="1.55"/><circle cx="914.4" cy="949.6" r="1.55"/><circle cx="894.5" cy="1067.6" r="1.55"/><circle cx="913.2" cy="1045.7" r="1.55"/><circle cx="905.7" cy="1091.6" r="1.55"/><circle cx="897.9" cy="1068.5" r="1.55"/><circle cx="909.6" cy="1064.6" r="1.55"/><circle cx="916.9" cy="937.3" r="1.55"/><circle cx="907.3" cy="1093.4" r="1.55"/><circle cx="901.2" cy="1086.3" r="1.55"/><circle cx="916.6" cy="902.4" r="1.55"/><circle cx="916.6" cy="986.5" r="1.55"/><circle cx="911.3" cy="1035.2" r="1.55"/><circle cx="911.6" cy="1056.3" r="1.55"/><circle cx="906.9" cy="994.6" r="1.55"/><circle cx="919.2" cy="950.0" r="1.55"/><circle cx="913.5" cy="1009.7" r="1.55"/><circle cx="917.0" cy="955.8" r="1.55"/><circle cx="918.5" cy="871.6" r="1.55"/><circle cx="902.3" cy="1087.4" r="1.55"/><circle cx="921.8" cy="881.0" r="1.55"/><circle cx="910.3" cy="1034.0" r="1.55"/><circle cx="911.6" cy="936.0" r="1.55"/><circle cx="900.3" cy="1009.1" r="1.55"/><circle cx="916.3" cy="991.2" r="1.55"/><circle cx="922.0" cy="919.3" r="1.55"/><circle cx="901.0" cy="1022.3" r="1.55"/><circle cx="912.7" cy="1043.4" r="1.55"/><circle cx="908.0" cy="1066.0" r="1.55"/><circle cx="913.0" cy="1000.9" r="1.55"/><circle cx="919.1" cy="941.7" r="1.55"/><circle cx="911.4" cy="1052.0" r="1.55"/><circle cx="918.1" cy="853.6" r="1.55"/><circle cx="920.1" cy="906.1" r="1.55"/><circle cx="913.1" cy="1041.6" r="1.55"/><circle cx="921.3" cy="912.9" r="1.55"/><circle cx="906.5" cy="1093.0" r="1.55"/><circle cx="924.5" cy="886.8" r="1.55"/><circle cx="919.2" cy="925.5" r="1.55"/><circle cx="911.0" cy="964.5" r="1.55"/><circle cx="910.5" cy="983.1" r="1.55"/><circle cx="913.3" cy="1046.9" r="1.55"/><circle cx="908.4" cy="1014.7" r="1.55"/><circle cx="899.8" cy="1080.0" r="1.55"/><circle cx="911.2" cy="1058.8" r="1.55"/><circle cx="908.5" cy="1059.8" r="1.55"/><circle cx="905.4" cy="1023.8" r="1.55"/><circle cx="898.8" cy="1042.0" r="1.55"/><circle cx="916.5" cy="918.8" r="1.55"/><circle cx="914.2" cy="961.2" r="1.55"/><circle cx="904.8" cy="1008.0" r="1.55"/><circle cx="907.2" cy="1049.8" r="1.55"/><circle cx="915.9" cy="965.6" r="1.55"/><circle cx="909.4" cy="1064.8" r="1.55"/><circle cx="908.0" cy="995.7" r="1.55"/><circle cx="918.2" cy="954.1" r="1.55"/><circle cx="923.8" cy="875.3" r="1.55"/><circle cx="919.1" cy="953.6" r="1.55"/><circle cx="915.3" cy="940.9" r="1.55"/><circle cx="917.5" cy="864.1" r="1.55"/><circle cx="911.5" cy="962.9" r="1.55"/><circle cx="915.8" cy="946.0" r="1.55"/><circle cx="897.6" cy="1076.7" r="1.55"/><circle cx="924.1" cy="888.4" r="1.55"/><circle cx="921.1" cy="856.8" r="1.55"/><circle cx="913.4" cy="1043.3" r="1.55"/><circle cx="913.0" cy="1044.0" r="1.55"/><circle cx="909.8" cy="973.9" r="1.55"/><circle cx="920.3" cy="882.9" r="1.55"/><circle cx="913.3" cy="1044.7" r="1.55"/><circle cx="915.7" cy="962.6" r="1.55"/><circle cx="917.7" cy="953.8" r="1.55"/><circle cx="924.4" cy="892.0" r="1.55"/><circle cx="909.6" cy="1061.0" r="1.55"/><circle cx="908.6" cy="983.4" r="1.55"/><circle cx="919.4" cy="936.4" r="1.55"/><circle cx="917.2" cy="913.4" r="1.55"/><circle cx="917.6" cy="949.6" r="1.55"/><circle cx="909.0" cy="1036.1" r="1.55"/><circle cx="923.5" cy="885.0" r="1.55"/><circle cx="902.2" cy="1065.4" r="1.55"/><circle cx="924.7" cy="860.2" r="1.55"/><circle cx="907.0" cy="1093.3" r="1.55"/><circle cx="909.7" cy="1000.8" r="1.55"/><circle cx="902.6" cy="1080.1" r="1.55"/><circle cx="911.0" cy="991.6" r="1.55"/><circle cx="913.4" cy="962.1" r="1.55"/><circle cx="916.3" cy="911.8" r="1.55"/><circle cx="898.9" cy="1058.6" r="1.55"/><circle cx="909.2" cy="976.4" r="1.55"/><circle cx="892.9" cy="1073.8" r="1.55"/><circle cx="921.5" cy="909.5" r="1.55"/><circle cx="904.4" cy="1089.0" r="1.55"/><circle cx="902.8" cy="1083.4" r="1.55"/><circle cx="912.8" cy="946.8" r="1.55"/><circle cx="915.5" cy="923.1" r="1.55"/><circle cx="916.7" cy="877.4" r="1.55"/><circle cx="907.5" cy="982.5" r="1.55"/><circle cx="904.9" cy="1088.8" r="1.55"/><circle cx="905.5" cy="1091.6" r="1.55"/><circle cx="910.0" cy="1047.4" r="1.55"/><circle cx="913.0" cy="965.2" r="1.55"/><circle cx="912.3" cy="1006.1" r="1.55"/><circle cx="906.0" cy="1047.4" r="1.55"/><circle cx="898.9" cy="1018.9" r="1.55"/><circle cx="925.9" cy="869.0" r="1.55"/><circle cx="914.8" cy="938.7" r="1.55"/><circle cx="910.3" cy="1062.7" r="1.55"/><circle cx="911.1" cy="1023.1" r="1.55"/><circle cx="911.1" cy="946.4" r="1.55"/><circle cx="912.2" cy="1045.7" r="1.55"/><circle cx="905.8" cy="1018.1" r="1.55"/><circle cx="917.0" cy="928.4" r="1.55"/><circle cx="908.5" cy="1062.7" r="1.55"/><circle cx="921.1" cy="906.8" r="1.55"/><circle cx="894.8" cy="1072.4" r="1.55"/><circle cx="904.5" cy="1091.1" r="1.55"/><circle cx="921.2" cy="852.7" r="1.55"/><circle cx="900.3" cy="1044.8" r="1.55"/><circle cx="920.2" cy="920.6" r="1.55"/><circle cx="918.6" cy="936.6" r="1.55"/><circle cx="910.9" cy="1028.2" r="1.55"/><circle cx="913.6" cy="1013.3" r="1.55"/><circle cx="909.8" cy="1032.0" r="1.55"/><circle cx="904.0" cy="1090.2" r="1.55"/><circle cx="919.6" cy="865.0" r="1.55"/><circle cx="913.4" cy="1015.7" r="1.55"/><circle cx="904.2" cy="1043.4" r="1.55"/><circle cx="907.9" cy="1033.9" r="1.55"/><circle cx="919.9" cy="886.0" r="1.55"/><circle cx="918.3" cy="979.3" r="1.55"/><circle cx="901.7" cy="1038.8" r="1.55"/><circle cx="916.7" cy="915.1" r="1.55"/><circle cx="898.1" cy="1046.5" r="1.55"/><circle cx="912.1" cy="939.9" r="1.55"/><circle cx="898.9" cy="1036.8" r="1.55"/><circle cx="924.4" cy="848.7" r="1.55"/><circle cx="912.2" cy="1037.0" r="1.55"/><circle cx="911.9" cy="1025.4" r="1.55"/><circle cx="918.5" cy="969.7" r="1.55"/><circle cx="898.1" cy="1081.9" r="1.55"/><circle cx="917.4" cy="887.9" r="1.55"/><circle cx="903.6" cy="1078.4" r="1.55"/><circle cx="916.3" cy="914.1" r="1.55"/><circle cx="916.3" cy="990.4" r="1.55"/><circle cx="926.3" cy="872.0" r="1.55"/><circle cx="899.0" cy="1079.9" r="1.55"/><circle cx="896.2" cy="1067.8" r="1.55"/><circle cx="903.9" cy="1047.7" r="1.55"/><circle cx="919.5" cy="856.7" r="1.55"/><circle cx="905.3" cy="1089.9" r="1.55"/><circle cx="916.9" cy="976.9" r="1.55"/><circle cx="909.4" cy="1048.6" r="1.55"/><circle cx="903.4" cy="995.4" r="1.55"/><circle cx="897.9" cy="1072.0" r="1.55"/><circle cx="901.2" cy="1068.4" r="1.55"/><circle cx="919.2" cy="948.4" r="1.55"/><circle cx="905.4" cy="1022.6" r="1.55"/><circle cx="909.5" cy="1037.6" r="1.55"/><circle cx="909.7" cy="986.9" r="1.55"/><circle cx="912.2" cy="1053.3" r="1.55"/><circle cx="907.0" cy="1062.4" r="1.55"/><circle cx="909.4" cy="973.4" r="1.55"/><circle cx="908.7" cy="1048.2" r="1.55"/><circle cx="910.2" cy="954.5" r="1.55"/><circle cx="916.5" cy="867.1" r="1.55"/><circle cx="910.2" cy="1061.7" r="1.55"/><circle cx="925.8" cy="874.3" r="1.55"/><circle cx="904.9" cy="1030.6" r="1.55"/><circle cx="911.7" cy="1010.1" r="1.55"/><circle cx="923.5" cy="877.2" r="1.55"/><circle cx="904.7" cy="1003.9" r="1.55"/><circle cx="900.9" cy="1085.4" r="1.55"/><circle cx="908.2" cy="1019.2" r="1.55"/><circle cx="899.0" cy="1076.9" r="1.55"/><circle cx="906.4" cy="1091.9" r="1.55"/><circle cx="907.3" cy="1094.0" r="1.6"/><circle cx="907.0" cy="1093.4" r="1.6"/><circle cx="905.9" cy="1092.9" r="1.6"/><circle cx="906.0" cy="1092.3" r="1.6"/><circle cx="905.6" cy="1091.7" r="1.6"/><circle cx="904.7" cy="1091.2" r="1.6"/><circle cx="904.3" cy="1090.6" r="1.6"/><circle cx="904.2" cy="1090.0" r="1.6"/><circle cx="903.3" cy="1089.4" r="1.6"/><circle cx="903.1" cy="1088.9" r="1.6"/><circle cx="902.8" cy="1088.3" r="1.6"/><circle cx="902.2" cy="1087.7" r="1.6"/><circle cx="902.1" cy="1087.2" r="1.6"/><circle cx="901.6" cy="1086.6" r="1.6"/><circle cx="900.6" cy="1086.0" r="1.6"/><circle cx="900.6" cy="1085.5" r="1.6"/><circle cx="899.7" cy="1084.9" r="1.6"/><circle cx="899.9" cy="1084.3" r="1.6"/><circle cx="899.5" cy="1083.8" r="1.6"/><circle cx="899.2" cy="1083.2" r="1.6"/><circle cx="898.1" cy="1082.6" r="1.6"/><circle cx="897.8" cy="1082.1" r="1.6"/><circle cx="897.9" cy="1081.5" r="1.6"/><circle cx="897.4" cy="1080.9" r="1.6"/><circle cx="896.2" cy="1080.4" r="1.6"/><circle cx="896.1" cy="1079.8" r="1.6"/><circle cx="895.3" cy="1079.2" r="1.6"/><circle cx="895.7" cy="1078.7" r="1.6"/><circle cx="894.7" cy="1078.1" r="1.6"/><circle cx="894.8" cy="1077.5" r="1.6"/><circle cx="893.6" cy="1077.0" r="1.6"/><circle cx="893.3" cy="1076.4" r="1.6"/><circle cx="892.9" cy="1075.8" r="1.6"/><circle cx="892.9" cy="1075.3" r="1.6"/><circle cx="891.6" cy="1074.7" r="1.6"/><circle cx="892.1" cy="1074.1" r="1.6"/><circle cx="891.8" cy="1073.6" r="1.6"/><circle cx="890.6" cy="1073.0" r="1.6"/><circle cx="890.9" cy="1072.4" r="1.6"/><circle cx="890.4" cy="1071.9" r="1.6"/></g>
<g fill="#dc3028"><circle cx="948.6" cy="1027.7" r="1.55"/><circle cx="941.5" cy="890.0" r="1.55"/><circle cx="935.6" cy="908.4" r="1.55"/><circle cx="941.5" cy="940.5" r="1.55"/><circle cx="946.5" cy="1062.2" r="1.55"/><circle cx="943.3" cy="939.2" r="1.55"/><circle cx="938.9" cy="886.1" r="1.55"/><circle cx="955.5" cy="1083.5" r="1.55"/><circle cx="963.1" cy="1068.3" r="1.55"/><circle cx="952.2" cy="1077.2" r="1.55"/><circle cx="945.6" cy="1051.9" r="1.55"/><circle cx="949.0" cy="1036.1" r="1.55"/><circle cx="942.7" cy="974.7" r="1.55"/><circle cx="959.0" cy="1085.4" r="1.55"/><circle cx="943.9" cy="963.1" r="1.55"/><circle cx="951.8" cy="997.8" r="1.55"/><circle cx="955.7" cy="1084.7" r="1.55"/><circle cx="946.4" cy="1019.4" r="1.55"/><circle cx="939.8" cy="886.8" r="1.55"/><circle cx="944.1" cy="971.0" r="1.55"/><circle cx="946.9" cy="930.1" r="1.55"/><circle cx="946.8" cy="1063.1" r="1.55"/><circle cx="951.0" cy="1069.0" r="1.55"/><circle cx="937.0" cy="890.9" r="1.55"/><circle cx="946.8" cy="981.2" r="1.55"/><circle cx="935.5" cy="864.4" r="1.55"/><circle cx="941.8" cy="935.2" r="1.55"/><circle cx="940.2" cy="908.2" r="1.55"/><circle cx="950.0" cy="1045.3" r="1.55"/><circle cx="941.9" cy="950.9" r="1.55"/><circle cx="945.9" cy="1039.9" r="1.55"/><circle cx="952.9" cy="1089.4" r="1.55"/><circle cx="943.0" cy="953.3" r="1.55"/><circle cx="935.0" cy="898.6" r="1.55"/><circle cx="947.0" cy="1061.7" r="1.55"/><circle cx="942.0" cy="869.6" r="1.55"/><circle cx="939.3" cy="888.3" r="1.55"/><circle cx="956.4" cy="1088.7" r="1.55"/><circle cx="950.9" cy="1074.2" r="1.55"/><circle cx="943.7" cy="1000.1" r="1.55"/><circle cx="943.5" cy="873.7" r="1.55"/><circle cx="943.7" cy="1026.3" r="1.55"/><circle cx="940.9" cy="935.6" r="1.55"/><circle cx="943.0" cy="1007.8" r="1.55"/><circle cx="939.5" cy="851.6" r="1.55"/><circle cx="944.9" cy="1033.2" r="1.55"/><circle cx="953.3" cy="1004.1" r="1.55"/><circle cx="944.7" cy="1035.5" r="1.55"/><circle cx="952.4" cy="1013.9" r="1.55"/><circle cx="950.1" cy="1045.8" r="1.55"/><circle cx="937.5" cy="879.5" r="1.55"/><circle cx="942.9" cy="920.5" r="1.55"/><circle cx="954.0" cy="1085.3" r="1.55"/><circle cx="938.9" cy="871.4" r="1.55"/><circle cx="954.0" cy="1031.9" r="1.55"/><circle cx="945.5" cy="997.6" r="1.55"/><circle cx="955.5" cy="1064.8" r="1.55"/><circle cx="952.7" cy="1069.5" r="1.55"/><circle cx="944.2" cy="939.1" r="1.55"/><circle cx="954.7" cy="1085.8" r="1.55"/><circle cx="947.1" cy="960.5" r="1.55"/><circle cx="954.4" cy="1085.9" r="1.55"/><circle cx="956.6" cy="1089.9" r="1.55"/><circle cx="950.4" cy="984.2" r="1.55"/><circle cx="951.5" cy="1070.2" r="1.55"/><circle cx="950.6" cy="1055.1" r="1.55"/><circle cx="945.0" cy="978.3" r="1.55"/><circle cx="943.5" cy="897.1" r="1.55"/><circle cx="949.1" cy="1065.2" r="1.55"/><circle cx="935.7" cy="895.8" r="1.55"/><circle cx="946.4" cy="1037.3" r="1.55"/><circle cx="935.6" cy="856.1" r="1.55"/><circle cx="948.4" cy="973.3" r="1.55"/><circle cx="941.2" cy="949.5" r="1.55"/><circle cx="937.4" cy="869.5" r="1.55"/><circle cx="941.0" cy="904.9" r="1.55"/><circle cx="952.9" cy="1037.1" r="1.55"/><circle cx="943.3" cy="966.7" r="1.55"/><circle cx="943.6" cy="948.3" r="1.55"/><circle cx="945.2" cy="955.1" r="1.55"/><circle cx="940.8" cy="925.9" r="1.55"/><circle cx="943.1" cy="1019.2" r="1.55"/><circle cx="945.9" cy="927.8" r="1.55"/><circle cx="934.8" cy="910.9" r="1.55"/><circle cx="945.5" cy="1008.4" r="1.55"/><circle cx="954.2" cy="1087.3" r="1.55"/><circle cx="942.5" cy="857.0" r="1.55"/><circle cx="962.2" cy="1072.4" r="1.55"/><circle cx="943.9" cy="974.6" r="1.55"/><circle cx="942.9" cy="976.5" r="1.55"/><circle cx="947.9" cy="1066.6" r="1.55"/><circle cx="945.9" cy="972.8" r="1.55"/><circle cx="943.3" cy="944.3" r="1.55"/><circle cx="945.2" cy="1033.8" r="1.55"/><circle cx="942.4" cy="947.1" r="1.55"/><circle cx="948.8" cy="991.0" r="1.55"/><circle cx="949.5" cy="1031.6" r="1.55"/><circle cx="953.2" cy="1091.8" r="1.55"/><circle cx="935.9" cy="909.6" r="1.55"/><circle cx="951.8" cy="1092.1" r="1.55"/><circle cx="940.9" cy="936.5" r="1.55"/><circle cx="945.9" cy="1028.3" r="1.55"/><circle cx="942.5" cy="923.4" r="1.55"/><circle cx="943.0" cy="1012.0" r="1.55"/><circle cx="945.8" cy="926.2" r="1.55"/><circle cx="949.9" cy="983.0" r="1.55"/><circle cx="948.1" cy="985.9" r="1.55"/><circle cx="940.5" cy="905.7" r="1.55"/><circle cx="936.3" cy="850.7" r="1.55"/><circle cx="954.3" cy="1091.5" r="1.55"/><circle cx="955.6" cy="1089.0" r="1.55"/><circle cx="953.6" cy="1089.9" r="1.55"/><circle cx="954.4" cy="1094.0" r="1.55"/><circle cx="954.1" cy="1062.0" r="1.55"/><circle cx="945.2" cy="1044.3" r="1.55"/><circle cx="942.9" cy="865.6" r="1.55"/><circle cx="942.4" cy="962.4" r="1.55"/><circle cx="947.1" cy="1041.2" r="1.55"/><circle cx="944.5" cy="1039.9" r="1.55"/><circle cx="950.7" cy="1028.9" r="1.55"/><circle cx="949.2" cy="961.0" r="1.55"/><circle cx="947.9" cy="964.4" r="1.55"/><circle cx="943.5" cy="898.2" r="1.55"/><circle cx="942.1" cy="927.0" r="1.55"/><circle cx="946.9" cy="971.8" r="1.55"/><circle cx="941.4" cy="893.6" r="1.55"/><circle cx="944.4" cy="1031.8" r="1.55"/><circle cx="946.9" cy="1056.9" r="1.55"/><circle cx="948.1" cy="964.8" r="1.55"/><circle cx="958.4" cy="1079.0" r="1.55"/><circle cx="938.1" cy="909.7" r="1.55"/><circle cx="945.6" cy="1049.9" r="1.55"/><circle cx="947.0" cy="1064.1" r="1.55"/><circle cx="958.1" cy="1084.3" r="1.55"/><circle cx="953.0" cy="1088.6" r="1.55"/><circle cx="953.0" cy="1004.3" r="1.55"/><circle cx="937.7" cy="912.0" r="1.55"/><circle cx="935.2" cy="877.2" r="1.55"/><circle cx="954.3" cy="1084.1" r="1.55"/><circle cx="942.9" cy="939.7" r="1.55"/><circle cx="942.3" cy="923.3" r="1.55"/><circle cx="940.3" cy="879.5" r="1.55"/><circle cx="943.3" cy="1007.9" r="1.55"/><circle cx="946.6" cy="1035.8" r="1.55"/><circle cx="936.7" cy="916.2" r="1.55"/><circle cx="956.2" cy="1063.0" r="1.55"/><circle cx="959.5" cy="1075.2" r="1.55"/><circle cx="942.8" cy="991.7" r="1.55"/><circle cx="942.7" cy="948.8" r="1.55"/><circle cx="956.3" cy="1058.2" r="1.55"/><circle cx="941.5" cy="932.0" r="1.55"/><circle cx="942.2" cy="966.1" r="1.55"/><circle cx="943.1" cy="1012.8" r="1.55"/><circle cx="951.3" cy="977.7" r="1.55"/><circle cx="942.5" cy="979.1" r="1.55"/><circle cx="945.5" cy="1014.3" r="1.55"/><circle cx="944.2" cy="1031.9" r="1.55"/><circle cx="950.7" cy="1065.8" r="1.55"/><circle cx="951.3" cy="1071.5" r="1.55"/><circle cx="954.5" cy="1089.8" r="1.55"/><circle cx="937.2" cy="874.6" r="1.55"/><circle cx="955.2" cy="1089.4" r="1.55"/><circle cx="935.2" cy="869.0" r="1.55"/><circle cx="946.3" cy="1053.9" r="1.55"/><circle cx="944.2" cy="964.8" r="1.55"/><circle cx="952.5" cy="1056.7" r="1.55"/><circle cx="952.8" cy="1029.6" r="1.55"/><circle cx="952.9" cy="1092.0" r="1.55"/><circle cx="948.2" cy="1064.6" r="1.55"/><circle cx="939.6" cy="916.5" r="1.55"/><circle cx="949.1" cy="1053.1" r="1.55"/><circle cx="940.1" cy="907.6" r="1.55"/><circle cx="948.9" cy="1029.9" r="1.55"/><circle cx="944.3" cy="985.6" r="1.55"/><circle cx="944.4" cy="1035.8" r="1.55"/><circle cx="953.3" cy="1032.9" r="1.55"/><circle cx="948.3" cy="1060.9" r="1.55"/><circle cx="946.4" cy="989.1" r="1.55"/><circle cx="957.7" cy="1081.1" r="1.55"/><circle cx="941.1" cy="947.6" r="1.55"/><circle cx="935.0" cy="884.8" r="1.55"/><circle cx="953.6" cy="1064.7" r="1.55"/><circle cx="956.6" cy="1082.8" r="1.55"/><circle cx="944.4" cy="961.0" r="1.55"/><circle cx="942.8" cy="904.8" r="1.55"/><circle cx="950.2" cy="984.3" r="1.55"/><circle cx="958.1" cy="1080.9" r="1.55"/><circle cx="951.6" cy="1058.4" r="1.55"/><circle cx="953.2" cy="1048.2" r="1.55"/><circle cx="943.4" cy="869.9" r="1.55"/><circle cx="954.1" cy="1044.0" r="1.55"/><circle cx="935.6" cy="847.5" r="1.55"/><circle cx="945.8" cy="943.0" r="1.55"/><circle cx="944.6" cy="1028.4" r="1.55"/><circle cx="957.2" cy="1081.4" r="1.55"/><circle cx="938.3" cy="874.3" r="1.55"/><circle cx="955.5" cy="1069.7" r="1.55"/><circle cx="948.6" cy="1033.3" r="1.55"/><circle cx="944.7" cy="1029.2" r="1.55"/><circle cx="942.9" cy="972.1" r="1.55"/><circle cx="946.9" cy="1017.9" r="1.55"/><circle cx="952.2" cy="1016.8" r="1.55"/><circle cx="941.5" cy="932.1" r="1.55"/><circle cx="950.9" cy="1054.7" r="1.55"/><circle cx="952.3" cy="1066.7" r="1.55"/><circle cx="952.5" cy="1092.7" r="1.55"/><circle cx="941.8" cy="850.9" r="1.55"/><circle cx="955.0" cy="1075.0" r="1.55"/><circle cx="951.6" cy="1093.3" r="1.55"/><circle cx="947.2" cy="1059.8" r="1.55"/><circle cx="952.3" cy="1091.6" r="1.55"/><circle cx="941.3" cy="848.2" r="1.55"/><circle cx="942.5" cy="878.9" r="1.55"/><circle cx="941.2" cy="930.7" r="1.55"/><circle cx="955.4" cy="1081.9" r="1.55"/><circle cx="952.6" cy="1091.6" r="1.55"/><circle cx="943.7" cy="952.3" r="1.55"/><circle cx="952.8" cy="1093.9" r="1.55"/><circle cx="942.9" cy="906.2" r="1.55"/><circle cx="946.3" cy="949.1" r="1.55"/><circle cx="939.8" cy="882.3" r="1.55"/><circle cx="949.1" cy="1045.5" r="1.55"/><circle cx="947.4" cy="1065.1" r="1.55"/><circle cx="952.3" cy="1068.9" r="1.55"/><circle cx="953.5" cy="1087.2" r="1.55"/><circle cx="951.9" cy="1070.9" r="1.55"/><circle cx="939.0" cy="864.1" r="1.55"/><circle cx="941.9" cy="910.9" r="1.55"/><circle cx="943.8" cy="992.3" r="1.55"/><circle cx="946.0" cy="1043.4" r="1.55"/><circle cx="950.2" cy="979.7" r="1.55"/><circle cx="941.4" cy="927.8" r="1.55"/><circle cx="954.3" cy="1084.2" r="1.55"/><circle cx="943.3" cy="994.6" r="1.55"/><circle cx="952.7" cy="1094.0" r="1.55"/><circle cx="951.5" cy="1073.9" r="1.55"/><circle cx="945.9" cy="970.4" r="1.55"/><circle cx="955.4" cy="1065.2" r="1.55"/><circle cx="946.9" cy="957.3" r="1.55"/><circle cx="951.8" cy="1021.0" r="1.55"/><circle cx="947.6" cy="981.3" r="1.55"/><circle cx="953.1" cy="1090.7" r="1.55"/><circle cx="947.0" cy="1026.4" r="1.55"/><circle cx="948.7" cy="1053.1" r="1.55"/><circle cx="950.8" cy="1012.0" r="1.55"/><circle cx="950.9" cy="1061.6" r="1.55"/><circle cx="947.2" cy="988.4" r="1.55"/><circle cx="947.4" cy="1059.7" r="1.55"/><circle cx="947.7" cy="1025.3" r="1.55"/><circle cx="942.6" cy="976.5" r="1.55"/><circle cx="947.6" cy="1031.2" r="1.55"/><circle cx="952.8" cy="1078.6" r="1.55"/><circle cx="934.6" cy="875.4" r="1.55"/><circle cx="944.1" cy="1018.1" r="1.55"/><circle cx="952.7" cy="1093.3" r="1.55"/><circle cx="957.7" cy="1082.8" r="1.55"/><circle cx="935.2" cy="883.0" r="1.55"/><circle cx="952.0" cy="1052.1" r="1.55"/><circle cx="942.5" cy="982.6" r="1.55"/><circle cx="952.2" cy="1073.8" r="1.55"/><circle cx="938.7" cy="888.9" r="1.55"/><circle cx="952.8" cy="1069.3" r="1.55"/><circle cx="943.5" cy="1021.6" r="1.55"/><circle cx="947.7" cy="969.5" r="1.55"/><circle cx="946.7" cy="1023.5" r="1.55"/><circle cx="949.1" cy="934.9" r="1.55"/><circle cx="942.6" cy="986.2" r="1.55"/><circle cx="948.0" cy="1016.4" r="1.55"/><circle cx="952.4" cy="1056.2" r="1.55"/><circle cx="950.2" cy="1048.7" r="1.55"/><circle cx="947.4" cy="985.8" r="1.55"/><circle cx="941.2" cy="876.8" r="1.55"/><circle cx="946.4" cy="955.8" r="1.55"/><circle cx="957.4" cy="1073.5" r="1.55"/><circle cx="942.6" cy="983.9" r="1.55"/><circle cx="941.3" cy="940.6" r="1.55"/><circle cx="946.2" cy="1019.8" r="1.55"/><circle cx="946.9" cy="951.5" r="1.55"/><circle cx="953.7" cy="1025.8" r="1.55"/><circle cx="947.8" cy="1031.9" r="1.55"/><circle cx="937.4" cy="849.8" r="1.55"/><circle cx="950.4" cy="954.3" r="1.55"/><circle cx="945.4" cy="974.3" r="1.55"/><circle cx="947.2" cy="928.2" r="1.55"/><circle cx="959.2" cy="1084.5" r="1.55"/><circle cx="947.8" cy="985.4" r="1.55"/><circle cx="942.0" cy="863.5" r="1.55"/><circle cx="935.0" cy="914.1" r="1.55"/><circle cx="954.4" cy="1035.8" r="1.55"/><circle cx="941.6" cy="868.5" r="1.55"/><circle cx="954.0" cy="1055.7" r="1.55"/><circle cx="947.9" cy="1009.3" r="1.55"/><circle cx="950.4" cy="978.8" r="1.55"/><circle cx="950.6" cy="954.2" r="1.55"/><circle cx="945.9" cy="1019.4" r="1.55"/><circle cx="945.6" cy="972.6" r="1.55"/><circle cx="949.7" cy="1058.5" r="1.55"/><circle cx="952.2" cy="1092.8" r="1.55"/><circle cx="937.1" cy="875.5" r="1.55"/><circle cx="955.9" cy="1062.2" r="1.55"/><circle cx="957.7" cy="1071.9" r="1.55"/><circle cx="951.6" cy="999.2" r="1.55"/><circle cx="944.6" cy="1023.7" r="1.55"/><circle cx="951.1" cy="1069.1" r="1.55"/><circle cx="951.3" cy="1094.0" r="1.55"/><circle cx="956.4" cy="1084.3" r="1.55"/><circle cx="948.8" cy="935.7" r="1.55"/><circle cx="946.3" cy="1051.5" r="1.55"/><circle cx="952.3" cy="1063.2" r="1.55"/><circle cx="943.5" cy="1023.2" r="1.55"/><circle cx="943.8" cy="1011.5" r="1.55"/><circle cx="956.9" cy="1088.6" r="1.55"/><circle cx="943.5" cy="936.5" r="1.55"/><circle cx="937.5" cy="897.1" r="1.55"/><circle cx="934.8" cy="868.4" r="1.55"/><circle cx="938.5" cy="888.8" r="1.55"/><circle cx="952.2" cy="1094.0" r="1.55"/><circle cx="941.1" cy="851.0" r="1.55"/><circle cx="947.2" cy="946.4" r="1.55"/><circle cx="952.8" cy="1093.9" r="1.55"/><circle cx="953.2" cy="1026.4" r="1.55"/><circle cx="935.8" cy="883.7" r="1.55"/><circle cx="939.6" cy="851.6" r="1.55"/><circle cx="946.5" cy="1061.1" r="1.55"/><circle cx="947.5" cy="1035.8" r="1.55"/><circle cx="944.9" cy="1029.4" r="1.55"/><circle cx="938.9" cy="867.9" r="1.55"/><circle cx="954.9" cy="1060.6" r="1.55"/><circle cx="952.9" cy="1071.4" r="1.55"/><circle cx="954.1" cy="1088.7" r="1.55"/><circle cx="940.2" cy="847.5" r="1.55"/><circle cx="948.0" cy="1011.5" r="1.55"/><circle cx="945.0" cy="967.9" r="1.55"/><circle cx="945.5" cy="1049.0" r="1.55"/><circle cx="951.6" cy="1093.4" r="1.55"/><circle cx="944.6" cy="1040.6" r="1.55"/><circle cx="943.3" cy="967.1" r="1.55"/><circle cx="952.2" cy="1073.1" r="1.55"/><circle cx="943.6" cy="1019.6" r="1.55"/><circle cx="939.2" cy="905.2" r="1.55"/><circle cx="952.3" cy="1091.4" r="1.55"/><circle cx="940.1" cy="890.7" r="1.55"/><circle cx="954.1" cy="1063.6" r="1.55"/><circle cx="940.8" cy="872.4" r="1.55"/><circle cx="955.1" cy="1092.4" r="1.55"/><circle cx="940.4" cy="911.0" r="1.55"/><circle cx="952.9" cy="1076.7" r="1.55"/><circle cx="957.3" cy="1080.4" r="1.55"/><circle cx="943.2" cy="888.6" r="1.55"/><circle cx="950.1" cy="1019.8" r="1.55"/><circle cx="939.2" cy="900.2" r="1.55"/><circle cx="937.3" cy="892.3" r="1.55"/><circle cx="937.4" cy="854.4" r="1.55"/><circle cx="942.5" cy="877.3" r="1.55"/><circle cx="941.4" cy="873.2" r="1.55"/><circle cx="953.8" cy="1091.1" r="1.55"/><circle cx="951.0" cy="973.1" r="1.55"/><circle cx="942.0" cy="965.1" r="1.55"/><circle cx="947.2" cy="1052.9" r="1.55"/><circle cx="954.9" cy="1081.7" r="1.55"/><circle cx="944.6" cy="1013.5" r="1.55"/><circle cx="951.1" cy="1067.7" r="1.55"/><circle cx="940.1" cy="868.1" r="1.55"/><circle cx="948.9" cy="941.4" r="1.55"/><circle cx="953.5" cy="1089.4" r="1.55"/><circle cx="946.3" cy="945.7" r="1.55"/><circle cx="945.0" cy="985.6" r="1.55"/><circle cx="943.1" cy="951.5" r="1.55"/><circle cx="953.6" cy="1078.7" r="1.55"/><circle cx="953.2" cy="1087.9" r="1.55"/><circle cx="943.5" cy="866.1" r="1.55"/><circle cx="947.9" cy="1052.7" r="1.55"/><circle cx="956.9" cy="1065.7" r="1.55"/><circle cx="943.5" cy="1019.7" r="1.55"/><circle cx="943.5" cy="893.0" r="1.55"/><circle cx="958.7" cy="1075.0" r="1.55"/><circle cx="946.6" cy="1050.6" r="1.55"/><circle cx="951.7" cy="1061.6" r="1.55"/><circle cx="945.8" cy="1016.9" r="1.55"/><circle cx="944.3" cy="965.2" r="1.55"/><circle cx="938.6" cy="868.2" r="1.55"/><circle cx="948.3" cy="927.4" r="1.55"/><circle cx="946.2" cy="983.6" r="1.55"/><circle cx="945.1" cy="928.1" r="1.55"/><circle cx="956.1" cy="1078.8" r="1.55"/><circle cx="954.5" cy="1083.4" r="1.55"/><circle cx="943.0" cy="963.0" r="1.55"/><circle cx="949.2" cy="1069.8" r="1.55"/><circle cx="947.9" cy="1050.8" r="1.55"/><circle cx="950.6" cy="966.7" r="1.55"/><circle cx="942.2" cy="958.6" r="1.55"/><circle cx="936.1" cy="850.8" r="1.55"/><circle cx="947.2" cy="995.6" r="1.55"/><circle cx="958.6" cy="1064.2" r="1.55"/><circle cx="948.0" cy="987.1" r="1.55"/><circle cx="952.6" cy="1064.3" r="1.55"/><circle cx="942.0" cy="946.5" r="1.55"/><circle cx="950.2" cy="1068.0" r="1.55"/><circle cx="940.6" cy="855.4" r="1.55"/><circle cx="947.1" cy="1025.0" r="1.55"/><circle cx="943.1" cy="973.1" r="1.55"/><circle cx="952.6" cy="1090.9" r="1.55"/><circle cx="946.6" cy="995.3" r="1.55"/><circle cx="940.3" cy="855.5" r="1.55"/><circle cx="944.2" cy="904.9" r="1.55"/><circle cx="945.1" cy="1018.7" r="1.55"/><circle cx="945.1" cy="1025.1" r="1.55"/><circle cx="943.9" cy="938.6" r="1.55"/><circle cx="949.2" cy="1010.8" r="1.55"/><circle cx="946.7" cy="1005.0" r="1.55"/><circle cx="942.9" cy="997.0" r="1.55"/><circle cx="945.8" cy="1052.5" r="1.55"/><circle cx="942.1" cy="918.9" r="1.55"/><circle cx="942.2" cy="937.3" r="1.55"/><circle cx="959.8" cy="1075.7" r="1.55"/><circle cx="942.5" cy="960.1" r="1.55"/><circle cx="943.7" cy="927.9" r="1.55"/><circle cx="936.5" cy="852.8" r="1.55"/><circle cx="942.9" cy="948.5" r="1.55"/><circle cx="943.7" cy="995.8" r="1.55"/><circle cx="954.0" cy="1094.0" r="1.6"/><circle cx="954.8" cy="1093.2" r="1.6"/><circle cx="955.3" cy="1092.4" r="1.6"/><circle cx="956.1" cy="1091.5" r="1.6"/><circle cx="956.3" cy="1090.7" r="1.6"/><circle cx="956.8" cy="1089.9" r="1.6"/><circle cx="957.4" cy="1089.1" r="1.6"/><circle cx="957.9" cy="1088.3" r="1.6"/><circle cx="958.2" cy="1087.4" r="1.6"/><circle cx="958.6" cy="1086.6" r="1.6"/><circle cx="959.5" cy="1085.8" r="1.6"/><circle cx="959.7" cy="1085.0" r="1.6"/><circle cx="959.9" cy="1084.2" r="1.6"/><circle cx="960.5" cy="1083.3" r="1.6"/><circle cx="961.2" cy="1082.5" r="1.6"/><circle cx="962.0" cy="1081.7" r="1.6"/><circle cx="962.5" cy="1080.9" r="1.6"/><circle cx="962.8" cy="1080.1" r="1.6"/><circle cx="963.7" cy="1079.2" r="1.6"/><circle cx="963.7" cy="1078.4" r="1.6"/><circle cx="964.2" cy="1077.6" r="1.6"/><circle cx="965.1" cy="1076.8" r="1.6"/><circle cx="965.6" cy="1076.0" r="1.6"/><circle cx="965.8" cy="1075.2" r="1.6"/><circle cx="966.8" cy="1074.3" r="1.6"/><circle cx="966.4" cy="1073.5" r="1.6"/><circle cx="967.4" cy="1072.7" r="1.6"/><circle cx="968.3" cy="1071.9" r="1.6"/><circle cx="968.8" cy="1071.1" r="1.6"/><circle cx="968.5" cy="1070.2" r="1.6"/><circle cx="969.8" cy="1069.4" r="1.6"/><circle cx="970.0" cy="1068.6" r="1.6"/><circle cx="971.0" cy="1067.8" r="1.6"/><circle cx="970.7" cy="1067.0" r="1.6"/><circle cx="971.6" cy="1066.1" r="1.6"/><circle cx="972.1" cy="1065.3" r="1.6"/><circle cx="973.1" cy="1064.5" r="1.6"/><circle cx="972.7" cy="1063.7" r="1.6"/><circle cx="973.3" cy="1062.9" r="1.6"/><circle cx="973.5" cy="1062.0" r="1.6"/></g>
<g fill="#234f9c"><circle cx="884.4" cy="935.0" r="1.6"/><circle cx="902.4" cy="955.7" r="1.6"/><circle cx="903.3" cy="963.7" r="1.6"/><circle cx="894.6" cy="992.9" r="1.6"/><circle cx="885.4" cy="1059.5" r="1.6"/><circle cx="886.9" cy="1061.3" r="1.6"/><circle cx="889.3" cy="1017.0" r="1.6"/><circle cx="899.5" cy="997.9" r="1.6"/><circle cx="891.2" cy="1017.0" r="1.6"/><circle cx="895.6" cy="1028.1" r="1.6"/><circle cx="897.0" cy="1030.6" r="1.6"/></g>
<g fill="#dc3028"><circle cx="964.0" cy="904.9" r="1.6"/><circle cx="963.5" cy="917.4" r="1.6"/><circle cx="963.0" cy="930.0" r="1.6"/><circle cx="965.4" cy="975.3" r="1.6"/><circle cx="953.8" cy="966.5" r="1.6"/><circle cx="983.9" cy="1047.2" r="1.6"/><circle cx="972.2" cy="1036.6" r="1.6"/><circle cx="969.3" cy="1055.8" r="1.6"/><circle cx="965.4" cy="1052.0" r="1.6"/><circle cx="961.1" cy="1035.6" r="1.6"/></g>
<path d="M903.8,844.5 H922.7" stroke="#234f9c" stroke-width="3"/>
<path d="M941.2,844.5 H964.5" stroke="#dc3028" stroke-width="3"/>
<circle cx="903.8" cy="844.5" r="5" fill="#9aa8d8" opacity="0.8"/>
<circle cx="966.9" cy="844.5" r="5.5" fill="#f4b4a0" opacity="0.85"/>
<circle cx="975.6" cy="844.5" r="4.5" fill="#f8d0c4" opacity="0.8"/>
<circle cx="1008.1" cy="844.5" r="4" fill="#f8d0c4" opacity="0.8"/>
<path d="M926.3,766 V1150 M935.1,766 V1150 M776,1092.7 H1119" stroke="#333" stroke-width="1.3" stroke-dasharray="6,4" fill="none"/>
<text x="889.0" y="820.8" font-size="15" text-anchor="end" fill="#222" stroke="#222" stroke-width="0.22" font-style="italic" >BraC09g002460</text>
<path d="M890,815.8 L903.8,844.5" stroke="#222" stroke-width="0.9"/>
<text x="886.0" y="836.1" font-size="15" text-anchor="end" fill="#222" stroke="#222" stroke-width="0.22" font-style="italic" >BraC05g049440</text>
<path d="M887,831.1 L903.8,844.5" stroke="#222" stroke-width="0.9"/>
<text x="883.7" y="850.9" font-size="15" text-anchor="end" fill="#222" stroke="#222" stroke-width="0.22" font-style="italic" >BraC06g033790</text>
<path d="M884.7,845.9 L903.8,844.5" stroke="#222" stroke-width="0.9"/>
<text x="882.3" y="866.2" font-size="15" text-anchor="end" fill="#222" stroke="#222" stroke-width="0.22" font-style="italic" >BraC05g001530</text>
<path d="M883.3,861.2 L903.8,844.5" stroke="#222" stroke-width="0.9"/>
<text x="879.0" y="883.8" font-size="15" text-anchor="end" fill="#222" stroke="#222" stroke-width="0.22" font-style="italic" >BraC08g014770</text>
<path d="M880,878.8 L903.8,844.5" stroke="#222" stroke-width="0.9"/>
<text x="1019.4" y="834.7" font-size="15" text-anchor="start" fill="#222" stroke="#222" stroke-width="0.22" font-style="italic" >BraC09g002520</text>
<path d="M1018.4,829.7 L966.9,844.5" stroke="#222" stroke-width="0.9"/>
<text x="1017.0" y="849.0" font-size="15" text-anchor="start" fill="#222" stroke="#222" stroke-width="0.22" font-style="italic" >BraC09g041940</text>
<path d="M1016,844 L966.9,844.5" stroke="#222" stroke-width="0.9"/>
<text x="1014.3" y="864.8" font-size="15" text-anchor="start" fill="#222" stroke="#222" stroke-width="0.22" font-style="italic" >BraC03g054260</text>
<path d="M1013.3,859.8 L966.9,844.5" stroke="#222" stroke-width="0.9"/>
<text x="1012.4" y="880.1" font-size="15" text-anchor="start" fill="#222" stroke="#222" stroke-width="0.22" font-style="italic" >BraC04g029860</text>
<path d="M1011.4,875.1 L966.9,844.5" stroke="#222" stroke-width="0.9"/>
<text x="1007.8" y="894.0" font-size="15" text-anchor="start" fill="#222" stroke="#222" stroke-width="0.22" font-style="italic" >BraC02g041810</text>
<path d="M1006.8,889 L966.9,844.5" stroke="#222" stroke-width="0.9"/>
<rect x="1010.5" y="852" width="107" height="17" fill="none" stroke="#e02020" stroke-width="1.6"/>
<circle cx="1133" cy="792.8" r="2" fill="#bbb"/>
<text x="1136.5" y="798.8" font-size="20.9" text-anchor="start" fill="#000" stroke="#000" stroke-width="0.22" >Nodiff(25870)</text>
<circle cx="1133" cy="815.9" r="2" fill="#d8302a"/>
<text x="1136.5" y="821.9" font-size="20.9" text-anchor="start" fill="#000" stroke="#000" stroke-width="0.22" >Up(3792)</text>
<circle cx="1133" cy="839.0" r="2" fill="#2a52a0"/>
<text x="1136.5" y="845.0" font-size="20.9" text-anchor="start" fill="#000" stroke="#000" stroke-width="0.22" >Down(3084)</text>
<text x="1136.0" y="866.5" font-size="20.3" text-anchor="start" fill="#ee1111" stroke="#ee1111" stroke-width="0.22" font-style="italic" >BcDREB1C</text>
<text x="16.0" y="1221.0" font-size="46" text-anchor="start" fill="#000" stroke="#000" stroke-width="0.22" >F</text>
<text x="372.0" y="1221.0" font-size="46" text-anchor="start" fill="#000" stroke="#000" stroke-width="0.22" >G</text>
<text x="955.0" y="1221.0" font-size="46" text-anchor="start" fill="#000" stroke="#000" stroke-width="0.22" >H</text>
<text x="97.5" y="1288.5" font-size="20.4" text-anchor="middle" fill="#000" stroke="#000" stroke-width="0.22" >BcREB1C</text>
<text x="230.3" y="1288.5" font-size="20.4" text-anchor="middle" fill="#000" stroke="#000" stroke-width="0.22" >BcDREB1C</text>
<text x="96.8" y="1324.2" font-size="20.5" text-anchor="middle" fill="#000" stroke="#000" stroke-width="0.22" >-tsCUT&amp;Tag-1</text>
<text x="230.6" y="1324.2" font-size="20.5" text-anchor="middle" fill="#000" stroke="#000" stroke-width="0.22" >-tsCUT&amp;Tag-2</text>
<text x="332.0" y="1324.2" font-size="20.5" text-anchor="middle" fill="#000" stroke="#000" stroke-width="0.22" >input</text>
<rect x="58.4" y="1429.7" width="89.3" height="571.8" fill="url(#hmV)"/>
<rect x="58.4" y="1429.7" width="89.3" height="571.8" fill="url(#hmTSS)"/>
<rect x="58.4" y="1429.7" width="89.3" height="571.8" filter="url(#streakR)" opacity="0.35"/>
<rect x="58.4" y="1429.7" width="89.3" height="571.8" fill="url(#hmFade)"/>
<rect x="58.4" y="1429.7" width="89.3" height="571.8" filter="url(#streak)" opacity="0.5"/>
<rect x="58.4" y="1429.7" width="89.3" height="5" fill="url(#hmTop)"/>
<rect x="58.4" y="1429.7" width="89.3" height="571.8" fill="none" stroke="#666" stroke-width="1"/>
<path d="M58.4,2001.5 V2005.5" stroke="#666" stroke-width="1"/>
<text transform="translate(63.4,2016.5) rotate(-45)" font-size="20" text-anchor="end" stroke="#000" stroke-width="0.22">-3.0</text>
<path d="M103.0,2001.5 V2005.5" stroke="#666" stroke-width="1"/>
<text transform="translate(108.0,2016.5) rotate(-45)" font-size="20" text-anchor="end" stroke="#000" stroke-width="0.22">TSS</text>
<path d="M147.7,2001.5 V2005.5" stroke="#666" stroke-width="1"/>
<text transform="translate(152.7,2016.5) rotate(-45)" font-size="20" text-anchor="end" stroke="#000" stroke-width="0.22">3.0</text>
<rect x="172.7" y="1429.7" width="89.3" height="571.8" fill="url(#hmV)"/>
<rect x="172.7" y="1429.7" width="89.3" height="571.8" fill="url(#hmTSS2)"/>
<rect x="172.7" y="1429.7" width="89.3" height="571.8" filter="url(#streakR)" opacity="0.35"/>
<rect x="172.7" y="1429.7" width="89.3" height="571.8" fill="url(#hmFade)"/>
<rect x="172.7" y="1429.7" width="89.3" height="571.8" filter="url(#streak)" opacity="0.5"/>
<rect x="172.7" y="1429.7" width="89.3" height="5" fill="url(#hmTop)"/>
<rect x="172.7" y="1429.7" width="89.3" height="571.8" fill="none" stroke="#666" stroke-width="1"/>
<path d="M172.7,2001.5 V2005.5" stroke="#666" stroke-width="1"/>
<text transform="translate(177.7,2016.5) rotate(-45)" font-size="20" text-anchor="end" stroke="#000" stroke-width="0.22">-3.0</text>
<path d="M217.3,2001.5 V2005.5" stroke="#666" stroke-width="1"/>
<text transform="translate(222.3,2016.5) rotate(-45)" font-size="20" text-anchor="end" stroke="#000" stroke-width="0.22">TSS</text>
<path d="M262.0,2001.5 V2005.5" stroke="#666" stroke-width="1"/>
<text transform="translate(267.0,2016.5) rotate(-45)" font-size="20" text-anchor="end" stroke="#000" stroke-width="0.22">3.0</text>
<rect x="287.8" y="1429.7" width="89.3" height="571.8" fill="url(#hmV3)"/>
<rect x="287.8" y="1429.7" width="89.3" height="571.8" filter="url(#streak)" opacity="0.3"/>
<rect x="287.8" y="1429.7" width="89.3" height="571.8" fill="none" stroke="#666" stroke-width="1"/>
<path d="M287.8,2001.5 V2005.5" stroke="#666" stroke-width="1"/>
<text transform="translate(292.8,2016.5) rotate(-45)" font-size="20" text-anchor="end" stroke="#000" stroke-width="0.22">-3.0</text>
<path d="M332.4,2001.5 V2005.5" stroke="#666" stroke-width="1"/>
<text transform="translate(337.4,2016.5) rotate(-45)" font-size="20" text-anchor="end" stroke="#000" stroke-width="0.22">TSS</text>
<path d="M377.1,2001.5 V2005.5" stroke="#666" stroke-width="1"/>
<text transform="translate(382.1,2016.5) rotate(-45)" font-size="20" text-anchor="end" stroke="#000" stroke-width="0.22">3.0</text>
<rect x="58.4" y="1343" width="89.3" height="82.29999999999995" fill="#fff" stroke="#666" stroke-width="1"/>
<path d="M55.4,1368 H58.4" stroke="#666" stroke-width="1"/>
<path d="M55.4,1396.5 H58.4" stroke="#666" stroke-width="1"/>
<path d="M103.0,1425.3 V1428.3" stroke="#666" stroke-width="1"/>
<path d="M58.4,1418.5 L76.3,1418.0 L94.1,1417.0 L99.5,1416.3 L101.3,1413.0 L102.2,1395.0 L103.0,1372.0 L103.9,1348.0 L105.3,1347.0 L105.7,1372.0 L107.1,1380.0 L107.5,1360.0 L109.3,1355.0 L110.6,1358.0 L111.1,1385.0 L112.0,1407.0 L113.8,1412.0 L120.9,1413.5 L129.8,1413.0 L134.3,1413.8 L138.8,1412.5 L143.2,1413.5 L147.7,1413.0" stroke="#2a2aa0" stroke-width="1.4" fill="none"/>
<rect x="172.7" y="1343" width="89.3" height="82.29999999999995" fill="#fff" stroke="#666" stroke-width="1"/>
<path d="M169.7,1368 H172.7" stroke="#666" stroke-width="1"/>
<path d="M169.7,1396.5 H172.7" stroke="#666" stroke-width="1"/>
<path d="M217.3,1425.3 V1428.3" stroke="#666" stroke-width="1"/>
<path d="M172.7,1413.0 L181.6,1412.0 L190.6,1412.0 L199.5,1410.0 L208.4,1408.0 L212.9,1407.5 L215.6,1402.0 L216.5,1385.0 L217.3,1362.0 L218.2,1350.0 L220.0,1351.0 L220.5,1366.0 L221.8,1355.0 L223.6,1356.0 L224.9,1368.0 L226.3,1396.0 L229.0,1408.0 L235.2,1409.0 L244.1,1411.0 L246.8,1408.0 L249.5,1410.0 L253.1,1409.0 L257.5,1407.0 L262.0,1405.5" stroke="#2a2aa0" stroke-width="1.4" fill="none"/>
<rect x="287.8" y="1343" width="89.3" height="82.29999999999995" fill="#fff" stroke="#666" stroke-width="1"/>
<path d="M284.8,1368 H287.8" stroke="#666" stroke-width="1"/>
<path d="M284.8,1396.5 H287.8" stroke="#666" stroke-width="1"/>
<path d="M332.4,1425.3 V1428.3" stroke="#666" stroke-width="1"/>
<path d="M287.8,1420.5 L305.7,1419.5 L323.5,1418.0 L327.1,1417.5 L328.9,1416.0 L329.8,1400.0 L330.7,1370.0 L331.6,1355.0 L332.9,1360.0 L333.8,1382.0 L334.2,1390.0 L335.1,1370.0 L336.9,1367.0 L338.7,1372.0 L339.6,1395.0 L341.4,1413.0 L343.2,1417.0 L350.3,1418.5 L359.2,1418.0 L363.7,1417.5 L368.2,1419.0 L372.6,1418.0 L377.1,1418.0" stroke="#2a2aa0" stroke-width="1.4" fill="none"/>
<text x="53.5" y="1374.5" font-size="18.5" text-anchor="end" fill="#000" stroke="#000" stroke-width="0.22" >20</text>
<text x="53.5" y="1403.0" font-size="18.5" text-anchor="end" fill="#000" stroke="#000" stroke-width="0.22" >10</text>
<text transform="translate(53.5,1685) rotate(-90)" font-size="19" text-anchor="middle" stroke="#000" stroke-width="0.22">genes</text>
<rect x="383.5" y="1430.5" width="9.5" height="571" fill="url(#cbar)" stroke="#666" stroke-width="0.8"/>
<path d="M393,2000.5 H396" stroke="#333" stroke-width="1"/>
<text x="396.5" y="2007.0" font-size="18.5" text-anchor="start" fill="#000" stroke="#000" stroke-width="0.22" >0</text>
<path d="M393,1897.3 H396" stroke="#333" stroke-width="1"/>
<text x="396.5" y="1903.8" font-size="18.5" text-anchor="start" fill="#000" stroke="#000" stroke-width="0.22" >2</text>
<path d="M393,1794.1 H396" stroke="#333" stroke-width="1"/>
<text x="396.5" y="1800.6" font-size="18.5" text-anchor="start" fill="#000" stroke="#000" stroke-width="0.22" >4</text>
<path d="M393,1690.9 H396" stroke="#333" stroke-width="1"/>
<text x="396.5" y="1697.4" font-size="18.5" text-anchor="start" fill="#000" stroke="#000" stroke-width="0.22" >6</text>
<path d="M393,1587.7 H396" stroke="#333" stroke-width="1"/>
<text x="396.5" y="1594.2" font-size="18.5" text-anchor="start" fill="#000" stroke="#000" stroke-width="0.22" >8</text>
<path d="M393,1484.5 H396" stroke="#333" stroke-width="1"/>
<text x="396.5" y="1491.0" font-size="18.5" text-anchor="start" fill="#000" stroke="#000" stroke-width="0.22" >10</text>
<text x="396.0" y="2032.5" font-size="20" text-anchor="start" fill="#000" stroke="#000" stroke-width="0.22" >(kb)</text>
<rect x="534.5" y="1259" width="355" height="245.5" fill="none" stroke="#555" stroke-width="1.2"/>
<rect x="549.40" y="1270.2" width="8.75" height="69.0" fill="#8dd3c7"/>
<rect x="558.15" y="1270.2" width="18.79" height="69.0" fill="#f5f5b0"/>
<rect x="576.93" y="1270.2" width="108.83" height="69.0" fill="#bab6d8"/>
<rect x="685.76" y="1270.2" width="1.94" height="69.0" fill="#f08070"/>
<rect x="687.71" y="1270.2" width="6.80" height="69.0" fill="#80b1d3"/>
<rect x="694.51" y="1270.2" width="70.29" height="69.0" fill="#f5ac60"/>
<rect x="764.79" y="1270.2" width="5.83" height="69.0" fill="#b3de69"/>
<rect x="770.62" y="1270.2" width="1.62" height="69.0" fill="#fccde5"/>
<rect x="772.24" y="1270.2" width="101.06" height="69.0" fill="#d9d9d9"/>
<rect x="549.40" y="1347.3" width="8.75" height="69.0" fill="#8dd3c7"/>
<rect x="558.15" y="1347.3" width="16.19" height="69.0" fill="#f5f5b0"/>
<rect x="574.34" y="1347.3" width="80.98" height="69.0" fill="#bab6d8"/>
<rect x="655.32" y="1347.3" width="1.94" height="69.0" fill="#f08070"/>
<rect x="657.26" y="1347.3" width="7.13" height="69.0" fill="#80b1d3"/>
<rect x="664.38" y="1347.3" width="91.66" height="69.0" fill="#f5ac60"/>
<rect x="756.05" y="1347.3" width="6.48" height="69.0" fill="#b3de69"/>
<rect x="762.53" y="1347.3" width="2.27" height="69.0" fill="#fccde5"/>
<rect x="764.79" y="1347.3" width="108.51" height="69.0" fill="#d9d9d9"/>
<rect x="549.40" y="1424.5" width="9.72" height="69.8" fill="#8dd3c7"/>
<rect x="559.12" y="1424.5" width="8.75" height="69.8" fill="#f5f5b0"/>
<rect x="567.86" y="1424.5" width="97.17" height="69.8" fill="#bab6d8"/>
<rect x="665.03" y="1424.5" width="42.11" height="69.8" fill="#f5ac60"/>
<rect x="707.14" y="1424.5" width="5.18" height="69.8" fill="#b3de69"/>
<rect x="712.32" y="1424.5" width="1.30" height="69.8" fill="#fccde5"/>
<rect x="713.62" y="1424.5" width="159.68" height="69.8" fill="#d9d9d9"/>
<path d="M549.4,1504.5 V1508" stroke="#333" stroke-width="1"/>
<text x="549.4" y="1524.0" font-size="19" text-anchor="middle" fill="#222" stroke="#222" stroke-width="0.22" >0</text>
<path d="M630.4,1504.5 V1508" stroke="#333" stroke-width="1"/>
<text x="630.4" y="1524.0" font-size="19" text-anchor="middle" fill="#222" stroke="#222" stroke-width="0.22" >25</text>
<path d="M711.3,1504.5 V1508" stroke="#333" stroke-width="1"/>
<text x="711.3" y="1524.0" font-size="19" text-anchor="middle" fill="#222" stroke="#222" stroke-width="0.22" >50</text>
<path d="M792.3,1504.5 V1508" stroke="#333" stroke-width="1"/>
<text x="792.3" y="1524.0" font-size="19" text-anchor="middle" fill="#222" stroke="#222" stroke-width="0.22" >75</text>
<path d="M873.3,1504.5 V1508" stroke="#333" stroke-width="1"/>
<text x="873.3" y="1524.0" font-size="19" text-anchor="middle" fill="#222" stroke="#222" stroke-width="0.22" >100</text>
<text x="728.2" y="1544.0" font-size="20.7" text-anchor="middle" fill="#222" stroke="#222" stroke-width="0.22" >Ratio (%)</text>
<text x="518.5" y="1287.0" font-size="20.5" text-anchor="end" fill="#000" stroke="#000" stroke-width="0.22" >BcDREB1C</text>
<text x="530.5" y="1320.0" font-size="20.5" text-anchor="end" fill="#000" stroke="#000" stroke-width="0.22" >-tsCUT&amp;Tag-2</text>
<text x="518.5" y="1378.0" font-size="20.5" text-anchor="end" fill="#000" stroke="#000" stroke-width="0.22" >BcDREB1C</text>
<text x="530.5" y="1412.5" font-size="20.5" text-anchor="end" fill="#000" stroke="#000" stroke-width="0.22" >-tsCUT&amp;Tag-1</text>
<text x="530.5" y="1468.0" font-size="20.5" text-anchor="end" fill="#000" stroke="#000" stroke-width="0.22" >input</text>
<rect x="901.4" y="1361.0" width="6.4" height="6.4" fill="#80b1d3"/>
<text transform="translate(910.1,1357.2) rotate(-90)" font-size="16" text-anchor="start" stroke="#000" stroke-width="0.22">3'UTR</text>
<rect x="918.2" y="1361.0" width="6.4" height="6.4" fill="#f5ac60"/>
<text transform="translate(926.9,1357.2) rotate(-90)" font-size="16" text-anchor="start" stroke="#000" stroke-width="0.22">Exon</text>
<rect x="936.3" y="1361.0" width="6.4" height="6.4" fill="#b3de69"/>
<text transform="translate(945.0,1357.2) rotate(-90)" font-size="16" text-anchor="start" stroke="#000" stroke-width="0.22">Intron</text>
<rect x="901.4" y="1514.3" width="6.4" height="6.4" fill="#8dd3c7"/>
<text transform="translate(910.1,1510.5) rotate(-90)" font-size="16" text-anchor="start" stroke="#000" stroke-width="0.22">Promoter (2-3kb)</text>
<rect x="918.2" y="1514.3" width="6.4" height="6.4" fill="#f5f5b0"/>
<text transform="translate(926.9,1510.5) rotate(-90)" font-size="16" text-anchor="start" stroke="#000" stroke-width="0.22">Promoter (1-2kb)</text>
<rect x="935.6" y="1514.3" width="6.4" height="6.4" fill="#bab6d8"/>
<text transform="translate(944.3,1510.5) rotate(-90)" font-size="16" text-anchor="start" stroke="#000" stroke-width="0.22">Promoter (&lt;=1kb)</text>
<rect x="955.8" y="1514.3" width="6.4" height="6.4" fill="#fccde5"/>
<text transform="translate(964.5,1510.5) rotate(-90)" font-size="16" text-anchor="start" stroke="#000" stroke-width="0.22">Downstream</text>
<rect x="974.2" y="1514.3" width="6.4" height="6.4" fill="#d9d9d9"/>
<text transform="translate(982.9,1510.5) rotate(-90)" font-size="16" text-anchor="start" stroke="#000" stroke-width="0.22">Distal Intergenic</text>
<rect x="993.4" y="1514.3" width="6.4" height="6.4" fill="#f08070"/>
<text transform="translate(1002.1,1510.5) rotate(-90)" font-size="16" text-anchor="start" stroke="#000" stroke-width="0.22">5'UTR</text>
<circle cx="1080.1" cy="1376" r="68.5" fill="#fa9696"/>
<circle cx="1170.5" cy="1375.8" r="76.6" fill="#9bce9b"/>
<circle cx="1124.2" cy="1451.3" r="37.6" fill="#9b9bff"/>
<g clip-path="url(#cR)"><circle cx="1170.5" cy="1375.8" r="76.6" fill="#deba96"/><circle cx="1124.2" cy="1451.3" r="37.6" fill="#dc96e6"/></g>
<g clip-path="url(#cG)"><circle cx="1124.2" cy="1451.3" r="37.6" fill="#9bbae4"/></g>
<g clip-path="url(#cR)"><g clip-path="url(#cG)"><circle cx="1124.2" cy="1451.3" r="37.6" fill="#c8afc8"/></g></g>
<text x="1055.0" y="1383.0" font-size="16" text-anchor="middle" fill="#000" stroke="#000" stroke-width="0.22" >3948</text>
<text x="1121.6" y="1381.2" font-size="16" text-anchor="middle" fill="#000" stroke="#000" stroke-width="0.22" >1679</text>
<text x="1189.0" y="1391.5" font-size="16" text-anchor="middle" fill="#000" stroke="#000" stroke-width="0.22" >5253</text>
<text x="1121.0" y="1426.3" font-size="16" text-anchor="middle" fill="#000" stroke="#000" stroke-width="0.22" >87</text>
<text x="1102.2" y="1439.2" font-size="16" text-anchor="middle" fill="#000" stroke="#000" stroke-width="0.22" >231</text>
<text x="1144.7" y="1442.3" font-size="16" text-anchor="middle" fill="#000" stroke="#000" stroke-width="0.22" >419</text>
<text x="1123.4" y="1477.8" font-size="16" text-anchor="middle" fill="#000" stroke="#000" stroke-width="0.22" >1117</text>
<text x="1036.0" y="1282.0" font-size="20.4" text-anchor="middle" fill="#000" stroke="#000" stroke-width="0.22" >BcDREB1C-</text>
<text x="1036.2" y="1300.0" font-size="20.8" text-anchor="middle" fill="#000" stroke="#000" stroke-width="0.22" >tsCUT&amp;Tag</text>
<text x="1188.0" y="1279.5" font-size="20.4" text-anchor="middle" fill="#000" stroke="#000" stroke-width="0.22" >BcDREB1C</text>
<text x="1184.7" y="1297.5" font-size="20.6" text-anchor="middle" fill="#000" stroke="#000" stroke-width="0.22" >-tsRNAseq</text>
<text x="1128.5" y="1506.0" font-size="21" text-anchor="middle" fill="#000" stroke="#000" stroke-width="0.22" >LT-RNAseq</text>
<text x="454.0" y="1617.5" font-size="46" text-anchor="start" fill="#000" stroke="#000" stroke-width="0.22" >I</text>
<rect x="617.7" y="1593.2" width="180.29999999999995" height="213.79999999999995" fill="#efefef" stroke="#111" stroke-width="1.5"/>
<path d="M618.5,1650.5 H797.2" stroke="#ff00ff" stroke-width="1"/>
<path d="M618.5,1720.5 H797.2" stroke="#ff00ff" stroke-width="1"/>
<path d="M618.5,1769.2 H797.2" stroke="#ff00ff" stroke-width="1"/>
<text x="714.4" y="1803" font-size="12.3" font-style="italic" text-anchor="middle" fill="#222" textLength="160.2" lengthAdjust="spacingAndGlyphs" stroke="#222" stroke-width="0.22">BraC05G001000.1(BcWRKY23)</text>
<rect x="807.7" y="1593.2" width="179.69999999999993" height="213.79999999999995" fill="#efefef" stroke="#111" stroke-width="1.5"/>
<path d="M808.5,1650.5 H986.6" stroke="#ff00ff" stroke-width="1"/>
<path d="M808.5,1720.5 H986.6" stroke="#ff00ff" stroke-width="1"/>
<path d="M808.5,1769.2 H986.6" stroke="#ff00ff" stroke-width="1"/>
<text x="904.0" y="1803" font-size="12.3" font-style="italic" text-anchor="middle" fill="#222" textLength="149.4" lengthAdjust="spacingAndGlyphs" stroke="#222" stroke-width="0.22">BraC03g046210.1(BcMYB77)</text>
<rect x="997.2" y="1593.2" width="180.0" height="213.79999999999995" fill="#efefef" stroke="#111" stroke-width="1.5"/>
<path d="M998.0,1650.5 H1176.4" stroke="#ff00ff" stroke-width="1"/>
<path d="M998.0,1720.5 H1176.4" stroke="#ff00ff" stroke-width="1"/>
<path d="M998.0,1769.2 H1176.4" stroke="#ff00ff" stroke-width="1"/>
<text x="1093.0" y="1803" font-size="12.3" font-style="italic" text-anchor="middle" fill="#222" textLength="158.0" lengthAdjust="spacingAndGlyphs" stroke="#222" stroke-width="0.22">BraC04g030620.1(BcDREB2C)</text>
<text x="546.0" y="1631.2" font-size="20.3" text-anchor="middle" fill="#000" stroke="#000" stroke-width="0.22" >BcDREB1C</text>
<text x="545.0" y="1652.2" font-size="20.5" text-anchor="middle" fill="#000" stroke="#000" stroke-width="0.22" >-tsCUT&amp;Tag-1</text>
<text x="546.0" y="1701.7" font-size="20.3" text-anchor="middle" fill="#000" stroke="#000" stroke-width="0.22" >BcDREB1C</text>
<text x="545.0" y="1721.7" font-size="20.5" text-anchor="middle" fill="#000" stroke="#000" stroke-width="0.22" >-tsCUT&amp;Tag-2</text>
<text x="604.5" y="1768.7" font-size="20.3" text-anchor="end" fill="#000" stroke="#000" stroke-width="0.22" >input</text>
<text x="604.5" y="1804.7" font-size="20.3" text-anchor="end" fill="#000" stroke="#000" stroke-width="0.22" >Gene model</text>
<rect x="617.7" y="1815.5" width="180.29999999999995" height="214.5" fill="#efefef" stroke="#111" stroke-width="1.5"/>
<path d="M618.5,1874.4 H797.2" stroke="#ff00ff" stroke-width="1"/>
<path d="M618.5,1943.8 H797.2" stroke="#ff00ff" stroke-width="1"/>
<path d="M618.5,1992.8 H797.2" stroke="#ff00ff" stroke-width="1"/>
<text x="722.5" y="2026" font-size="12.3" font-style="italic" text-anchor="middle" fill="#222" textLength="141.0" lengthAdjust="spacingAndGlyphs" stroke="#222" stroke-width="0.22">BraC10g031650.1(BcLEA4-5)</text>
<rect x="807.7" y="1815.5" width="179.69999999999993" height="214.5" fill="#efefef" stroke="#111" stroke-width="1.5"/>
<path d="M808.5,1874.4 H986.6" stroke="#ff00ff" stroke-width="1"/>
<path d="M808.5,1943.8 H986.6" stroke="#ff00ff" stroke-width="1"/>
<path d="M808.5,1992.8 H986.6" stroke="#ff00ff" stroke-width="1"/>
<text x="891.7" y="2026" font-size="12.3" font-style="italic" text-anchor="middle" fill="#222" textLength="149.4" lengthAdjust="spacingAndGlyphs" stroke="#222" stroke-width="0.22">BraC01g001610.1(BcMYB73)</text>
<rect x="997.2" y="1815.5" width="180.0" height="214.5" fill="#efefef" stroke="#111" stroke-width="1.5"/>
<path d="M998.0,1874.4 H1176.4" stroke="#ff00ff" stroke-width="1"/>
<path d="M998.0,1943.8 H1176.4" stroke="#ff00ff" stroke-width="1"/>
<path d="M998.0,1992.8 H1176.4" stroke="#ff00ff" stroke-width="1"/>
<text x="1086.1" y="2026" font-size="12.3" font-style="italic" text-anchor="middle" fill="#222" textLength="145.8" lengthAdjust="spacingAndGlyphs" stroke="#222" stroke-width="0.22">BraC05g008640.1(BcPIP2B)</text>
<text x="546.0" y="1853.5" font-size="20.3" text-anchor="middle" fill="#000" stroke="#000" stroke-width="0.22" >BcDREB1C</text>
<text x="545.0" y="1874.5" font-size="20.5" text-anchor="middle" fill="#000" stroke="#000" stroke-width="0.22" >-tsCUT&amp;Tag-1</text>
<text x="546.0" y="1924.0" font-size="20.3" text-anchor="middle" fill="#000" stroke="#000" stroke-width="0.22" >BcDREB1C</text>
<text x="545.0" y="1944.0" font-size="20.5" text-anchor="middle" fill="#000" stroke="#000" stroke-width="0.22" >-tsCUT&amp;Tag-2</text>
<text x="604.5" y="1991.0" font-size="20.3" text-anchor="end" fill="#000" stroke="#000" stroke-width="0.22" >input</text>
<text x="604.5" y="2027.0" font-size="20.3" text-anchor="end" fill="#000" stroke="#000" stroke-width="0.22" >Gene model</text>
<path d="M628.5,1650.3 V1643.0 H632.9 V1650.3 z M632.9,1650.3 V1635.7 H636.4 V1650.3 z M636.4,1650.3 V1628.4 H641.1 V1650.3 z M641.1,1650.3 V1638.6 H644.6 V1650.3 z M644.6,1650.3 V1647.4 H648.1 V1650.3 z M663.6,1650.3 V1647.4 H667.9 V1650.3 z M667.9,1650.3 V1643.9 H671.4 V1650.3 z M671.4,1650.3 V1642.4 H675.2 V1650.3 z M675.2,1650.3 V1645.9 H679.6 V1650.3 z M679.6,1650.3 V1649.4 H684.0 V1650.3 z M686.9,1650.3 V1647.4 H691.3 V1650.3 z M691.3,1650.3 V1640.1 H694.8 V1650.3 z M694.8,1650.3 V1635.7 H699.5 V1650.3 z M699.5,1650.3 V1641.5 H703.0 V1650.3 z M703.0,1650.3 V1649.4 H706.5 V1650.3 z M707.4,1650.3 V1643.0 H711.8 V1650.3 z M711.8,1650.3 V1638.6 H716.2 V1650.3 z M716.2,1650.3 V1638.0 H720.0 V1650.3 z M720.0,1650.3 V1643.0 H723.5 V1650.3 z M723.5,1650.3 V1648.0 H727.8 V1650.3 z M727.8,1650.3 V1648.3 H743.9 V1650.3 z M743.9,1650.3 V1649.4 H758.5 V1650.3 z M758.5,1650.3 V1649.1 H770.2 V1650.3 z M770.2,1650.3 V1647.4 H776.1 V1650.3 z M776.1,1650.3 V1644.5 H780.4 V1650.3 z M780.4,1650.3 V1642.1 H787.7 V1650.3 z M787.7,1650.3 V1647.4 H793.6 V1650.3 z M793.6,1650.3 V1649.1 H797.1 V1650.3 z" fill="#ff00ff"/>
<path d="M628.5,1720.3 V1711.5 H632.9 V1720.3 z M632.9,1720.3 V1705.7 H636.4 V1720.3 z M636.4,1720.3 V1698.4 H641.1 V1720.3 z M641.1,1720.3 V1704.2 H644.6 V1720.3 z M644.6,1720.3 V1715.9 H648.9 V1720.3 z M648.9,1720.3 V1718.8 H656.2 V1720.3 z M660.6,1720.3 V1717.4 H673.8 V1720.3 z M673.8,1720.3 V1715.9 H682.5 V1720.3 z M682.5,1720.3 V1713.9 H691.3 V1720.3 z M691.3,1720.3 V1705.7 H695.7 V1720.3 z M695.7,1720.3 V1698.4 H700.1 V1720.3 z M700.1,1720.3 V1699.8 H704.5 V1720.3 z M704.5,1720.3 V1704.2 H708.3 V1720.3 z M708.3,1720.3 V1708.6 H711.8 V1720.3 z M711.8,1720.3 V1713.0 H716.2 V1720.3 z M716.2,1720.3 V1716.8 H720.5 V1720.3 z M720.5,1720.3 V1718.8 H724.9 V1720.3 z M733.7,1720.3 V1718.3 H745.4 V1720.3 z" fill="#ff00ff"/>
<path d="M855.5,1650.5 V1648.3 H861.6 V1650.5 z M861.6,1650.5 V1646.2 H867.8 V1650.5 z M867.8,1650.5 V1640.0 H872.4 V1650.5 z M872.4,1650.5 V1633.9 H876.4 V1650.5 z M876.4,1650.5 V1640.9 H880.7 V1650.5 z M880.7,1650.5 V1649.6 H886.3 V1650.5 z M887.8,1650.5 V1647.7 H891.8 V1650.5 z M891.8,1650.5 V1641.6 H895.5 V1650.5 z M895.5,1650.5 V1634.8 H900.1 V1650.5 z M900.1,1650.5 V1641.6 H904.1 V1650.5 z M904.1,1650.5 V1646.2 H907.8 V1650.5 z M907.8,1650.5 V1645.3 H912.4 V1650.5 z M912.4,1650.5 V1640.6 H917.1 V1650.5 z M917.1,1650.5 V1639.4 H923.2 V1650.5 z M923.2,1650.5 V1625.5 H927.8 V1650.5 z M927.8,1650.5 V1609.2 H932.5 V1650.5 z M932.5,1650.5 V1623.1 H936.5 V1650.5 z M936.5,1650.5 V1643.1 H941.1 V1650.5 z M941.1,1650.5 V1648.3 H944.8 V1650.5 z M944.8,1650.5 V1649.6 H949.4 V1650.5 z" fill="#ff00ff"/>
<path d="M855.5,1720.2 V1718.7 H860.1 V1720.2 z M860.1,1720.2 V1709.4 H864.7 V1720.2 z M864.7,1720.2 V1702.6 H868.4 V1720.2 z M868.4,1720.2 V1711.0 H872.4 V1720.2 z M872.4,1720.2 V1709.4 H876.4 V1720.2 z M876.4,1720.2 V1705.7 H880.7 V1720.2 z M880.7,1720.2 V1715.6 H884.7 V1720.2 z M884.7,1720.2 V1719.6 H887.8 V1720.2 z M887.8,1720.2 V1715.6 H891.8 V1720.2 z M891.8,1720.2 V1711.9 H896.1 V1720.2 z M896.1,1720.2 V1715.6 H900.1 V1720.2 z M900.1,1720.2 V1717.1 H904.7 V1720.2 z M904.7,1720.2 V1714.0 H909.4 V1720.2 z M909.4,1720.2 V1712.5 H914.0 V1720.2 z M914.0,1720.2 V1711.9 H920.1 V1720.2 z M920.1,1720.2 V1701.7 H924.8 V1720.2 z M924.8,1720.2 V1693.4 H928.8 V1720.2 z M928.8,1720.2 V1678.6 H932.5 V1720.2 z M932.5,1720.2 V1668.8 H936.5 V1720.2 z M936.5,1720.2 V1686.3 H941.1 V1720.2 z M941.1,1720.2 V1705.7 H944.8 V1720.2 z M944.8,1720.2 V1712.5 H949.4 V1720.2 z M949.4,1720.2 V1718.7 H952.5 V1720.2 z" fill="#ff00ff"/>
<path d="M1000.2,1651.8 V1649.3 H1018.7 V1651.8 z M1026.4,1651.8 V1650.3 H1034.1 V1651.8 z M1040.3,1651.8 V1649.3 H1057.2 V1651.8 z M1057.2,1651.8 V1647.2 H1061.9 V1651.8 z M1061.9,1651.8 V1644.1 H1066.5 V1651.8 z M1066.5,1651.8 V1647.2 H1071.1 V1651.8 z M1071.1,1651.8 V1644.1 H1075.7 V1651.8 z M1075.7,1651.8 V1644.1 H1081.0 V1651.8 z M1081.0,1651.8 V1640.1 H1085.9 V1651.8 z M1085.9,1651.8 V1632.4 H1091.1 V1651.8 z M1091.1,1651.8 V1631.8 H1094.2 V1651.8 z M1094.2,1651.8 V1638.6 H1098.8 V1651.8 z M1098.8,1651.8 V1641.6 H1104.4 V1651.8 z M1104.4,1651.8 V1643.2 H1109.6 V1651.8 z M1109.6,1651.8 V1641.6 H1114.2 V1651.8 z M1114.2,1651.8 V1644.1 H1118.9 V1651.8 z M1118.9,1651.8 V1641.6 H1128.1 V1651.8 z M1128.1,1651.8 V1644.7 H1134.3 V1651.8 z M1134.3,1651.8 V1638.6 H1138.3 V1651.8 z M1138.3,1651.8 V1637.0 H1145.0 V1651.8 z M1145.0,1651.8 V1645.3 H1149.7 V1651.8 z M1149.7,1651.8 V1650.3 H1152.7 V1651.8 z" fill="#ff00ff"/>
<path d="M1057.2,1721.1 V1718.6 H1064.9 V1721.1 z M1064.9,1721.1 V1720.2 H1071.1 V1721.1 z M1071.1,1721.1 V1719.3 H1088.0 V1721.1 z M1088.0,1721.1 V1715.6 H1092.7 V1721.1 z M1092.7,1721.1 V1714.9 H1100.4 V1721.1 z M1100.4,1721.1 V1717.1 H1106.5 V1721.1 z M1106.5,1721.1 V1714.9 H1111.2 V1721.1 z M1111.2,1721.1 V1714.0 H1120.4 V1721.1 z M1120.4,1721.1 V1716.5 H1126.6 V1721.1 z M1126.6,1721.1 V1719.3 H1131.2 V1721.1 z M1134.3,1721.1 V1712.5 H1138.3 V1721.1 z M1138.3,1721.1 V1704.8 H1142.0 V1721.1 z M1142.0,1721.1 V1706.9 H1145.7 V1721.1 z M1145.7,1721.1 V1715.6 H1149.7 V1721.1 z M1149.7,1721.1 V1719.3 H1155.8 V1721.1 z" fill="#ff00ff"/>
<path d="M618.8,1874.4 V1870.0 H624.1 V1874.4 z M624.1,1874.4 V1872.9 H629.9 V1874.4 z M629.9,1874.4 V1873.8 H659.2 V1874.4 z M659.2,1874.4 V1871.5 H666.5 V1874.4 z M666.5,1874.4 V1867.7 H673.8 V1874.4 z M673.8,1874.4 V1859.8 H681.1 V1874.4 z M681.1,1874.4 V1855.4 H688.4 V1874.4 z M688.4,1874.4 V1857.7 H694.2 V1874.4 z M694.2,1874.4 V1856.9 H703.0 V1874.4 z M703.0,1874.4 V1857.7 H710.3 V1874.4 z M710.3,1874.4 V1861.8 H717.0 V1874.4 z M717.0,1874.4 V1870.0 H723.5 V1874.4 z M723.5,1874.4 V1869.4 H730.8 V1874.4 z M730.8,1874.4 V1861.8 H738.1 V1874.4 z M738.1,1874.4 V1867.1 H745.4 V1874.4 z M745.4,1874.4 V1871.5 H754.1 V1874.4 z M754.1,1874.4 V1872.4 H761.4 V1874.4 z M761.4,1874.4 V1873.2 H795.1 V1874.4 z M795.1,1874.4 V1870.6 H798.0 V1874.4 z" fill="#ff00ff"/>
<path d="M618.8,1943.8 V1942.9 H644.6 V1943.8 z M659.2,1943.8 V1940.0 H666.5 V1943.8 z M666.5,1943.8 V1934.2 H673.8 V1943.8 z M673.8,1943.8 V1918.1 H680.2 V1943.8 z M680.2,1943.8 V1909.3 H687.8 V1943.8 z M687.8,1943.8 V1921.0 H695.7 V1943.8 z M695.7,1943.8 V1933.6 H703.0 V1943.8 z M703.0,1943.8 V1939.4 H710.3 V1943.8 z M710.3,1943.8 V1941.5 H717.6 V1943.8 z M717.6,1943.8 V1942.9 H730.8 V1943.8 z M730.8,1943.8 V1938.0 H738.1 V1943.8 z M738.1,1943.8 V1940.0 H746.3 V1943.8 z M746.3,1943.8 V1942.3 H760.0 V1943.8 z" fill="#ff00ff"/>
<path d="M807.7,1874.3 V1863.5 H813.9 V1874.3 z M813.9,1874.3 V1862.6 H821.6 V1874.3 z M821.6,1874.3 V1866.0 H827.7 V1874.3 z M827.7,1874.3 V1868.8 H834.5 V1874.3 z M834.5,1874.3 V1863.5 H840.0 V1874.3 z M840.0,1874.3 V1853.7 H847.8 V1874.3 z M847.8,1874.3 V1858.0 H852.4 V1874.3 z M852.4,1874.3 V1858.0 H857.0 V1874.3 z M857.0,1874.3 V1861.1 H861.6 V1874.3 z M861.6,1874.3 V1864.4 H870.9 V1874.3 z M870.9,1874.3 V1867.5 H875.5 V1874.3 z M875.5,1874.3 V1871.2 H881.6 V1874.3 z M881.6,1874.3 V1862.0 H887.2 V1874.3 z M887.2,1874.3 V1848.7 H891.8 V1874.3 z M891.8,1874.3 V1853.7 H896.1 V1874.3 z M896.1,1874.3 V1869.1 H901.0 V1874.3 z M901.0,1874.3 V1874.0 H908.4 V1874.3 z M908.4,1874.3 V1869.1 H913.4 V1874.3 z M913.4,1874.3 V1858.9 H918.6 V1874.3 z M918.6,1874.3 V1851.8 H922.6 V1874.3 z M922.6,1874.3 V1856.7 H926.9 V1874.3 z M926.9,1874.3 V1863.5 H931.9 V1874.3 z M931.9,1874.3 V1869.1 H936.5 V1874.3 z M936.5,1874.3 V1872.8 H940.2 V1874.3 z M940.2,1874.3 V1866.6 H944.2 V1874.3 z M944.2,1874.3 V1858.0 H948.5 V1874.3 z M948.5,1874.3 V1863.5 H953.1 V1874.3 z M953.1,1874.3 V1871.2 H957.1 V1874.3 z M957.1,1874.3 V1872.8 H961.7 V1874.3 z M961.7,1874.3 V1871.5 H972.5 V1874.3 z M972.5,1874.3 V1868.1 H977.1 V1874.3 z M977.1,1874.3 V1858.0 H981.8 V1874.3 z M981.8,1874.3 V1859.8 H986.4 V1874.3 z" fill="#ff00ff"/>
<path d="M807.7,1943.6 V1940.5 H815.4 V1943.6 z M815.4,1943.6 V1942.1 H821.6 V1943.6 z M821.6,1943.6 V1934.4 H826.2 V1943.6 z M826.2,1943.6 V1922.0 H830.8 V1943.6 z M830.8,1943.6 V1919.6 H835.4 V1943.6 z M835.4,1943.6 V1926.7 H840.0 V1943.6 z M840.0,1943.6 V1930.7 H844.7 V1943.6 z M844.7,1943.6 V1933.7 H849.3 V1943.6 z M849.3,1943.6 V1935.9 H857.0 V1943.6 z M857.0,1943.6 V1934.4 H861.6 V1943.6 z M861.6,1943.6 V1931.3 H866.2 V1943.6 z M866.2,1943.6 V1928.2 H870.9 V1943.6 z M870.9,1943.6 V1931.3 H875.5 V1943.6 z M875.5,1943.6 V1936.8 H880.1 V1943.6 z M880.1,1943.6 V1940.5 H882.6 V1943.6 z M882.6,1943.6 V1927.6 H887.8 V1943.6 z M887.8,1943.6 V1927.6 H892.4 V1943.6 z M892.4,1943.6 V1929.7 H897.0 V1943.6 z M897.0,1943.6 V1931.9 H901.7 V1943.6 z M901.7,1943.6 V1931.3 H906.3 V1943.6 z M906.3,1943.6 V1929.7 H910.9 V1943.6 z M910.9,1943.6 V1931.3 H915.5 V1943.6 z M915.5,1943.6 V1934.4 H920.1 V1943.6 z M920.1,1943.6 V1936.8 H926.3 V1943.6 z M926.3,1943.6 V1934.4 H930.9 V1943.6 z M930.9,1943.6 V1929.7 H935.6 V1943.6 z M935.6,1943.6 V1933.7 H940.2 V1943.6 z M940.2,1943.6 V1935.9 H944.8 V1943.6 z M944.8,1943.6 V1934.4 H949.4 V1943.6 z M949.4,1943.6 V1937.4 H954.0 V1943.6 z M954.0,1943.6 V1940.5 H958.7 V1943.6 z M958.7,1943.6 V1939.3 H966.4 V1943.6 z M966.4,1943.6 V1940.5 H974.1 V1943.6 z M974.1,1943.6 V1933.7 H978.7 V1943.6 z M978.7,1943.6 V1922.7 H983.3 V1943.6 z M983.3,1943.6 V1921.4 H987.0 V1943.6 z" fill="#ff00ff"/>
<path d="M998.7,1874.3 V1872.8 H1003.3 V1874.3 z M1003.3,1874.3 V1870.6 H1007.9 V1874.3 z M1007.9,1874.3 V1866.6 H1012.6 V1874.3 z M1012.6,1874.3 V1869.7 H1017.2 V1874.3 z M1017.2,1874.3 V1873.4 H1021.8 V1874.3 z M1021.8,1874.3 V1871.2 H1028.0 V1874.3 z M1028.0,1874.3 V1870.3 H1035.7 V1874.3 z M1035.7,1874.3 V1869.7 H1041.8 V1874.3 z M1041.8,1874.3 V1866.6 H1046.5 V1874.3 z M1046.5,1874.3 V1865.7 H1055.7 V1874.3 z M1055.7,1874.3 V1871.2 H1060.3 V1874.3 z M1060.3,1874.3 V1873.4 H1064.9 V1874.3 z M1064.9,1874.3 V1872.1 H1069.6 V1874.3 z M1069.6,1874.3 V1862.0 H1074.2 V1874.3 z M1074.2,1874.3 V1851.8 H1078.8 V1874.3 z M1078.8,1874.3 V1858.0 H1082.8 V1874.3 z M1082.8,1874.3 V1868.1 H1087.1 V1874.3 z M1087.1,1874.3 V1872.1 H1091.1 V1874.3 z M1091.1,1874.3 V1871.5 H1108.1 V1874.3 z M1108.1,1874.3 V1869.7 H1112.7 V1874.3 z M1112.7,1874.3 V1868.8 H1117.3 V1874.3 z M1117.3,1874.3 V1871.2 H1121.9 V1874.3 z M1121.9,1874.3 V1866.6 H1126.6 V1874.3 z M1126.6,1874.3 V1864.4 H1131.2 V1874.3 z M1131.2,1874.3 V1866.0 H1135.8 V1874.3 z M1135.8,1874.3 V1868.1 H1140.4 V1874.3 z M1140.4,1874.3 V1870.6 H1145.0 V1874.3 z M1145.0,1874.3 V1871.2 H1151.2 V1874.3 z M1151.2,1874.3 V1865.1 H1155.8 V1874.3 z M1155.8,1874.3 V1852.7 H1159.8 V1874.3 z M1159.8,1874.3 V1841.3 H1163.5 V1874.3 z M1163.5,1874.3 V1831.2 H1167.2 V1874.3 z M1167.2,1874.3 V1840.4 H1171.2 V1874.3 z M1171.2,1874.3 V1852.7 H1176.5 V1874.3 z" fill="#ff00ff"/>
<path d="M998.7,1943.6 V1939.9 H1003.3 V1943.6 z M1003.3,1943.6 V1943.0 H1007.9 V1943.6 z M1007.9,1943.6 V1940.5 H1012.6 V1943.6 z M1012.6,1943.6 V1939.0 H1015.7 V1943.6 z M1015.7,1943.6 V1942.1 H1021.8 V1943.6 z M1021.8,1943.6 V1940.5 H1026.4 V1943.6 z M1026.4,1943.6 V1935.9 H1032.6 V1943.6 z M1032.6,1943.6 V1935.3 H1038.8 V1943.6 z M1038.8,1943.6 V1936.8 H1043.4 V1943.6 z M1043.4,1943.6 V1938.4 H1049.5 V1943.6 z M1049.5,1943.6 V1939.9 H1055.7 V1943.6 z M1055.7,1943.6 V1941.4 H1061.9 V1943.6 z M1061.9,1943.6 V1942.1 H1064.9 V1943.6 z M1064.9,1943.6 V1937.4 H1069.6 V1943.6 z M1069.6,1943.6 V1936.5 H1078.8 V1943.6 z M1078.8,1943.6 V1935.9 H1083.4 V1943.6 z M1083.4,1943.6 V1935.0 H1088.0 V1943.6 z M1088.0,1943.6 V1934.4 H1094.2 V1943.6 z M1094.2,1943.6 V1935.9 H1098.8 V1943.6 z M1098.8,1943.6 V1937.4 H1103.5 V1943.6 z M1103.5,1943.6 V1935.9 H1108.1 V1943.6 z M1108.1,1943.6 V1935.0 H1112.7 V1943.6 z M1112.7,1943.6 V1934.4 H1117.3 V1943.6 z M1117.3,1943.6 V1933.7 H1121.9 V1943.6 z M1121.9,1943.6 V1932.8 H1126.6 V1943.6 z M1126.6,1943.6 V1932.8 H1131.2 V1943.6 z M1131.2,1943.6 V1923.6 H1135.8 V1943.6 z M1135.8,1943.6 V1919.0 H1139.8 V1943.6 z M1139.8,1943.6 V1928.2 H1143.5 V1943.6 z M1143.5,1943.6 V1939.0 H1148.1 V1943.6 z M1148.1,1943.6 V1936.8 H1151.2 V1943.6 z M1151.2,1943.6 V1928.2 H1155.8 V1943.6 z M1155.8,1943.6 V1900.5 H1158.9 V1943.6 z M1158.9,1943.6 V1883.5 H1163.5 V1943.6 z M1163.5,1943.6 V1902.9 H1167.2 V1943.6 z M1167.2,1943.6 V1926.7 H1171.2 V1943.6 z M1171.2,1943.6 V1925.7 H1175.2 V1943.6 z M1175.2,1943.6 V1919.6 H1177.4 V1943.6 z" fill="#ff00ff"/>
<rect x="725" y="1785.4" width="59" height="3" fill="#129a12"/>
<rect x="725" y="1783.3000000000002" width="12" height="7.2" rx="1" fill="#129a12"/>
<rect x="740" y="1783.3000000000002" width="5" height="7.2" rx="1" fill="#129a12"/>
<rect x="770" y="1783.3000000000002" width="14.200000000000045" height="7.2" rx="1" fill="#129a12"/>
<rect x="887.8" y="1782.8000000000002" width="34.5" height="7.2" rx="1" fill="#129a12"/>
<rect x="1065.5" y="1785.1" width="64.70000000000005" height="3" fill="#129a12"/>
<rect x="1065.5" y="1783.0" width="33.5" height="7.2" rx="1" fill="#129a12"/>
<rect x="1099" y="1784" width="31" height="5.2" fill="#129a12"/><path d="M1130,1782.6 V1790.6" stroke="#129a12" stroke-width="1"/>
<rect x="618.3" y="2008.9" width="41.700000000000045" height="3" fill="#129a12"/>
<rect x="618.3" y="2006.8000000000002" width="13.700000000000045" height="7.2" rx="1" fill="#129a12"/>
<rect x="636" y="2006.8000000000002" width="7" height="7.2" rx="1" fill="#129a12"/>
<rect x="646" y="2006.8000000000002" width="14" height="7.2" rx="1" fill="#129a12"/>
<rect x="695.5" y="2008.9" width="40.5" height="3" fill="#129a12"/>
<rect x="695.5" y="2006.8000000000002" width="8.5" height="7.2" rx="1" fill="#129a12"/>
<rect x="708" y="2006.8000000000002" width="28" height="7.2" rx="1" fill="#129a12"/>
<rect x="817.9" y="2006.3000000000002" width="42.10000000000002" height="7.2" rx="1" fill="#129a12"/>
<rect x="1034" y="2008.4" width="57" height="3" fill="#129a12"/>
<rect x="1034" y="2006.3000000000002" width="9" height="7.2" rx="1" fill="#129a12"/>
<rect x="1046" y="2006.3000000000002" width="8" height="7.2" rx="1" fill="#129a12"/>
<rect x="1057" y="2006.3000000000002" width="11" height="7.2" rx="1" fill="#129a12"/>
<rect x="1071" y="2006.3000000000002" width="20" height="7.2" rx="1" fill="#129a12"/>
<rect x="601" y="1576" width="1.2" height="2" fill="#888"/>
<rect x="888.5" y="1575.5" width="1" height="1" fill="#ccc"/><rect x="888.5" y="1578" width="1" height="1" fill="#ccc"/>
</svg>
</body></html>
